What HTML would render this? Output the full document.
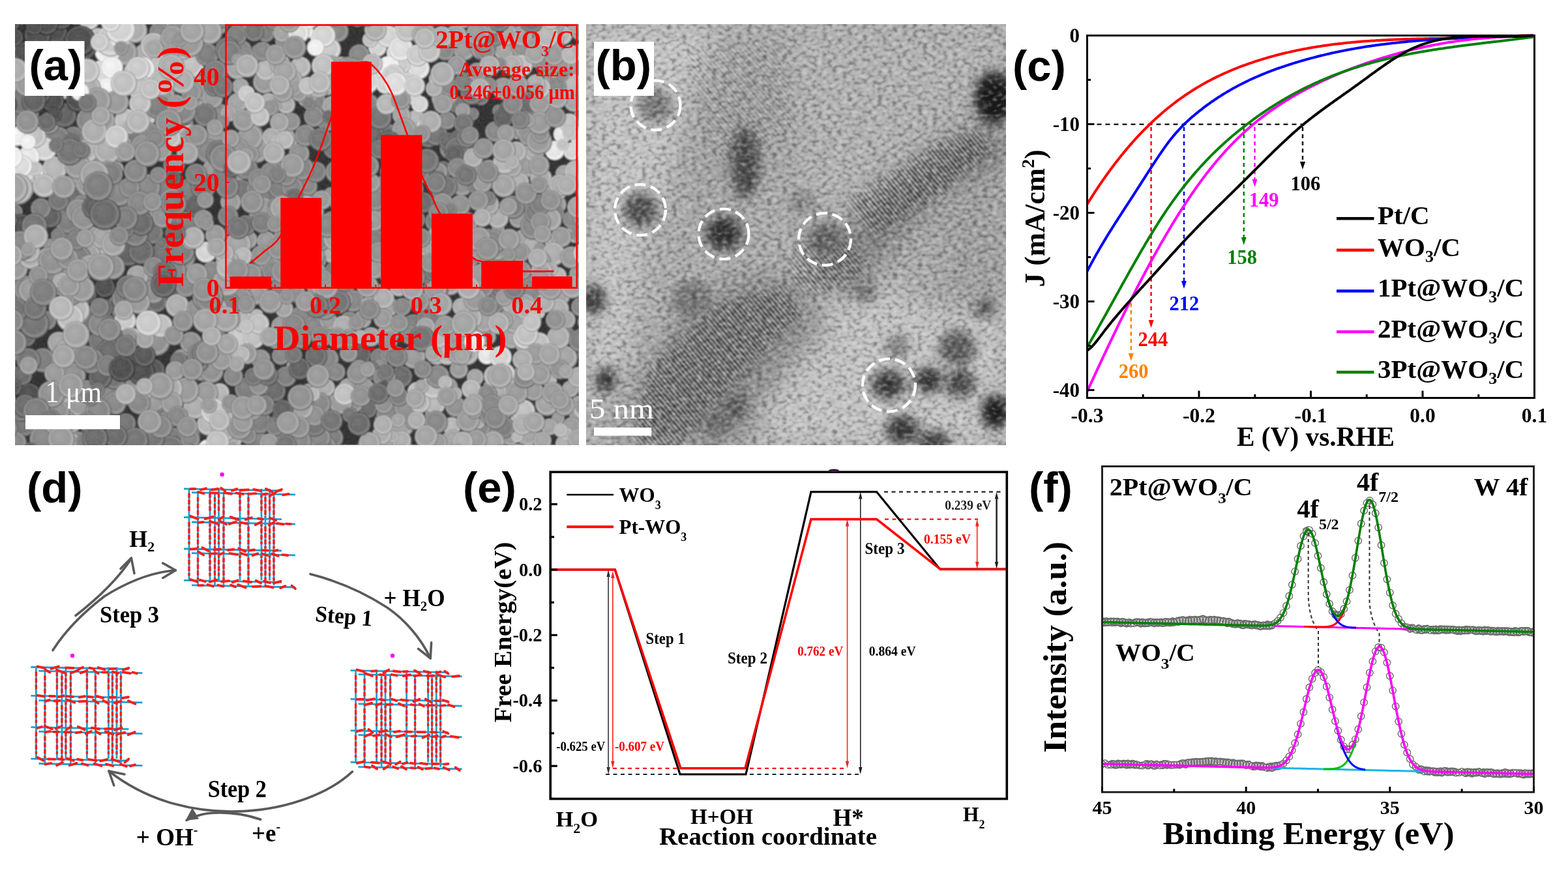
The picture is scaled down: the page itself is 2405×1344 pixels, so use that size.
<!DOCTYPE html>
<html><head><meta charset="utf-8"><style>html,body{margin:0;padding:0;background:#fff;}svg{display:block;}</style></head>
<body><svg width="2405" height="1344" viewBox="0 0 2405 1344">
<rect width="2405" height="1344" fill="#fff"/>
<defs><clipPath id="semclip"><rect x="23" y="37" width="865" height="646"/></clipPath><radialGradient id="sg0" cx="0.5" cy="0.5" r="0.5" fx="0.38" fy="0.34"><stop offset="0" stop-color="rgb(82,82,82)"/><stop offset="0.7" stop-color="rgb(70,70,70)"/><stop offset="0.88" stop-color="rgb(100,100,100)"/><stop offset="1" stop-color="rgb(10,10,10)"/></radialGradient><radialGradient id="sg1" cx="0.5" cy="0.5" r="0.5" fx="0.38" fy="0.34"><stop offset="0" stop-color="rgb(92,92,92)"/><stop offset="0.7" stop-color="rgb(80,80,80)"/><stop offset="0.88" stop-color="rgb(110,110,110)"/><stop offset="1" stop-color="rgb(20,20,20)"/></radialGradient><radialGradient id="sg2" cx="0.5" cy="0.5" r="0.5" fx="0.38" fy="0.34"><stop offset="0" stop-color="rgb(102,102,102)"/><stop offset="0.7" stop-color="rgb(90,90,90)"/><stop offset="0.88" stop-color="rgb(120,120,120)"/><stop offset="1" stop-color="rgb(30,30,30)"/></radialGradient><radialGradient id="sg3" cx="0.5" cy="0.5" r="0.5" fx="0.38" fy="0.34"><stop offset="0" stop-color="rgb(112,112,112)"/><stop offset="0.7" stop-color="rgb(100,100,100)"/><stop offset="0.88" stop-color="rgb(130,130,130)"/><stop offset="1" stop-color="rgb(40,40,40)"/></radialGradient><radialGradient id="sg4" cx="0.5" cy="0.5" r="0.5" fx="0.38" fy="0.34"><stop offset="0" stop-color="rgb(122,122,122)"/><stop offset="0.7" stop-color="rgb(110,110,110)"/><stop offset="0.88" stop-color="rgb(140,140,140)"/><stop offset="1" stop-color="rgb(50,50,50)"/></radialGradient><radialGradient id="sg5" cx="0.5" cy="0.5" r="0.5" fx="0.38" fy="0.34"><stop offset="0" stop-color="rgb(132,132,132)"/><stop offset="0.7" stop-color="rgb(120,120,120)"/><stop offset="0.88" stop-color="rgb(150,150,150)"/><stop offset="1" stop-color="rgb(60,60,60)"/></radialGradient><radialGradient id="sg6" cx="0.5" cy="0.5" r="0.5" fx="0.38" fy="0.34"><stop offset="0" stop-color="rgb(142,142,142)"/><stop offset="0.7" stop-color="rgb(130,130,130)"/><stop offset="0.88" stop-color="rgb(160,160,160)"/><stop offset="1" stop-color="rgb(70,70,70)"/></radialGradient><radialGradient id="sg7" cx="0.5" cy="0.5" r="0.5" fx="0.38" fy="0.34"><stop offset="0" stop-color="rgb(152,152,152)"/><stop offset="0.7" stop-color="rgb(140,140,140)"/><stop offset="0.88" stop-color="rgb(170,170,170)"/><stop offset="1" stop-color="rgb(80,80,80)"/></radialGradient><radialGradient id="sg8" cx="0.5" cy="0.5" r="0.5" fx="0.38" fy="0.34"><stop offset="0" stop-color="rgb(162,162,162)"/><stop offset="0.7" stop-color="rgb(150,150,150)"/><stop offset="0.88" stop-color="rgb(180,180,180)"/><stop offset="1" stop-color="rgb(90,90,90)"/></radialGradient><radialGradient id="sg9" cx="0.5" cy="0.5" r="0.5" fx="0.38" fy="0.34"><stop offset="0" stop-color="rgb(172,172,172)"/><stop offset="0.7" stop-color="rgb(160,160,160)"/><stop offset="0.88" stop-color="rgb(190,190,190)"/><stop offset="1" stop-color="rgb(100,100,100)"/></radialGradient><radialGradient id="sg10" cx="0.5" cy="0.5" r="0.5" fx="0.38" fy="0.34"><stop offset="0" stop-color="rgb(182,182,182)"/><stop offset="0.7" stop-color="rgb(170,170,170)"/><stop offset="0.88" stop-color="rgb(200,200,200)"/><stop offset="1" stop-color="rgb(110,110,110)"/></radialGradient><radialGradient id="sg11" cx="0.5" cy="0.5" r="0.5" fx="0.38" fy="0.34"><stop offset="0" stop-color="rgb(192,192,192)"/><stop offset="0.7" stop-color="rgb(180,180,180)"/><stop offset="0.88" stop-color="rgb(210,210,210)"/><stop offset="1" stop-color="rgb(120,120,120)"/></radialGradient><radialGradient id="sg12" cx="0.5" cy="0.5" r="0.5" fx="0.38" fy="0.34"><stop offset="0" stop-color="rgb(202,202,202)"/><stop offset="0.7" stop-color="rgb(190,190,190)"/><stop offset="0.88" stop-color="rgb(220,220,220)"/><stop offset="1" stop-color="rgb(130,130,130)"/></radialGradient><radialGradient id="sg13" cx="0.5" cy="0.5" r="0.5" fx="0.38" fy="0.34"><stop offset="0" stop-color="rgb(212,212,212)"/><stop offset="0.7" stop-color="rgb(200,200,200)"/><stop offset="0.88" stop-color="rgb(230,230,230)"/><stop offset="1" stop-color="rgb(140,140,140)"/></radialGradient><radialGradient id="sg14" cx="0.5" cy="0.5" r="0.5" fx="0.38" fy="0.34"><stop offset="0" stop-color="rgb(222,222,222)"/><stop offset="0.7" stop-color="rgb(210,210,210)"/><stop offset="0.88" stop-color="rgb(240,240,240)"/><stop offset="1" stop-color="rgb(150,150,150)"/></radialGradient><radialGradient id="sg15" cx="0.5" cy="0.5" r="0.5" fx="0.38" fy="0.34"><stop offset="0" stop-color="rgb(232,232,232)"/><stop offset="0.7" stop-color="rgb(220,220,220)"/><stop offset="0.88" stop-color="rgb(250,250,250)"/><stop offset="1" stop-color="rgb(160,160,160)"/></radialGradient><radialGradient id="sg16" cx="0.5" cy="0.5" r="0.5" fx="0.38" fy="0.34"><stop offset="0" stop-color="rgb(242,242,242)"/><stop offset="0.7" stop-color="rgb(230,230,230)"/><stop offset="0.88" stop-color="rgb(255,255,255)"/><stop offset="1" stop-color="rgb(170,170,170)"/></radialGradient><radialGradient id="sg17" cx="0.5" cy="0.5" r="0.5" fx="0.38" fy="0.34"><stop offset="0" stop-color="rgb(252,252,252)"/><stop offset="0.7" stop-color="rgb(240,240,240)"/><stop offset="0.88" stop-color="rgb(255,255,255)"/><stop offset="1" stop-color="rgb(180,180,180)"/></radialGradient><filter id="semblur" x="-0.2" y="-0.2" width="1.4" height="1.4"><feGaussianBlur stdDeviation="6"/></filter><filter id="semnoise" x="0" y="0" width="1" height="1"><feTurbulence type="fractalNoise" baseFrequency="0.3" numOctaves="2" seed="4"/><feColorMatrix type="matrix" values="0 0 0 0 0.5  0 0 0 0 0.5  0 0 0 0 0.5  0.33 0.33 0.33 0 -0.35"/></filter></defs>
<defs><filter id="semsoft" x="0" y="0" width="1" height="1"><feGaussianBlur stdDeviation="1.1"/></filter></defs>
<g clip-path="url(#semclip)"><g filter="url(#semsoft)">
<rect x="23" y="37" width="865" height="646" fill="#2a2a2a"/>
<circle cx="511" cy="229" r="15" fill="url(#sg4)"/>
<circle cx="524" cy="189" r="16" fill="url(#sg6)"/>
<circle cx="318" cy="82" r="13" fill="url(#sg9)"/>
<circle cx="489" cy="375" r="13" fill="url(#sg7)"/>
<circle cx="251" cy="628" r="17" fill="url(#sg12)"/>
<circle cx="135" cy="453" r="14" fill="url(#sg0)"/>
<circle cx="834" cy="162" r="14" fill="url(#sg8)"/>
<circle cx="240" cy="525" r="21" fill="url(#sg7)"/>
<circle cx="710" cy="216" r="16" fill="url(#sg6)"/>
<circle cx="539" cy="331" r="11" fill="url(#sg6)"/>
<circle cx="539" cy="367" r="18" fill="url(#sg9)"/>
<circle cx="523" cy="105" r="18" fill="url(#sg10)"/>
<circle cx="275" cy="205" r="14" fill="url(#sg11)"/>
<circle cx="205" cy="578" r="19" fill="url(#sg7)"/>
<circle cx="17" cy="540" r="15" fill="url(#sg7)"/>
<circle cx="904" cy="705" r="15" fill="url(#sg9)"/>
<circle cx="796" cy="651" r="16" fill="url(#sg12)"/>
<circle cx="103" cy="649" r="21" fill="url(#sg8)"/>
<circle cx="446" cy="319" r="18" fill="url(#sg8)"/>
<circle cx="906" cy="134" r="18" fill="url(#sg9)"/>
<circle cx="462" cy="490" r="20" fill="url(#sg6)"/>
<circle cx="751" cy="594" r="10" fill="url(#sg9)"/>
<circle cx="432" cy="96" r="12" fill="url(#sg9)"/>
<circle cx="678" cy="292" r="17" fill="url(#sg5)"/>
<circle cx="269" cy="437" r="14" fill="url(#sg2)"/>
<circle cx="655" cy="519" r="16" fill="url(#sg7)"/>
<circle cx="579" cy="73" r="14" fill="url(#sg14)"/>
<circle cx="94" cy="529" r="11" fill="url(#sg6)"/>
<circle cx="366" cy="509" r="11" fill="url(#sg13)"/>
<circle cx="750" cy="262" r="17" fill="url(#sg7)"/>
<circle cx="360" cy="360" r="17" fill="url(#sg5)"/>
<circle cx="845" cy="134" r="9" fill="url(#sg9)"/>
<circle cx="875" cy="597" r="13" fill="url(#sg9)"/>
<circle cx="470" cy="152" r="13" fill="url(#sg8)"/>
<circle cx="182" cy="477" r="12" fill="url(#sg4)"/>
<circle cx="815" cy="27" r="9" fill="url(#sg9)"/>
<circle cx="703" cy="428" r="12" fill="url(#sg11)"/>
<circle cx="754" cy="661" r="9" fill="url(#sg7)"/>
<circle cx="778" cy="379" r="17" fill="url(#sg6)"/>
<circle cx="554" cy="544" r="16" fill="url(#sg2)"/>
<circle cx="366" cy="265" r="13" fill="url(#sg7)"/>
<circle cx="452" cy="324" r="15" fill="url(#sg8)"/>
<circle cx="826" cy="35" r="12" fill="url(#sg6)"/>
<circle cx="154" cy="110" r="17" fill="url(#sg15)"/>
<circle cx="799" cy="153" r="17" fill="url(#sg5)"/>
<circle cx="587" cy="645" r="12" fill="url(#sg9)"/>
<circle cx="424" cy="404" r="16" fill="url(#sg10)"/>
<circle cx="711" cy="26" r="17" fill="url(#sg10)"/>
<circle cx="590" cy="293" r="14" fill="url(#sg7)"/>
<circle cx="849" cy="111" r="17" fill="url(#sg7)"/>
<circle cx="90" cy="526" r="17" fill="url(#sg9)"/>
<circle cx="34" cy="576" r="16" fill="url(#sg3)"/>
<circle cx="481" cy="502" r="17" fill="url(#sg6)"/>
<circle cx="530" cy="21" r="18" fill="url(#sg2)"/>
<circle cx="856" cy="105" r="18" fill="url(#sg8)"/>
<circle cx="409" cy="370" r="15" fill="url(#sg8)"/>
<circle cx="619" cy="253" r="11" fill="url(#sg5)"/>
<circle cx="709" cy="283" r="18" fill="url(#sg7)"/>
<circle cx="655" cy="57" r="12" fill="url(#sg10)"/>
<circle cx="399" cy="331" r="17" fill="url(#sg7)"/>
<circle cx="614" cy="412" r="12" fill="url(#sg8)"/>
<circle cx="275" cy="192" r="23" fill="url(#sg5)"/>
<circle cx="780" cy="397" r="15" fill="url(#sg6)"/>
<circle cx="586" cy="409" r="12" fill="url(#sg6)"/>
<circle cx="665" cy="637" r="13" fill="url(#sg8)"/>
<circle cx="701" cy="161" r="13" fill="url(#sg4)"/>
<circle cx="387" cy="311" r="16" fill="url(#sg5)"/>
<circle cx="453" cy="689" r="17" fill="url(#sg7)"/>
<circle cx="729" cy="579" r="13" fill="url(#sg9)"/>
<circle cx="863" cy="54" r="15" fill="url(#sg11)"/>
<circle cx="664" cy="26" r="14" fill="url(#sg8)"/>
<circle cx="179" cy="259" r="11" fill="url(#sg8)"/>
<circle cx="438" cy="313" r="16" fill="url(#sg8)"/>
<circle cx="803" cy="631" r="18" fill="url(#sg12)"/>
<circle cx="364" cy="158" r="15" fill="url(#sg9)"/>
<circle cx="113" cy="576" r="19" fill="url(#sg7)"/>
<circle cx="496" cy="617" r="17" fill="url(#sg7)"/>
<circle cx="278" cy="551" r="15" fill="url(#sg8)"/>
<circle cx="823" cy="444" r="16" fill="url(#sg9)"/>
<circle cx="222" cy="83" r="16" fill="url(#sg10)"/>
<circle cx="319" cy="651" r="17" fill="url(#sg11)"/>
<circle cx="508" cy="299" r="12" fill="url(#sg7)"/>
<circle cx="331" cy="211" r="16" fill="url(#sg8)"/>
<circle cx="33" cy="492" r="14" fill="url(#sg2)"/>
<circle cx="789" cy="380" r="18" fill="url(#sg8)"/>
<circle cx="268" cy="446" r="19" fill="url(#sg2)"/>
<circle cx="765" cy="170" r="10" fill="url(#sg5)"/>
<circle cx="183" cy="200" r="18" fill="url(#sg11)"/>
<circle cx="596" cy="208" r="18" fill="url(#sg5)"/>
<circle cx="173" cy="521" r="19" fill="url(#sg4)"/>
<circle cx="764" cy="352" r="10" fill="url(#sg8)"/>
<circle cx="121" cy="274" r="16" fill="url(#sg9)"/>
<circle cx="535" cy="542" r="14" fill="url(#sg7)"/>
<circle cx="475" cy="604" r="16" fill="url(#sg8)"/>
<circle cx="693" cy="654" r="14" fill="url(#sg11)"/>
<circle cx="680" cy="261" r="14" fill="url(#sg3)"/>
<circle cx="854" cy="68" r="11" fill="url(#sg8)"/>
<circle cx="502" cy="187" r="15" fill="url(#sg6)"/>
<circle cx="897" cy="181" r="18" fill="url(#sg7)"/>
<circle cx="411" cy="596" r="11" fill="url(#sg1)"/>
<circle cx="699" cy="56" r="18" fill="url(#sg9)"/>
<circle cx="510" cy="672" r="17" fill="url(#sg5)"/>
<circle cx="456" cy="301" r="17" fill="url(#sg3)"/>
<circle cx="616" cy="53" r="16" fill="url(#sg16)"/>
<circle cx="664" cy="593" r="17" fill="url(#sg10)"/>
<circle cx="330" cy="698" r="12" fill="url(#sg12)"/>
<circle cx="582" cy="33" r="14" fill="url(#sg14)"/>
<circle cx="297" cy="151" r="17" fill="url(#sg8)"/>
<circle cx="565" cy="628" r="14" fill="url(#sg3)"/>
<circle cx="541" cy="618" r="17" fill="url(#sg7)"/>
<circle cx="760" cy="691" r="18" fill="url(#sg7)"/>
<circle cx="258" cy="77" r="20" fill="url(#sg11)"/>
<circle cx="236" cy="618" r="16" fill="url(#sg8)"/>
<circle cx="736" cy="656" r="17" fill="url(#sg6)"/>
<circle cx="773" cy="272" r="16" fill="url(#sg7)"/>
<circle cx="535" cy="596" r="16" fill="url(#sg9)"/>
<circle cx="131" cy="702" r="18" fill="url(#sg5)"/>
<circle cx="279" cy="395" r="21" fill="url(#sg6)"/>
<circle cx="866" cy="681" r="14" fill="url(#sg10)"/>
<circle cx="866" cy="267" r="14" fill="url(#sg9)"/>
<circle cx="406" cy="126" r="18" fill="url(#sg8)"/>
<circle cx="891" cy="47" r="16" fill="url(#sg8)"/>
<circle cx="811" cy="309" r="17" fill="url(#sg8)"/>
<circle cx="772" cy="678" r="15" fill="url(#sg9)"/>
<circle cx="403" cy="703" r="14" fill="url(#sg6)"/>
<circle cx="520" cy="309" r="15" fill="url(#sg9)"/>
<circle cx="359" cy="637" r="15" fill="url(#sg5)"/>
<circle cx="458" cy="388" r="15" fill="url(#sg5)"/>
<circle cx="400" cy="224" r="13" fill="url(#sg9)"/>
<circle cx="704" cy="567" r="14" fill="url(#sg8)"/>
<circle cx="901" cy="648" r="17" fill="url(#sg9)"/>
<circle cx="797" cy="374" r="20" fill="url(#sg9)"/>
<circle cx="726" cy="466" r="17" fill="url(#sg12)"/>
<circle cx="811" cy="255" r="14" fill="url(#sg12)"/>
<circle cx="269" cy="352" r="13" fill="url(#sg5)"/>
<circle cx="267" cy="254" r="17" fill="url(#sg4)"/>
<circle cx="660" cy="402" r="19" fill="url(#sg7)"/>
<circle cx="398" cy="440" r="16" fill="url(#sg4)"/>
<circle cx="119" cy="109" r="21" fill="url(#sg17)"/>
<circle cx="394" cy="232" r="18" fill="url(#sg8)"/>
<circle cx="87" cy="637" r="14" fill="url(#sg4)"/>
<circle cx="219" cy="179" r="20" fill="url(#sg12)"/>
<circle cx="46" cy="605" r="17" fill="url(#sg0)"/>
<circle cx="224" cy="325" r="11" fill="url(#sg6)"/>
<circle cx="349" cy="655" r="21" fill="url(#sg10)"/>
<circle cx="817" cy="533" r="19" fill="url(#sg12)"/>
<circle cx="889" cy="621" r="14" fill="url(#sg9)"/>
<circle cx="811" cy="256" r="16" fill="url(#sg8)"/>
<circle cx="582" cy="548" r="14" fill="url(#sg5)"/>
<circle cx="795" cy="336" r="14" fill="url(#sg8)"/>
<circle cx="457" cy="358" r="14" fill="url(#sg11)"/>
<circle cx="222" cy="289" r="18" fill="url(#sg4)"/>
<circle cx="160" cy="185" r="17" fill="url(#sg8)"/>
<circle cx="551" cy="568" r="16" fill="url(#sg7)"/>
<circle cx="84" cy="48" r="20" fill="url(#sg0)"/>
<circle cx="856" cy="642" r="10" fill="url(#sg8)"/>
<circle cx="343" cy="692" r="19" fill="url(#sg12)"/>
<circle cx="190" cy="315" r="18" fill="url(#sg4)"/>
<circle cx="465" cy="310" r="13" fill="url(#sg10)"/>
<circle cx="518" cy="48" r="17" fill="url(#sg6)"/>
<circle cx="785" cy="520" r="15" fill="url(#sg9)"/>
<circle cx="531" cy="392" r="16" fill="url(#sg10)"/>
<circle cx="500" cy="595" r="14" fill="url(#sg10)"/>
<circle cx="408" cy="108" r="16" fill="url(#sg11)"/>
<circle cx="52" cy="263" r="16" fill="url(#sg15)"/>
<circle cx="234" cy="358" r="17" fill="url(#sg4)"/>
<circle cx="902" cy="238" r="18" fill="url(#sg15)"/>
<circle cx="408" cy="52" r="13" fill="url(#sg5)"/>
<circle cx="221" cy="440" r="19" fill="url(#sg6)"/>
<circle cx="326" cy="418" r="17" fill="url(#sg6)"/>
<circle cx="146" cy="363" r="15" fill="url(#sg9)"/>
<circle cx="257" cy="290" r="19" fill="url(#sg5)"/>
<circle cx="697" cy="349" r="9" fill="url(#sg5)"/>
<circle cx="379" cy="259" r="17" fill="url(#sg5)"/>
<circle cx="689" cy="337" r="18" fill="url(#sg6)"/>
<circle cx="614" cy="269" r="15" fill="url(#sg9)"/>
<circle cx="68" cy="127" r="18" fill="url(#sg10)"/>
<circle cx="672" cy="264" r="15" fill="url(#sg7)"/>
<circle cx="690" cy="611" r="17" fill="url(#sg8)"/>
<circle cx="16" cy="441" r="20" fill="url(#sg5)"/>
<circle cx="596" cy="420" r="15" fill="url(#sg7)"/>
<circle cx="591" cy="284" r="16" fill="url(#sg7)"/>
<circle cx="673" cy="692" r="12" fill="url(#sg10)"/>
<circle cx="493" cy="516" r="16" fill="url(#sg7)"/>
<circle cx="616" cy="578" r="17" fill="url(#sg3)"/>
<circle cx="240" cy="463" r="17" fill="url(#sg3)"/>
<circle cx="597" cy="210" r="12" fill="url(#sg2)"/>
<circle cx="165" cy="605" r="19" fill="url(#sg6)"/>
<circle cx="37" cy="653" r="17" fill="url(#sg4)"/>
<circle cx="635" cy="548" r="18" fill="url(#sg8)"/>
<circle cx="657" cy="211" r="16" fill="url(#sg3)"/>
<circle cx="513" cy="416" r="15" fill="url(#sg5)"/>
<circle cx="794" cy="202" r="12" fill="url(#sg8)"/>
<circle cx="357" cy="673" r="15" fill="url(#sg10)"/>
<circle cx="560" cy="132" r="16" fill="url(#sg11)"/>
<circle cx="430" cy="117" r="14" fill="url(#sg11)"/>
<circle cx="787" cy="318" r="18" fill="url(#sg5)"/>
<circle cx="502" cy="130" r="16" fill="url(#sg12)"/>
<circle cx="774" cy="481" r="12" fill="url(#sg7)"/>
<circle cx="42" cy="444" r="21" fill="url(#sg6)"/>
<circle cx="320" cy="691" r="17" fill="url(#sg17)"/>
<circle cx="485" cy="442" r="14" fill="url(#sg7)"/>
<circle cx="247" cy="148" r="22" fill="url(#sg8)"/>
<circle cx="844" cy="533" r="9" fill="url(#sg10)"/>
<circle cx="902" cy="574" r="10" fill="url(#sg9)"/>
<circle cx="689" cy="674" r="12" fill="url(#sg10)"/>
<circle cx="822" cy="365" r="11" fill="url(#sg10)"/>
<circle cx="896" cy="323" r="11" fill="url(#sg6)"/>
<circle cx="177" cy="689" r="13" fill="url(#sg5)"/>
<circle cx="392" cy="449" r="19" fill="url(#sg8)"/>
<circle cx="286" cy="669" r="21" fill="url(#sg7)"/>
<circle cx="56" cy="235" r="12" fill="url(#sg17)"/>
<circle cx="492" cy="57" r="16" fill="url(#sg17)"/>
<circle cx="292" cy="211" r="20" fill="url(#sg11)"/>
<circle cx="29" cy="28" r="13" fill="url(#sg0)"/>
<circle cx="895" cy="637" r="19" fill="url(#sg8)"/>
<circle cx="470" cy="299" r="18" fill="url(#sg6)"/>
<circle cx="432" cy="501" r="16" fill="url(#sg8)"/>
<circle cx="406" cy="411" r="14" fill="url(#sg8)"/>
<circle cx="582" cy="345" r="15" fill="url(#sg6)"/>
<circle cx="143" cy="256" r="16" fill="url(#sg7)"/>
<circle cx="226" cy="288" r="21" fill="url(#sg6)"/>
<circle cx="747" cy="545" r="14" fill="url(#sg16)"/>
<circle cx="527" cy="440" r="17" fill="url(#sg5)"/>
<circle cx="563" cy="701" r="18" fill="url(#sg4)"/>
<circle cx="545" cy="605" r="15" fill="url(#sg7)"/>
<circle cx="164" cy="525" r="13" fill="url(#sg4)"/>
<circle cx="104" cy="540" r="20" fill="url(#sg9)"/>
<circle cx="378" cy="597" r="18" fill="url(#sg5)"/>
<circle cx="461" cy="103" r="16" fill="url(#sg11)"/>
<circle cx="244" cy="49" r="15" fill="url(#sg6)"/>
<circle cx="457" cy="25" r="15" fill="url(#sg13)"/>
<circle cx="339" cy="640" r="19" fill="url(#sg10)"/>
<circle cx="510" cy="386" r="18" fill="url(#sg10)"/>
<circle cx="631" cy="385" r="14" fill="url(#sg9)"/>
<circle cx="191" cy="30" r="18" fill="url(#sg7)"/>
<circle cx="620" cy="204" r="18" fill="url(#sg5)"/>
<circle cx="183" cy="381" r="19" fill="url(#sg6)"/>
<circle cx="734" cy="648" r="10" fill="url(#sg10)"/>
<circle cx="890" cy="209" r="16" fill="url(#sg14)"/>
<circle cx="310" cy="563" r="22" fill="url(#sg7)"/>
<circle cx="413" cy="161" r="18" fill="url(#sg10)"/>
<circle cx="61" cy="688" r="16" fill="url(#sg3)"/>
<circle cx="738" cy="150" r="12" fill="url(#sg4)"/>
<circle cx="591" cy="416" r="14" fill="url(#sg8)"/>
<circle cx="398" cy="81" r="14" fill="url(#sg6)"/>
<circle cx="856" cy="423" r="13" fill="url(#sg11)"/>
<circle cx="74" cy="650" r="17" fill="url(#sg4)"/>
<circle cx="523" cy="618" r="18" fill="url(#sg8)"/>
<circle cx="186" cy="232" r="17" fill="url(#sg7)"/>
<circle cx="297" cy="432" r="11" fill="url(#sg6)"/>
<circle cx="249" cy="326" r="20" fill="url(#sg7)"/>
<circle cx="137" cy="30" r="16" fill="url(#sg13)"/>
<circle cx="604" cy="337" r="16" fill="url(#sg8)"/>
<circle cx="595" cy="56" r="17" fill="url(#sg14)"/>
<circle cx="783" cy="671" r="13" fill="url(#sg8)"/>
<circle cx="277" cy="44" r="14" fill="url(#sg6)"/>
<circle cx="631" cy="337" r="17" fill="url(#sg4)"/>
<circle cx="325" cy="570" r="18" fill="url(#sg7)"/>
<circle cx="432" cy="439" r="16" fill="url(#sg6)"/>
<circle cx="83" cy="419" r="21" fill="url(#sg6)"/>
<circle cx="113" cy="212" r="18" fill="url(#sg5)"/>
<circle cx="448" cy="125" r="17" fill="url(#sg9)"/>
<circle cx="252" cy="645" r="19" fill="url(#sg4)"/>
<circle cx="223" cy="708" r="18" fill="url(#sg7)"/>
<circle cx="380" cy="32" r="18" fill="url(#sg8)"/>
<circle cx="107" cy="69" r="15" fill="url(#sg0)"/>
<circle cx="337" cy="603" r="15" fill="url(#sg11)"/>
<circle cx="355" cy="460" r="15" fill="url(#sg9)"/>
<circle cx="89" cy="214" r="20" fill="url(#sg5)"/>
<circle cx="773" cy="656" r="17" fill="url(#sg5)"/>
<circle cx="618" cy="422" r="18" fill="url(#sg5)"/>
<circle cx="836" cy="102" r="14" fill="url(#sg7)"/>
<circle cx="320" cy="232" r="19" fill="url(#sg6)"/>
<circle cx="422" cy="600" r="17" fill="url(#sg3)"/>
<circle cx="72" cy="708" r="17" fill="url(#sg2)"/>
<circle cx="293" cy="100" r="20" fill="url(#sg12)"/>
<circle cx="814" cy="161" r="16" fill="url(#sg3)"/>
<circle cx="303" cy="554" r="18" fill="url(#sg4)"/>
<circle cx="669" cy="206" r="18" fill="url(#sg4)"/>
<circle cx="61" cy="486" r="15" fill="url(#sg3)"/>
<circle cx="809" cy="433" r="12" fill="url(#sg6)"/>
<circle cx="207" cy="47" r="19" fill="url(#sg10)"/>
<circle cx="179" cy="36" r="17" fill="url(#sg14)"/>
<circle cx="113" cy="627" r="16" fill="url(#sg7)"/>
<circle cx="499" cy="111" r="12" fill="url(#sg12)"/>
<circle cx="509" cy="342" r="18" fill="url(#sg6)"/>
<circle cx="815" cy="449" r="16" fill="url(#sg6)"/>
<circle cx="364" cy="522" r="18" fill="url(#sg13)"/>
<circle cx="399" cy="39" r="9" fill="url(#sg6)"/>
<circle cx="553" cy="239" r="16" fill="url(#sg6)"/>
<circle cx="495" cy="658" r="15" fill="url(#sg6)"/>
<circle cx="381" cy="368" r="14" fill="url(#sg8)"/>
<circle cx="269" cy="335" r="18" fill="url(#sg5)"/>
<circle cx="506" cy="76" r="17" fill="url(#sg13)"/>
<circle cx="75" cy="189" r="17" fill="url(#sg6)"/>
<circle cx="773" cy="77" r="16" fill="url(#sg9)"/>
<circle cx="675" cy="604" r="13" fill="url(#sg11)"/>
<circle cx="124" cy="618" r="23" fill="url(#sg8)"/>
<circle cx="712" cy="76" r="17" fill="url(#sg8)"/>
<circle cx="567" cy="174" r="14" fill="url(#sg6)"/>
<circle cx="397" cy="592" r="15" fill="url(#sg7)"/>
<circle cx="832" cy="50" r="16" fill="url(#sg5)"/>
<circle cx="48" cy="446" r="20" fill="url(#sg8)"/>
<circle cx="455" cy="564" r="16" fill="url(#sg8)"/>
<circle cx="503" cy="551" r="17" fill="url(#sg6)"/>
<circle cx="461" cy="410" r="14" fill="url(#sg6)"/>
<circle cx="400" cy="551" r="15" fill="url(#sg7)"/>
<circle cx="330" cy="262" r="20" fill="url(#sg8)"/>
<circle cx="790" cy="496" r="16" fill="url(#sg9)"/>
<circle cx="872" cy="21" r="15" fill="url(#sg11)"/>
<circle cx="706" cy="96" r="9" fill="url(#sg5)"/>
<circle cx="151" cy="59" r="16" fill="url(#sg12)"/>
<circle cx="23" cy="325" r="12" fill="url(#sg5)"/>
<circle cx="369" cy="133" r="13" fill="url(#sg9)"/>
<circle cx="682" cy="151" r="20" fill="url(#sg9)"/>
<circle cx="400" cy="335" r="10" fill="url(#sg8)"/>
<circle cx="182" cy="468" r="17" fill="url(#sg5)"/>
<circle cx="438" cy="163" r="9" fill="url(#sg10)"/>
<circle cx="268" cy="415" r="18" fill="url(#sg6)"/>
<circle cx="316" cy="387" r="16" fill="url(#sg14)"/>
<circle cx="378" cy="144" r="13" fill="url(#sg13)"/>
<circle cx="693" cy="22" r="14" fill="url(#sg7)"/>
<circle cx="835" cy="225" r="9" fill="url(#sg10)"/>
<circle cx="584" cy="563" r="12" fill="url(#sg7)"/>
<circle cx="88" cy="547" r="13" fill="url(#sg7)"/>
<circle cx="373" cy="493" r="17" fill="url(#sg11)"/>
<circle cx="773" cy="590" r="18" fill="url(#sg11)"/>
<circle cx="226" cy="666" r="13" fill="url(#sg7)"/>
<circle cx="858" cy="453" r="17" fill="url(#sg9)"/>
<circle cx="542" cy="462" r="17" fill="url(#sg6)"/>
<circle cx="749" cy="366" r="15" fill="url(#sg7)"/>
<circle cx="567" cy="569" r="16" fill="url(#sg3)"/>
<circle cx="534" cy="190" r="15" fill="url(#sg8)"/>
<circle cx="806" cy="181" r="11" fill="url(#sg5)"/>
<circle cx="470" cy="48" r="11" fill="url(#sg16)"/>
<circle cx="748" cy="517" r="13" fill="url(#sg8)"/>
<circle cx="839" cy="620" r="18" fill="url(#sg9)"/>
<circle cx="215" cy="559" r="15" fill="url(#sg2)"/>
<circle cx="473" cy="286" r="14" fill="url(#sg6)"/>
<circle cx="643" cy="187" r="15" fill="url(#sg15)"/>
<circle cx="551" cy="84" r="16" fill="url(#sg6)"/>
<circle cx="669" cy="417" r="15" fill="url(#sg4)"/>
<circle cx="757" cy="678" r="17" fill="url(#sg9)"/>
<circle cx="210" cy="213" r="21" fill="url(#sg4)"/>
<circle cx="339" cy="540" r="23" fill="url(#sg8)"/>
<circle cx="685" cy="287" r="17" fill="url(#sg4)"/>
<circle cx="439" cy="578" r="16" fill="url(#sg5)"/>
<circle cx="827" cy="480" r="9" fill="url(#sg12)"/>
<circle cx="388" cy="207" r="16" fill="url(#sg9)"/>
<circle cx="760" cy="202" r="16" fill="url(#sg6)"/>
<circle cx="699" cy="624" r="16" fill="url(#sg7)"/>
<circle cx="843" cy="567" r="16" fill="url(#sg6)"/>
<circle cx="631" cy="31" r="14" fill="url(#sg9)"/>
<circle cx="883" cy="263" r="17" fill="url(#sg11)"/>
<circle cx="694" cy="390" r="16" fill="url(#sg7)"/>
<circle cx="430" cy="99" r="16" fill="url(#sg9)"/>
<circle cx="317" cy="603" r="18" fill="url(#sg8)"/>
<circle cx="337" cy="177" r="18" fill="url(#sg6)"/>
<circle cx="794" cy="32" r="14" fill="url(#sg5)"/>
<circle cx="850" cy="374" r="14" fill="url(#sg10)"/>
<circle cx="895" cy="324" r="15" fill="url(#sg5)"/>
<circle cx="94" cy="363" r="16" fill="url(#sg6)"/>
<circle cx="77" cy="376" r="10" fill="url(#sg7)"/>
<circle cx="444" cy="341" r="15" fill="url(#sg5)"/>
<circle cx="534" cy="104" r="17" fill="url(#sg7)"/>
<circle cx="567" cy="470" r="15" fill="url(#sg10)"/>
<circle cx="441" cy="647" r="17" fill="url(#sg6)"/>
<circle cx="264" cy="674" r="18" fill="url(#sg5)"/>
<circle cx="723" cy="597" r="15" fill="url(#sg11)"/>
<circle cx="683" cy="79" r="14" fill="url(#sg6)"/>
<circle cx="587" cy="706" r="16" fill="url(#sg7)"/>
<circle cx="41" cy="518" r="14" fill="url(#sg3)"/>
<circle cx="391" cy="671" r="16" fill="url(#sg6)"/>
<circle cx="178" cy="23" r="24" fill="url(#sg17)"/>
<circle cx="333" cy="25" r="24" fill="url(#sg9)"/>
<circle cx="596" cy="638" r="19" fill="url(#sg6)"/>
<circle cx="883" cy="155" r="15" fill="url(#sg8)"/>
<circle cx="545" cy="570" r="11" fill="url(#sg7)"/>
<circle cx="679" cy="313" r="17" fill="url(#sg7)"/>
<circle cx="485" cy="157" r="16" fill="url(#sg6)"/>
<circle cx="589" cy="621" r="14" fill="url(#sg7)"/>
<circle cx="689" cy="134" r="14" fill="url(#sg6)"/>
<circle cx="617" cy="653" r="18" fill="url(#sg9)"/>
<circle cx="26" cy="207" r="17" fill="url(#sg17)"/>
<circle cx="232" cy="142" r="23" fill="url(#sg14)"/>
<circle cx="288" cy="343" r="19" fill="url(#sg5)"/>
<circle cx="195" cy="22" r="19" fill="url(#sg7)"/>
<circle cx="420" cy="31" r="15" fill="url(#sg5)"/>
<circle cx="763" cy="283" r="11" fill="url(#sg7)"/>
<circle cx="504" cy="493" r="14" fill="url(#sg8)"/>
<circle cx="764" cy="603" r="15" fill="url(#sg10)"/>
<circle cx="831" cy="564" r="17" fill="url(#sg9)"/>
<circle cx="751" cy="396" r="15" fill="url(#sg7)"/>
<circle cx="81" cy="328" r="15" fill="url(#sg5)"/>
<circle cx="597" cy="471" r="15" fill="url(#sg9)"/>
<circle cx="891" cy="471" r="15" fill="url(#sg6)"/>
<circle cx="655" cy="419" r="12" fill="url(#sg6)"/>
<circle cx="843" cy="584" r="11" fill="url(#sg11)"/>
<circle cx="696" cy="366" r="20" fill="url(#sg10)"/>
<circle cx="597" cy="359" r="14" fill="url(#sg6)"/>
<circle cx="218" cy="604" r="15" fill="url(#sg9)"/>
<circle cx="312" cy="135" r="20" fill="url(#sg8)"/>
<circle cx="868" cy="549" r="18" fill="url(#sg9)"/>
<circle cx="104" cy="339" r="20" fill="url(#sg5)"/>
<circle cx="133" cy="232" r="18" fill="url(#sg11)"/>
<circle cx="570" cy="600" r="13" fill="url(#sg6)"/>
<circle cx="670" cy="276" r="14" fill="url(#sg3)"/>
<circle cx="432" cy="63" r="10" fill="url(#sg7)"/>
<circle cx="372" cy="292" r="16" fill="url(#sg4)"/>
<circle cx="121" cy="370" r="20" fill="url(#sg5)"/>
<circle cx="191" cy="81" r="20" fill="url(#sg8)"/>
<circle cx="717" cy="543" r="17" fill="url(#sg10)"/>
<circle cx="377" cy="346" r="16" fill="url(#sg4)"/>
<circle cx="883" cy="358" r="15" fill="url(#sg10)"/>
<circle cx="719" cy="231" r="15" fill="url(#sg3)"/>
<circle cx="851" cy="231" r="15" fill="url(#sg16)"/>
<circle cx="327" cy="121" r="13" fill="url(#sg7)"/>
<circle cx="27" cy="371" r="17" fill="url(#sg7)"/>
<circle cx="235" cy="569" r="19" fill="url(#sg1)"/>
<circle cx="499" cy="685" r="17" fill="url(#sg6)"/>
<circle cx="177" cy="143" r="19" fill="url(#sg14)"/>
<circle cx="805" cy="528" r="15" fill="url(#sg8)"/>
<circle cx="250" cy="389" r="18" fill="url(#sg4)"/>
<circle cx="337" cy="438" r="16" fill="url(#sg7)"/>
<circle cx="119" cy="426" r="19" fill="url(#sg8)"/>
<circle cx="299" cy="625" r="18" fill="url(#sg10)"/>
<circle cx="610" cy="238" r="15" fill="url(#sg6)"/>
<circle cx="411" cy="576" r="16" fill="url(#sg3)"/>
<circle cx="621" cy="93" r="9" fill="url(#sg16)"/>
<circle cx="490" cy="620" r="18" fill="url(#sg6)"/>
<circle cx="668" cy="621" r="15" fill="url(#sg11)"/>
<circle cx="274" cy="553" r="13" fill="url(#sg4)"/>
<circle cx="499" cy="473" r="18" fill="url(#sg6)"/>
<circle cx="290" cy="292" r="18" fill="url(#sg5)"/>
<circle cx="294" cy="142" r="16" fill="url(#sg7)"/>
<circle cx="430" cy="659" r="19" fill="url(#sg6)"/>
<circle cx="278" cy="386" r="21" fill="url(#sg5)"/>
<circle cx="853" cy="314" r="16" fill="url(#sg8)"/>
<circle cx="84" cy="259" r="19" fill="url(#sg11)"/>
<circle cx="399" cy="648" r="18" fill="url(#sg5)"/>
<circle cx="819" cy="600" r="15" fill="url(#sg8)"/>
<circle cx="801" cy="73" r="17" fill="url(#sg7)"/>
<circle cx="669" cy="127" r="11" fill="url(#sg12)"/>
<circle cx="618" cy="692" r="17" fill="url(#sg10)"/>
<circle cx="444" cy="217" r="12" fill="url(#sg10)"/>
<circle cx="268" cy="33" r="15" fill="url(#sg8)"/>
<circle cx="192" cy="492" r="17" fill="url(#sg13)"/>
<circle cx="24" cy="412" r="19" fill="url(#sg8)"/>
<circle cx="848" cy="603" r="17" fill="url(#sg8)"/>
<circle cx="198" cy="389" r="20" fill="url(#sg2)"/>
<circle cx="553" cy="110" r="18" fill="url(#sg9)"/>
<circle cx="158" cy="500" r="17" fill="url(#sg3)"/>
<circle cx="293" cy="526" r="17" fill="url(#sg7)"/>
<circle cx="211" cy="424" r="17" fill="url(#sg9)"/>
<circle cx="806" cy="670" r="13" fill="url(#sg11)"/>
<circle cx="165" cy="231" r="21" fill="url(#sg10)"/>
<circle cx="650" cy="493" r="11" fill="url(#sg7)"/>
<circle cx="165" cy="78" r="20" fill="url(#sg17)"/>
<circle cx="432" cy="388" r="18" fill="url(#sg9)"/>
<circle cx="489" cy="400" r="12" fill="url(#sg6)"/>
<circle cx="439" cy="161" r="14" fill="url(#sg10)"/>
<circle cx="134" cy="601" r="18" fill="url(#sg6)"/>
<circle cx="478" cy="324" r="19" fill="url(#sg9)"/>
<circle cx="451" cy="499" r="18" fill="url(#sg6)"/>
<circle cx="335" cy="40" r="14" fill="url(#sg7)"/>
<circle cx="280" cy="74" r="18" fill="url(#sg10)"/>
<circle cx="610" cy="81" r="17" fill="url(#sg15)"/>
<circle cx="850" cy="39" r="15" fill="url(#sg8)"/>
<circle cx="764" cy="335" r="16" fill="url(#sg10)"/>
<circle cx="889" cy="640" r="9" fill="url(#sg7)"/>
<circle cx="739" cy="34" r="14" fill="url(#sg6)"/>
<circle cx="626" cy="338" r="19" fill="url(#sg8)"/>
<circle cx="438" cy="212" r="16" fill="url(#sg8)"/>
<circle cx="531" cy="459" r="11" fill="url(#sg7)"/>
<circle cx="537" cy="637" r="12" fill="url(#sg4)"/>
<circle cx="91" cy="443" r="10" fill="url(#sg8)"/>
<circle cx="338" cy="239" r="18" fill="url(#sg4)"/>
<circle cx="686" cy="185" r="14" fill="url(#sg6)"/>
<circle cx="490" cy="440" r="12" fill="url(#sg10)"/>
<circle cx="372" cy="436" r="15" fill="url(#sg7)"/>
<circle cx="622" cy="627" r="17" fill="url(#sg7)"/>
<circle cx="242" cy="164" r="19" fill="url(#sg5)"/>
<circle cx="436" cy="520" r="15" fill="url(#sg6)"/>
<circle cx="616" cy="286" r="17" fill="url(#sg7)"/>
<circle cx="363" cy="30" r="13" fill="url(#sg7)"/>
<circle cx="57" cy="188" r="11" fill="url(#sg4)"/>
<circle cx="258" cy="642" r="13" fill="url(#sg6)"/>
<circle cx="328" cy="631" r="20" fill="url(#sg13)"/>
<circle cx="58" cy="54" r="21" fill="url(#sg0)"/>
<circle cx="365" cy="464" r="14" fill="url(#sg7)"/>
<circle cx="178" cy="361" r="12" fill="url(#sg6)"/>
<circle cx="60" cy="108" r="20" fill="url(#sg11)"/>
<circle cx="797" cy="280" r="15" fill="url(#sg10)"/>
<circle cx="372" cy="76" r="14" fill="url(#sg6)"/>
<circle cx="72" cy="492" r="15" fill="url(#sg5)"/>
<circle cx="691" cy="437" r="16" fill="url(#sg9)"/>
<circle cx="135" cy="491" r="19" fill="url(#sg4)"/>
<circle cx="734" cy="265" r="18" fill="url(#sg7)"/>
<circle cx="217" cy="386" r="20" fill="url(#sg3)"/>
<circle cx="750" cy="638" r="14" fill="url(#sg6)"/>
<circle cx="558" cy="186" r="15" fill="url(#sg7)"/>
<circle cx="721" cy="396" r="14" fill="url(#sg6)"/>
<circle cx="805" cy="363" r="13" fill="url(#sg9)"/>
<circle cx="898" cy="275" r="14" fill="url(#sg12)"/>
<circle cx="623" cy="105" r="17" fill="url(#sg16)"/>
<circle cx="14" cy="33" r="18" fill="url(#sg0)"/>
<circle cx="463" cy="520" r="15" fill="url(#sg6)"/>
<circle cx="176" cy="579" r="19" fill="url(#sg4)"/>
<circle cx="127" cy="339" r="11" fill="url(#sg3)"/>
<circle cx="696" cy="675" r="16" fill="url(#sg9)"/>
<circle cx="886" cy="421" r="13" fill="url(#sg8)"/>
<circle cx="582" cy="450" r="14" fill="url(#sg7)"/>
<circle cx="432" cy="265" r="16" fill="url(#sg6)"/>
<circle cx="53" cy="497" r="23" fill="url(#sg4)"/>
<circle cx="529" cy="605" r="17" fill="url(#sg12)"/>
<circle cx="349" cy="488" r="20" fill="url(#sg10)"/>
<circle cx="250" cy="334" r="16" fill="url(#sg7)"/>
<circle cx="857" cy="474" r="16" fill="url(#sg10)"/>
<circle cx="354" cy="310" r="16" fill="url(#sg8)"/>
<circle cx="692" cy="228" r="18" fill="url(#sg5)"/>
<circle cx="154" cy="579" r="18" fill="url(#sg2)"/>
<circle cx="94" cy="26" r="20" fill="url(#sg0)"/>
<circle cx="170" cy="63" r="24" fill="url(#sg13)"/>
<circle cx="759" cy="465" r="17" fill="url(#sg5)"/>
<circle cx="599" cy="311" r="16" fill="url(#sg7)"/>
<circle cx="190" cy="222" r="13" fill="url(#sg7)"/>
<circle cx="292" cy="371" r="13" fill="url(#sg7)"/>
<circle cx="818" cy="379" r="16" fill="url(#sg10)"/>
<circle cx="242" cy="99" r="15" fill="url(#sg13)"/>
<circle cx="850" cy="61" r="15" fill="url(#sg10)"/>
<circle cx="758" cy="51" r="17" fill="url(#sg8)"/>
<circle cx="333" cy="129" r="21" fill="url(#sg6)"/>
<circle cx="159" cy="384" r="21" fill="url(#sg11)"/>
<circle cx="424" cy="705" r="18" fill="url(#sg7)"/>
<circle cx="854" cy="134" r="15" fill="url(#sg6)"/>
<circle cx="818" cy="348" r="20" fill="url(#sg6)"/>
<circle cx="372" cy="460" r="17" fill="url(#sg7)"/>
<circle cx="203" cy="518" r="15" fill="url(#sg11)"/>
<circle cx="597" cy="264" r="14" fill="url(#sg6)"/>
<circle cx="907" cy="283" r="18" fill="url(#sg9)"/>
<circle cx="886" cy="282" r="9" fill="url(#sg11)"/>
<circle cx="262" cy="212" r="16" fill="url(#sg12)"/>
<circle cx="286" cy="599" r="20" fill="url(#sg8)"/>
<circle cx="819" cy="233" r="16" fill="url(#sg10)"/>
<circle cx="598" cy="676" r="17" fill="url(#sg9)"/>
<circle cx="94" cy="137" r="16" fill="url(#sg17)"/>
<circle cx="33" cy="631" r="16" fill="url(#sg4)"/>
<circle cx="447" cy="187" r="14" fill="url(#sg7)"/>
<circle cx="471" cy="612" r="12" fill="url(#sg6)"/>
<circle cx="482" cy="179" r="16" fill="url(#sg6)"/>
<circle cx="811" cy="200" r="20" fill="url(#sg8)"/>
<circle cx="183" cy="296" r="21" fill="url(#sg6)"/>
<circle cx="616" cy="676" r="15" fill="url(#sg10)"/>
<circle cx="881" cy="105" r="17" fill="url(#sg8)"/>
<circle cx="572" cy="177" r="19" fill="url(#sg5)"/>
<circle cx="163" cy="336" r="18" fill="url(#sg4)"/>
<circle cx="670" cy="544" r="16" fill="url(#sg10)"/>
<circle cx="854" cy="293" r="16" fill="url(#sg9)"/>
<circle cx="147" cy="664" r="23" fill="url(#sg1)"/>
<circle cx="868" cy="491" r="15" fill="url(#sg9)"/>
<circle cx="42" cy="174" r="18" fill="url(#sg5)"/>
<circle cx="39" cy="623" r="18" fill="url(#sg3)"/>
<circle cx="328" cy="523" r="17" fill="url(#sg4)"/>
<circle cx="485" cy="547" r="17" fill="url(#sg3)"/>
<circle cx="672" cy="679" r="14" fill="url(#sg8)"/>
<circle cx="11" cy="288" r="19" fill="url(#sg10)"/>
<circle cx="751" cy="324" r="10" fill="url(#sg10)"/>
<circle cx="872" cy="511" r="9" fill="url(#sg5)"/>
<circle cx="560" cy="595" r="14" fill="url(#sg8)"/>
<circle cx="786" cy="257" r="15" fill="url(#sg9)"/>
<circle cx="133" cy="68" r="14" fill="url(#sg10)"/>
<circle cx="748" cy="605" r="15" fill="url(#sg6)"/>
<circle cx="785" cy="467" r="15" fill="url(#sg10)"/>
<circle cx="390" cy="519" r="16" fill="url(#sg12)"/>
<circle cx="344" cy="270" r="18" fill="url(#sg5)"/>
<circle cx="841" cy="301" r="11" fill="url(#sg9)"/>
<circle cx="810" cy="210" r="14" fill="url(#sg7)"/>
<circle cx="595" cy="544" r="12" fill="url(#sg6)"/>
<circle cx="907" cy="78" r="17" fill="url(#sg9)"/>
<circle cx="861" cy="364" r="16" fill="url(#sg8)"/>
<circle cx="687" cy="217" r="14" fill="url(#sg3)"/>
<circle cx="634" cy="499" r="17" fill="url(#sg5)"/>
<circle cx="197" cy="516" r="13" fill="url(#sg8)"/>
<circle cx="384" cy="211" r="20" fill="url(#sg8)"/>
<circle cx="741" cy="73" r="20" fill="url(#sg7)"/>
<circle cx="236" cy="448" r="18" fill="url(#sg7)"/>
<circle cx="491" cy="369" r="17" fill="url(#sg6)"/>
<circle cx="436" cy="474" r="14" fill="url(#sg9)"/>
<circle cx="58" cy="65" r="13" fill="url(#sg0)"/>
<circle cx="798" cy="388" r="15" fill="url(#sg7)"/>
<circle cx="112" cy="307" r="20" fill="url(#sg3)"/>
<circle cx="120" cy="683" r="21" fill="url(#sg6)"/>
<circle cx="857" cy="518" r="18" fill="url(#sg10)"/>
<circle cx="439" cy="212" r="12" fill="url(#sg11)"/>
<circle cx="94" cy="431" r="13" fill="url(#sg10)"/>
<circle cx="590" cy="579" r="18" fill="url(#sg6)"/>
<circle cx="12" cy="180" r="19" fill="url(#sg4)"/>
<circle cx="759" cy="577" r="17" fill="url(#sg11)"/>
<circle cx="759" cy="54" r="17" fill="url(#sg5)"/>
<circle cx="389" cy="578" r="14" fill="url(#sg4)"/>
<circle cx="667" cy="489" r="17" fill="url(#sg5)"/>
<circle cx="272" cy="469" r="18" fill="url(#sg10)"/>
<circle cx="890" cy="523" r="18" fill="url(#sg5)"/>
<circle cx="451" cy="706" r="13" fill="url(#sg6)"/>
<circle cx="781" cy="487" r="10" fill="url(#sg9)"/>
<circle cx="12" cy="260" r="23" fill="url(#sg15)"/>
<circle cx="192" cy="550" r="20" fill="url(#sg1)"/>
<circle cx="349" cy="287" r="18" fill="url(#sg5)"/>
<circle cx="681" cy="111" r="15" fill="url(#sg10)"/>
<circle cx="634" cy="647" r="13" fill="url(#sg6)"/>
<circle cx="595" cy="514" r="17" fill="url(#sg9)"/>
<circle cx="166" cy="135" r="16" fill="url(#sg17)"/>
<circle cx="828" cy="381" r="9" fill="url(#sg7)"/>
<circle cx="242" cy="221" r="15" fill="url(#sg9)"/>
<circle cx="135" cy="136" r="20" fill="url(#sg10)"/>
<circle cx="66" cy="553" r="19" fill="url(#sg5)"/>
<circle cx="527" cy="136" r="14" fill="url(#sg6)"/>
<circle cx="354" cy="265" r="9" fill="url(#sg4)"/>
<circle cx="194" cy="185" r="18" fill="url(#sg12)"/>
<circle cx="208" cy="110" r="18" fill="url(#sg12)"/>
<circle cx="792" cy="233" r="16" fill="url(#sg10)"/>
<circle cx="388" cy="630" r="15" fill="url(#sg7)"/>
<circle cx="828" cy="159" r="16" fill="url(#sg8)"/>
<circle cx="40" cy="132" r="11" fill="url(#sg11)"/>
<circle cx="793" cy="603" r="17" fill="url(#sg8)"/>
<circle cx="511" cy="27" r="14" fill="url(#sg7)"/>
<circle cx="822" cy="91" r="13" fill="url(#sg7)"/>
<circle cx="116" cy="317" r="12" fill="url(#sg7)"/>
<circle cx="811" cy="669" r="15" fill="url(#sg9)"/>
<circle cx="456" cy="44" r="10" fill="url(#sg15)"/>
<circle cx="638" cy="703" r="17" fill="url(#sg7)"/>
<circle cx="363" cy="55" r="16" fill="url(#sg5)"/>
<circle cx="326" cy="151" r="16" fill="url(#sg8)"/>
<circle cx="315" cy="177" r="18" fill="url(#sg4)"/>
<circle cx="490" cy="672" r="18" fill="url(#sg6)"/>
<circle cx="510" cy="163" r="16" fill="url(#sg9)"/>
<circle cx="528" cy="109" r="19" fill="url(#sg8)"/>
<circle cx="806" cy="467" r="16" fill="url(#sg9)"/>
<circle cx="422" cy="649" r="11" fill="url(#sg4)"/>
<circle cx="157" cy="289" r="19" fill="url(#sg8)"/>
<circle cx="208" cy="359" r="20" fill="url(#sg5)"/>
<circle cx="353" cy="467" r="17" fill="url(#sg5)"/>
<circle cx="165" cy="258" r="12" fill="url(#sg7)"/>
<circle cx="217" cy="343" r="19" fill="url(#sg3)"/>
<circle cx="228" cy="203" r="16" fill="url(#sg6)"/>
<circle cx="902" cy="544" r="16" fill="url(#sg6)"/>
<circle cx="483" cy="653" r="17" fill="url(#sg4)"/>
<circle cx="703" cy="213" r="14" fill="url(#sg3)"/>
<circle cx="109" cy="492" r="18" fill="url(#sg12)"/>
<circle cx="495" cy="517" r="15" fill="url(#sg7)"/>
<circle cx="854" cy="328" r="12" fill="url(#sg5)"/>
<circle cx="611" cy="128" r="13" fill="url(#sg13)"/>
<circle cx="150" cy="598" r="11" fill="url(#sg4)"/>
<circle cx="617" cy="160" r="12" fill="url(#sg10)"/>
<circle cx="608" cy="130" r="17" fill="url(#sg13)"/>
<circle cx="118" cy="476" r="20" fill="url(#sg11)"/>
<circle cx="671" cy="444" r="17" fill="url(#sg6)"/>
<circle cx="485" cy="264" r="16" fill="url(#sg5)"/>
<circle cx="737" cy="512" r="15" fill="url(#sg7)"/>
<circle cx="464" cy="259" r="18" fill="url(#sg6)"/>
<circle cx="589" cy="458" r="16" fill="url(#sg10)"/>
<circle cx="248" cy="98" r="16" fill="url(#sg13)"/>
<circle cx="195" cy="457" r="24" fill="url(#sg5)"/>
<circle cx="152" cy="524" r="16" fill="url(#sg4)"/>
<circle cx="422" cy="655" r="14" fill="url(#sg5)"/>
<circle cx="863" cy="206" r="14" fill="url(#sg16)"/>
<circle cx="129" cy="74" r="19" fill="url(#sg0)"/>
<circle cx="459" cy="236" r="16" fill="url(#sg7)"/>
<circle cx="576" cy="370" r="17" fill="url(#sg5)"/>
<circle cx="437" cy="264" r="13" fill="url(#sg7)"/>
<circle cx="162" cy="388" r="17" fill="url(#sg11)"/>
<circle cx="515" cy="172" r="17" fill="url(#sg9)"/>
<circle cx="321" cy="622" r="12" fill="url(#sg8)"/>
<circle cx="236" cy="71" r="21" fill="url(#sg11)"/>
<circle cx="849" cy="709" r="18" fill="url(#sg10)"/>
<circle cx="588" cy="113" r="11" fill="url(#sg17)"/>
<circle cx="64" cy="674" r="19" fill="url(#sg6)"/>
<circle cx="169" cy="541" r="21" fill="url(#sg3)"/>
<circle cx="849" cy="390" r="18" fill="url(#sg10)"/>
<circle cx="241" cy="597" r="12" fill="url(#sg12)"/>
<circle cx="99" cy="177" r="19" fill="url(#sg2)"/>
<circle cx="713" cy="186" r="14" fill="url(#sg7)"/>
<circle cx="589" cy="337" r="12" fill="url(#sg7)"/>
<circle cx="558" cy="396" r="9" fill="url(#sg8)"/>
<circle cx="312" cy="286" r="20" fill="url(#sg4)"/>
<circle cx="774" cy="412" r="14" fill="url(#sg9)"/>
<circle cx="69" cy="674" r="24" fill="url(#sg6)"/>
<circle cx="84" cy="573" r="16" fill="url(#sg8)"/>
<circle cx="827" cy="217" r="20" fill="url(#sg8)"/>
<circle cx="429" cy="188" r="15" fill="url(#sg9)"/>
<circle cx="702" cy="518" r="16" fill="url(#sg8)"/>
<circle cx="708" cy="163" r="13" fill="url(#sg4)"/>
<circle cx="290" cy="209" r="13" fill="url(#sg8)"/>
<circle cx="77" cy="333" r="17" fill="url(#sg2)"/>
<circle cx="718" cy="645" r="18" fill="url(#sg8)"/>
<circle cx="733" cy="463" r="11" fill="url(#sg6)"/>
<circle cx="837" cy="93" r="16" fill="url(#sg7)"/>
<circle cx="48" cy="703" r="16" fill="url(#sg3)"/>
<circle cx="634" cy="149" r="12" fill="url(#sg14)"/>
<circle cx="69" cy="229" r="18" fill="url(#sg14)"/>
<circle cx="394" cy="484" r="10" fill="url(#sg11)"/>
<circle cx="469" cy="208" r="17" fill="url(#sg6)"/>
<circle cx="589" cy="594" r="10" fill="url(#sg1)"/>
<circle cx="627" cy="101" r="19" fill="url(#sg13)"/>
<circle cx="109" cy="450" r="19" fill="url(#sg6)"/>
<circle cx="135" cy="392" r="20" fill="url(#sg9)"/>
<circle cx="520" cy="464" r="18" fill="url(#sg4)"/>
<circle cx="702" cy="230" r="20" fill="url(#sg4)"/>
<circle cx="450" cy="446" r="18" fill="url(#sg7)"/>
<circle cx="807" cy="475" r="16" fill="url(#sg10)"/>
<circle cx="643" cy="267" r="16" fill="url(#sg5)"/>
<circle cx="603" cy="670" r="9" fill="url(#sg10)"/>
<circle cx="379" cy="543" r="16" fill="url(#sg8)"/>
<circle cx="247" cy="102" r="18" fill="url(#sg12)"/>
<circle cx="297" cy="365" r="17" fill="url(#sg10)"/>
<circle cx="220" cy="682" r="19" fill="url(#sg6)"/>
<circle cx="576" cy="313" r="19" fill="url(#sg7)"/>
<circle cx="219" cy="106" r="19" fill="url(#sg15)"/>
<circle cx="54" cy="157" r="13" fill="url(#sg4)"/>
<circle cx="861" cy="99" r="15" fill="url(#sg8)"/>
<circle cx="516" cy="571" r="14" fill="url(#sg6)"/>
<circle cx="876" cy="139" r="18" fill="url(#sg10)"/>
<circle cx="658" cy="490" r="20" fill="url(#sg5)"/>
<circle cx="536" cy="493" r="15" fill="url(#sg6)"/>
<circle cx="39" cy="82" r="18" fill="url(#sg0)"/>
<circle cx="249" cy="20" r="16" fill="url(#sg8)"/>
<circle cx="236" cy="410" r="16" fill="url(#sg6)"/>
<circle cx="184" cy="58" r="16" fill="url(#sg17)"/>
<circle cx="210" cy="615" r="16" fill="url(#sg6)"/>
<circle cx="199" cy="288" r="16" fill="url(#sg6)"/>
<circle cx="378" cy="467" r="14" fill="url(#sg7)"/>
<circle cx="195" cy="521" r="14" fill="url(#sg7)"/>
<circle cx="686" cy="543" r="17" fill="url(#sg11)"/>
<circle cx="497" cy="55" r="18" fill="url(#sg14)"/>
<circle cx="219" cy="138" r="21" fill="url(#sg12)"/>
<circle cx="318" cy="84" r="18" fill="url(#sg5)"/>
<circle cx="668" cy="444" r="18" fill="url(#sg8)"/>
<circle cx="801" cy="55" r="16" fill="url(#sg9)"/>
<circle cx="472" cy="27" r="18" fill="url(#sg17)"/>
<circle cx="15" cy="685" r="12" fill="url(#sg3)"/>
<circle cx="266" cy="274" r="12" fill="url(#sg2)"/>
<circle cx="553" cy="689" r="9" fill="url(#sg6)"/>
<circle cx="507" cy="641" r="10" fill="url(#sg4)"/>
<circle cx="424" cy="523" r="13" fill="url(#sg7)"/>
<circle cx="412" cy="262" r="11" fill="url(#sg5)"/>
<circle cx="277" cy="180" r="15" fill="url(#sg4)"/>
<circle cx="715" cy="343" r="18" fill="url(#sg7)"/>
<circle cx="697" cy="237" r="14" fill="url(#sg2)"/>
<circle cx="178" cy="512" r="10" fill="url(#sg2)"/>
<circle cx="125" cy="312" r="13" fill="url(#sg6)"/>
<circle cx="41" cy="277" r="13" fill="url(#sg13)"/>
<circle cx="773" cy="492" r="14" fill="url(#sg8)"/>
<circle cx="883" cy="636" r="10" fill="url(#sg8)"/>
<circle cx="264" cy="308" r="19" fill="url(#sg7)"/>
<circle cx="330" cy="525" r="21" fill="url(#sg4)"/>
<circle cx="351" cy="174" r="13" fill="url(#sg9)"/>
<circle cx="300" cy="317" r="16" fill="url(#sg2)"/>
<circle cx="100" cy="646" r="17" fill="url(#sg6)"/>
<circle cx="759" cy="420" r="16" fill="url(#sg7)"/>
<circle cx="337" cy="236" r="21" fill="url(#sg4)"/>
<circle cx="650" cy="378" r="15" fill="url(#sg9)"/>
<circle cx="208" cy="263" r="18" fill="url(#sg6)"/>
<circle cx="302" cy="474" r="16" fill="url(#sg7)"/>
<circle cx="642" cy="105" r="17" fill="url(#sg15)"/>
<circle cx="556" cy="393" r="14" fill="url(#sg9)"/>
<circle cx="63" cy="320" r="16" fill="url(#sg5)"/>
<circle cx="393" cy="290" r="15" fill="url(#sg6)"/>
<circle cx="302" cy="208" r="17" fill="url(#sg7)"/>
<circle cx="159" cy="473" r="15" fill="url(#sg2)"/>
<circle cx="185" cy="45" r="23" fill="url(#sg14)"/>
<circle cx="126" cy="444" r="20" fill="url(#sg8)"/>
<circle cx="684" cy="379" r="10" fill="url(#sg8)"/>
<circle cx="253" cy="419" r="18" fill="url(#sg3)"/>
<circle cx="87" cy="605" r="22" fill="url(#sg9)"/>
<circle cx="576" cy="306" r="18" fill="url(#sg6)"/>
<circle cx="154" cy="498" r="19" fill="url(#sg6)"/>
<circle cx="105" cy="131" r="19" fill="url(#sg17)"/>
<circle cx="243" cy="229" r="15" fill="url(#sg11)"/>
<circle cx="655" cy="247" r="19" fill="url(#sg4)"/>
<circle cx="372" cy="705" r="17" fill="url(#sg8)"/>
<circle cx="32" cy="156" r="20" fill="url(#sg4)"/>
<circle cx="777" cy="165" r="11" fill="url(#sg2)"/>
<circle cx="770" cy="444" r="14" fill="url(#sg4)"/>
<circle cx="415" cy="463" r="18" fill="url(#sg8)"/>
<circle cx="666" cy="385" r="14" fill="url(#sg9)"/>
<circle cx="328" cy="134" r="14" fill="url(#sg4)"/>
<circle cx="23" cy="476" r="20" fill="url(#sg4)"/>
<circle cx="773" cy="457" r="13" fill="url(#sg8)"/>
<circle cx="422" cy="161" r="10" fill="url(#sg8)"/>
<circle cx="850" cy="85" r="16" fill="url(#sg8)"/>
<circle cx="348" cy="433" r="22" fill="url(#sg9)"/>
<circle cx="374" cy="185" r="17" fill="url(#sg8)"/>
<circle cx="619" cy="24" r="12" fill="url(#sg11)"/>
<circle cx="716" cy="682" r="19" fill="url(#sg12)"/>
<circle cx="109" cy="684" r="20" fill="url(#sg9)"/>
<circle cx="728" cy="286" r="11" fill="url(#sg5)"/>
<circle cx="669" cy="648" r="18" fill="url(#sg6)"/>
<circle cx="777" cy="623" r="18" fill="url(#sg8)"/>
<circle cx="586" cy="667" r="15" fill="url(#sg10)"/>
<circle cx="514" cy="367" r="18" fill="url(#sg9)"/>
<circle cx="172" cy="267" r="17" fill="url(#sg5)"/>
<circle cx="768" cy="548" r="17" fill="url(#sg14)"/>
<circle cx="36" cy="283" r="20" fill="url(#sg11)"/>
<circle cx="790" cy="144" r="14" fill="url(#sg10)"/>
<circle cx="805" cy="518" r="18" fill="url(#sg13)"/>
<circle cx="22" cy="539" r="11" fill="url(#sg7)"/>
<circle cx="725" cy="175" r="10" fill="url(#sg5)"/>
<circle cx="793" cy="670" r="9" fill="url(#sg11)"/>
<circle cx="517" cy="264" r="18" fill="url(#sg6)"/>
<circle cx="527" cy="501" r="17" fill="url(#sg10)"/>
<circle cx="315" cy="27" r="18" fill="url(#sg7)"/>
<circle cx="504" cy="179" r="10" fill="url(#sg3)"/>
<circle cx="280" cy="125" r="19" fill="url(#sg10)"/>
<circle cx="894" cy="628" r="15" fill="url(#sg11)"/>
<circle cx="473" cy="332" r="15" fill="url(#sg8)"/>
<circle cx="280" cy="169" r="22" fill="url(#sg6)"/>
<circle cx="566" cy="159" r="15" fill="url(#sg6)"/>
<circle cx="539" cy="267" r="18" fill="url(#sg5)"/>
<circle cx="20" cy="122" r="18" fill="url(#sg9)"/>
<circle cx="673" cy="518" r="16" fill="url(#sg11)"/>
<circle cx="543" cy="308" r="15" fill="url(#sg8)"/>
<circle cx="805" cy="34" r="11" fill="url(#sg6)"/>
<circle cx="262" cy="691" r="23" fill="url(#sg4)"/>
<circle cx="644" cy="618" r="16" fill="url(#sg11)"/>
<circle cx="344" cy="657" r="18" fill="url(#sg14)"/>
<circle cx="405" cy="301" r="16" fill="url(#sg5)"/>
<circle cx="638" cy="183" r="14" fill="url(#sg11)"/>
<circle cx="537" cy="519" r="14" fill="url(#sg7)"/>
<circle cx="877" cy="337" r="14" fill="url(#sg6)"/>
<circle cx="588" cy="489" r="15" fill="url(#sg8)"/>
<circle cx="715" cy="482" r="11" fill="url(#sg10)"/>
<circle cx="214" cy="312" r="19" fill="url(#sg6)"/>
<circle cx="212" cy="105" r="18" fill="url(#sg13)"/>
<circle cx="640" cy="601" r="15" fill="url(#sg12)"/>
<circle cx="686" cy="595" r="17" fill="url(#sg7)"/>
<circle cx="829" cy="206" r="14" fill="url(#sg7)"/>
<circle cx="119" cy="255" r="20" fill="url(#sg8)"/>
<circle cx="303" cy="544" r="16" fill="url(#sg5)"/>
<circle cx="843" cy="442" r="18" fill="url(#sg10)"/>
<circle cx="472" cy="142" r="18" fill="url(#sg9)"/>
<circle cx="340" cy="529" r="13" fill="url(#sg6)"/>
<circle cx="710" cy="170" r="12" fill="url(#sg8)"/>
<circle cx="574" cy="339" r="16" fill="url(#sg8)"/>
<circle cx="873" cy="189" r="15" fill="url(#sg12)"/>
<circle cx="663" cy="63" r="14" fill="url(#sg10)"/>
<circle cx="350" cy="332" r="16" fill="url(#sg5)"/>
<circle cx="772" cy="181" r="15" fill="url(#sg2)"/>
<circle cx="616" cy="177" r="14" fill="url(#sg9)"/>
<circle cx="776" cy="205" r="14" fill="url(#sg8)"/>
<circle cx="443" cy="330" r="11" fill="url(#sg6)"/>
<circle cx="612" cy="441" r="14" fill="url(#sg10)"/>
<circle cx="390" cy="49" r="15" fill="url(#sg4)"/>
<circle cx="141" cy="554" r="20" fill="url(#sg5)"/>
<circle cx="445" cy="639" r="12" fill="url(#sg7)"/>
<circle cx="652" cy="694" r="16" fill="url(#sg7)"/>
<circle cx="745" cy="79" r="15" fill="url(#sg6)"/>
<circle cx="103" cy="83" r="12" fill="url(#sg0)"/>
<circle cx="528" cy="339" r="14" fill="url(#sg7)"/>
<circle cx="340" cy="553" r="16" fill="url(#sg8)"/>
<circle cx="527" cy="235" r="18" fill="url(#sg9)"/>
<circle cx="47" cy="395" r="18" fill="url(#sg10)"/>
<circle cx="483" cy="638" r="16" fill="url(#sg7)"/>
<circle cx="434" cy="635" r="16" fill="url(#sg4)"/>
<circle cx="75" cy="397" r="18" fill="url(#sg11)"/>
<circle cx="81" cy="155" r="18" fill="url(#sg0)"/>
<circle cx="329" cy="474" r="20" fill="url(#sg9)"/>
<circle cx="617" cy="101" r="12" fill="url(#sg13)"/>
<circle cx="286" cy="439" r="17" fill="url(#sg6)"/>
<circle cx="91" cy="631" r="16" fill="url(#sg7)"/>
<circle cx="743" cy="495" r="15" fill="url(#sg9)"/>
<circle cx="33" cy="270" r="21" fill="url(#sg13)"/>
<circle cx="217" cy="571" r="21" fill="url(#sg0)"/>
<circle cx="724" cy="143" r="18" fill="url(#sg4)"/>
<circle cx="843" cy="655" r="13" fill="url(#sg9)"/>
<circle cx="829" cy="401" r="16" fill="url(#sg7)"/>
<circle cx="292" cy="674" r="15" fill="url(#sg6)"/>
<circle cx="712" cy="126" r="15" fill="url(#sg5)"/>
<circle cx="367" cy="228" r="15" fill="url(#sg7)"/>
<circle cx="405" cy="320" r="17" fill="url(#sg8)"/>
<circle cx="259" cy="597" r="22" fill="url(#sg10)"/>
<circle cx="702" cy="258" r="16" fill="url(#sg6)"/>
<circle cx="110" cy="216" r="12" fill="url(#sg3)"/>
<circle cx="395" cy="499" r="13" fill="url(#sg14)"/>
<circle cx="556" cy="490" r="14" fill="url(#sg8)"/>
<circle cx="190" cy="706" r="17" fill="url(#sg3)"/>
<circle cx="282" cy="32" r="18" fill="url(#sg7)"/>
<circle cx="596" cy="104" r="18" fill="url(#sg17)"/>
<circle cx="397" cy="23" r="17" fill="url(#sg4)"/>
<circle cx="90" cy="660" r="13" fill="url(#sg5)"/>
<circle cx="197" cy="441" r="19" fill="url(#sg4)"/>
<circle cx="385" cy="421" r="17" fill="url(#sg7)"/>
<circle cx="845" cy="52" r="13" fill="url(#sg11)"/>
<circle cx="666" cy="136" r="13" fill="url(#sg10)"/>
<circle cx="403" cy="79" r="15" fill="url(#sg6)"/>
<circle cx="173" cy="410" r="19" fill="url(#sg7)"/>
<circle cx="397" cy="275" r="17" fill="url(#sg6)"/>
<circle cx="354" cy="213" r="14" fill="url(#sg8)"/>
<circle cx="179" cy="157" r="19" fill="url(#sg8)"/>
<circle cx="494" cy="307" r="15" fill="url(#sg8)"/>
<circle cx="647" cy="421" r="16" fill="url(#sg4)"/>
<circle cx="605" cy="317" r="13" fill="url(#sg8)"/>
<circle cx="620" cy="200" r="19" fill="url(#sg8)"/>
<circle cx="481" cy="393" r="17" fill="url(#sg7)"/>
<circle cx="878" cy="232" r="14" fill="url(#sg14)"/>
<circle cx="267" cy="313" r="20" fill="url(#sg5)"/>
<circle cx="459" cy="143" r="13" fill="url(#sg8)"/>
<circle cx="863" cy="222" r="9" fill="url(#sg12)"/>
<circle cx="573" cy="208" r="17" fill="url(#sg3)"/>
<circle cx="248" cy="232" r="16" fill="url(#sg8)"/>
<circle cx="772" cy="136" r="17" fill="url(#sg8)"/>
<circle cx="205" cy="466" r="14" fill="url(#sg7)"/>
<circle cx="539" cy="105" r="16" fill="url(#sg7)"/>
<circle cx="774" cy="249" r="18" fill="url(#sg11)"/>
<circle cx="120" cy="396" r="20" fill="url(#sg5)"/>
<circle cx="705" cy="541" r="19" fill="url(#sg8)"/>
<circle cx="726" cy="242" r="15" fill="url(#sg10)"/>
<circle cx="756" cy="279" r="9" fill="url(#sg7)"/>
<circle cx="749" cy="314" r="17" fill="url(#sg9)"/>
<circle cx="665" cy="593" r="19" fill="url(#sg12)"/>
<circle cx="555" cy="272" r="9" fill="url(#sg9)"/>
<circle cx="90" cy="308" r="16" fill="url(#sg4)"/>
<circle cx="679" cy="404" r="12" fill="url(#sg7)"/>
<circle cx="767" cy="394" r="17" fill="url(#sg7)"/>
<circle cx="604" cy="117" r="18" fill="url(#sg13)"/>
<circle cx="766" cy="429" r="11" fill="url(#sg8)"/>
<circle cx="219" cy="224" r="18" fill="url(#sg7)"/>
<circle cx="461" cy="651" r="10" fill="url(#sg5)"/>
<circle cx="108" cy="488" r="21" fill="url(#sg12)"/>
<circle cx="827" cy="527" r="17" fill="url(#sg12)"/>
<circle cx="364" cy="105" r="17" fill="url(#sg9)"/>
<circle cx="463" cy="626" r="18" fill="url(#sg9)"/>
<circle cx="199" cy="195" r="11" fill="url(#sg10)"/>
<circle cx="844" cy="337" r="18" fill="url(#sg9)"/>
<circle cx="24" cy="679" r="17" fill="url(#sg6)"/>
<circle cx="802" cy="652" r="16" fill="url(#sg10)"/>
<circle cx="588" cy="652" r="15" fill="url(#sg10)"/>
<circle cx="606" cy="391" r="15" fill="url(#sg4)"/>
<circle cx="265" cy="58" r="19" fill="url(#sg8)"/>
<circle cx="350" cy="413" r="19" fill="url(#sg8)"/>
<circle cx="878" cy="697" r="15" fill="url(#sg7)"/>
<circle cx="431" cy="316" r="20" fill="url(#sg5)"/>
<circle cx="474" cy="159" r="10" fill="url(#sg5)"/>
<circle cx="908" cy="441" r="17" fill="url(#sg8)"/>
<circle cx="452" cy="137" r="11" fill="url(#sg8)"/>
<circle cx="496" cy="695" r="16" fill="url(#sg5)"/>
<circle cx="121" cy="325" r="20" fill="url(#sg7)"/>
<circle cx="214" cy="619" r="17" fill="url(#sg6)"/>
<circle cx="406" cy="622" r="16" fill="url(#sg5)"/>
<circle cx="176" cy="619" r="18" fill="url(#sg6)"/>
<circle cx="429" cy="288" r="18" fill="url(#sg5)"/>
<circle cx="794" cy="698" r="17" fill="url(#sg10)"/>
<circle cx="387" cy="310" r="18" fill="url(#sg7)"/>
<circle cx="107" cy="233" r="21" fill="url(#sg4)"/>
<circle cx="548" cy="32" r="10" fill="url(#sg3)"/>
<circle cx="449" cy="288" r="17" fill="url(#sg6)"/>
<circle cx="615" cy="75" r="19" fill="url(#sg15)"/>
<circle cx="393" cy="697" r="17" fill="url(#sg5)"/>
<circle cx="808" cy="513" r="18" fill="url(#sg12)"/>
<circle cx="731" cy="675" r="16" fill="url(#sg8)"/>
<circle cx="417" cy="211" r="15" fill="url(#sg10)"/>
<circle cx="64" cy="103" r="10" fill="url(#sg8)"/>
<circle cx="762" cy="381" r="19" fill="url(#sg8)"/>
<circle cx="366" cy="375" r="20" fill="url(#sg9)"/>
<circle cx="34" cy="265" r="19" fill="url(#sg14)"/>
<circle cx="343" cy="660" r="19" fill="url(#sg10)"/>
<circle cx="641" cy="85" r="17" fill="url(#sg13)"/>
<circle cx="547" cy="495" r="12" fill="url(#sg7)"/>
<circle cx="729" cy="618" r="14" fill="url(#sg9)"/>
<circle cx="852" cy="491" r="15" fill="url(#sg7)"/>
<circle cx="659" cy="79" r="17" fill="url(#sg12)"/>
<circle cx="639" cy="645" r="14" fill="url(#sg10)"/>
<circle cx="123" cy="63" r="24" fill="url(#sg0)"/>
<circle cx="340" cy="245" r="11" fill="url(#sg4)"/>
<circle cx="165" cy="650" r="18" fill="url(#sg1)"/>
<circle cx="509" cy="646" r="17" fill="url(#sg4)"/>
<circle cx="526" cy="188" r="12" fill="url(#sg7)"/>
<circle cx="405" cy="567" r="17" fill="url(#sg7)"/>
<circle cx="138" cy="407" r="16" fill="url(#sg9)"/>
<circle cx="820" cy="648" r="16" fill="url(#sg9)"/>
<circle cx="555" cy="394" r="15" fill="url(#sg7)"/>
<circle cx="830" cy="274" r="17" fill="url(#sg10)"/>
<circle cx="680" cy="160" r="15" fill="url(#sg8)"/>
<circle cx="623" cy="127" r="16" fill="url(#sg13)"/>
<circle cx="275" cy="107" r="10" fill="url(#sg12)"/>
<circle cx="653" cy="502" r="15" fill="url(#sg9)"/>
<circle cx="84" cy="652" r="15" fill="url(#sg8)"/>
<circle cx="172" cy="685" r="13" fill="url(#sg2)"/>
<circle cx="717" cy="703" r="15" fill="url(#sg8)"/>
<circle cx="742" cy="228" r="16" fill="url(#sg7)"/>
<circle cx="262" cy="80" r="13" fill="url(#sg8)"/>
<circle cx="480" cy="605" r="11" fill="url(#sg11)"/>
<circle cx="120" cy="153" r="19" fill="url(#sg0)"/>
<circle cx="757" cy="371" r="19" fill="url(#sg6)"/>
<circle cx="48" cy="24" r="13" fill="url(#sg0)"/>
<circle cx="460" cy="566" r="17" fill="url(#sg2)"/>
<circle cx="223" cy="21" r="15" fill="url(#sg10)"/>
<circle cx="288" cy="235" r="17" fill="url(#sg9)"/>
<circle cx="609" cy="548" r="16" fill="url(#sg5)"/>
<circle cx="215" cy="159" r="17" fill="url(#sg12)"/>
<circle cx="426" cy="217" r="11" fill="url(#sg11)"/>
<circle cx="480" cy="699" r="15" fill="url(#sg4)"/>
<circle cx="129" cy="334" r="20" fill="url(#sg7)"/>
<circle cx="433" cy="51" r="14" fill="url(#sg9)"/>
<circle cx="755" cy="623" r="18" fill="url(#sg6)"/>
<circle cx="270" cy="160" r="15" fill="url(#sg8)"/>
<circle cx="45" cy="386" r="17" fill="url(#sg10)"/>
<circle cx="213" cy="464" r="18" fill="url(#sg8)"/>
<circle cx="234" cy="310" r="15" fill="url(#sg7)"/>
<circle cx="701" cy="100" r="15" fill="url(#sg8)"/>
<circle cx="644" cy="160" r="13" fill="url(#sg14)"/>
<circle cx="34" cy="347" r="19" fill="url(#sg0)"/>
<circle cx="592" cy="571" r="13" fill="url(#sg4)"/>
<circle cx="269" cy="358" r="16" fill="url(#sg3)"/>
<circle cx="629" cy="47" r="15" fill="url(#sg12)"/>
<circle cx="800" cy="101" r="17" fill="url(#sg12)"/>
<circle cx="81" cy="400" r="22" fill="url(#sg7)"/>
<circle cx="741" cy="441" r="17" fill="url(#sg6)"/>
<circle cx="583" cy="181" r="18" fill="url(#sg4)"/>
<circle cx="836" cy="465" r="15" fill="url(#sg10)"/>
<circle cx="331" cy="361" r="16" fill="url(#sg8)"/>
<circle cx="373" cy="393" r="14" fill="url(#sg11)"/>
<circle cx="569" cy="517" r="15" fill="url(#sg9)"/>
<circle cx="381" cy="669" r="13" fill="url(#sg6)"/>
<circle cx="89" cy="361" r="11" fill="url(#sg5)"/>
<circle cx="749" cy="279" r="10" fill="url(#sg4)"/>
<circle cx="358" cy="578" r="15" fill="url(#sg6)"/>
<circle cx="44" cy="241" r="17" fill="url(#sg16)"/>
<circle cx="349" cy="402" r="18" fill="url(#sg9)"/>
<circle cx="132" cy="549" r="19" fill="url(#sg6)"/>
<circle cx="660" cy="24" r="9" fill="url(#sg12)"/>
<circle cx="501" cy="441" r="18" fill="url(#sg8)"/>
<circle cx="312" cy="337" r="15" fill="url(#sg7)"/>
<circle cx="247" cy="500" r="18" fill="url(#sg12)"/>
<circle cx="683" cy="500" r="16" fill="url(#sg8)"/>
<circle cx="740" cy="281" r="15" fill="url(#sg8)"/>
<circle cx="349" cy="76" r="19" fill="url(#sg4)"/>
<circle cx="53" cy="347" r="20" fill="url(#sg4)"/>
<circle cx="344" cy="389" r="15" fill="url(#sg10)"/>
<circle cx="437" cy="215" r="14" fill="url(#sg11)"/>
<circle cx="669" cy="340" r="17" fill="url(#sg5)"/>
<circle cx="553" cy="517" r="11" fill="url(#sg10)"/>
<circle cx="366" cy="85" r="13" fill="url(#sg6)"/>
<circle cx="617" cy="471" r="14" fill="url(#sg6)"/>
<circle cx="438" cy="110" r="17" fill="url(#sg9)"/>
<circle cx="628" cy="259" r="15" fill="url(#sg2)"/>
<circle cx="98" cy="547" r="18" fill="url(#sg9)"/>
<circle cx="629" cy="514" r="15" fill="url(#sg6)"/>
<circle cx="317" cy="343" r="11" fill="url(#sg7)"/>
<circle cx="417" cy="697" r="11" fill="url(#sg4)"/>
<circle cx="732" cy="111" r="15" fill="url(#sg7)"/>
<circle cx="334" cy="123" r="13" fill="url(#sg8)"/>
<circle cx="157" cy="336" r="17" fill="url(#sg5)"/>
<circle cx="413" cy="680" r="15" fill="url(#sg8)"/>
<circle cx="821" cy="703" r="16" fill="url(#sg12)"/>
<circle cx="576" cy="405" r="12" fill="url(#sg5)"/>
<circle cx="821" cy="327" r="17" fill="url(#sg5)"/>
<circle cx="895" cy="623" r="12" fill="url(#sg7)"/>
<circle cx="44" cy="553" r="19" fill="url(#sg4)"/>
<circle cx="760" cy="642" r="17" fill="url(#sg6)"/>
<circle cx="397" cy="497" r="16" fill="url(#sg12)"/>
<circle cx="647" cy="520" r="20" fill="url(#sg4)"/>
<circle cx="264" cy="619" r="17" fill="url(#sg8)"/>
<circle cx="331" cy="110" r="18" fill="url(#sg5)"/>
<circle cx="880" cy="43" r="9" fill="url(#sg9)"/>
<circle cx="431" cy="546" r="14" fill="url(#sg6)"/>
<circle cx="397" cy="180" r="9" fill="url(#sg12)"/>
<circle cx="172" cy="104" r="17" fill="url(#sg17)"/>
<circle cx="385" cy="237" r="13" fill="url(#sg7)"/>
<circle cx="54" cy="473" r="18" fill="url(#sg4)"/>
<circle cx="822" cy="543" r="16" fill="url(#sg8)"/>
<circle cx="654" cy="670" r="18" fill="url(#sg9)"/>
<circle cx="306" cy="696" r="12" fill="url(#sg14)"/>
<circle cx="319" cy="456" r="24" fill="url(#sg6)"/>
<circle cx="273" cy="639" r="16" fill="url(#sg6)"/>
<circle cx="333" cy="379" r="15" fill="url(#sg9)"/>
<circle cx="781" cy="368" r="17" fill="url(#sg8)"/>
<circle cx="699" cy="604" r="10" fill="url(#sg10)"/>
<circle cx="259" cy="188" r="21" fill="url(#sg7)"/>
<circle cx="165" cy="561" r="17" fill="url(#sg5)"/>
<circle cx="316" cy="700" r="19" fill="url(#sg13)"/>
<circle cx="829" cy="135" r="16" fill="url(#sg11)"/>
<circle cx="32" cy="377" r="23" fill="url(#sg6)"/>
<circle cx="567" cy="475" r="16" fill="url(#sg6)"/>
<circle cx="902" cy="23" r="14" fill="url(#sg10)"/>
<circle cx="470" cy="318" r="18" fill="url(#sg10)"/>
<circle cx="106" cy="439" r="17" fill="url(#sg8)"/>
<circle cx="352" cy="81" r="19" fill="url(#sg5)"/>
<circle cx="377" cy="240" r="13" fill="url(#sg8)"/>
<circle cx="733" cy="424" r="18" fill="url(#sg9)"/>
<circle cx="319" cy="460" r="18" fill="url(#sg6)"/>
<circle cx="68" cy="285" r="18" fill="url(#sg11)"/>
<circle cx="342" cy="134" r="16" fill="url(#sg4)"/>
<circle cx="664" cy="418" r="13" fill="url(#sg4)"/>
<circle cx="485" cy="418" r="16" fill="url(#sg7)"/>
<circle cx="543" cy="158" r="15" fill="url(#sg9)"/>
<circle cx="547" cy="300" r="15" fill="url(#sg7)"/>
<circle cx="564" cy="125" r="18" fill="url(#sg14)"/>
<circle cx="460" cy="677" r="18" fill="url(#sg6)"/>
<circle cx="665" cy="543" r="13" fill="url(#sg9)"/>
<circle cx="521" cy="214" r="17" fill="url(#sg8)"/>
<circle cx="625" cy="46" r="18" fill="url(#sg12)"/>
<circle cx="354" cy="619" r="14" fill="url(#sg7)"/>
<circle cx="527" cy="381" r="18" fill="url(#sg6)"/>
<circle cx="492" cy="214" r="18" fill="url(#sg4)"/>
<circle cx="829" cy="314" r="16" fill="url(#sg5)"/>
<circle cx="334" cy="678" r="18" fill="url(#sg12)"/>
<circle cx="9" cy="131" r="17" fill="url(#sg11)"/>
<circle cx="53" cy="259" r="11" fill="url(#sg12)"/>
<circle cx="158" cy="365" r="18" fill="url(#sg9)"/>
<circle cx="302" cy="421" r="17" fill="url(#sg8)"/>
<circle cx="150" cy="155" r="21" fill="url(#sg8)"/>
<circle cx="564" cy="440" r="17" fill="url(#sg8)"/>
<circle cx="567" cy="680" r="17" fill="url(#sg9)"/>
<circle cx="137" cy="185" r="20" fill="url(#sg6)"/>
<circle cx="789" cy="444" r="16" fill="url(#sg5)"/>
<circle cx="145" cy="202" r="20" fill="url(#sg10)"/>
<circle cx="104" cy="463" r="11" fill="url(#sg7)"/>
<circle cx="117" cy="514" r="21" fill="url(#sg9)"/>
<circle cx="222" cy="546" r="17" fill="url(#sg1)"/>
<circle cx="342" cy="24" r="19" fill="url(#sg5)"/>
<circle cx="651" cy="54" r="19" fill="url(#sg9)"/>
<circle cx="193" cy="605" r="16" fill="url(#sg10)"/>
<circle cx="575" cy="414" r="14" fill="url(#sg8)"/>
<circle cx="55" cy="363" r="19" fill="url(#sg10)"/>
<circle cx="595" cy="524" r="15" fill="url(#sg7)"/>
<circle cx="486" cy="470" r="18" fill="url(#sg4)"/>
<circle cx="672" cy="578" r="18" fill="url(#sg6)"/>
<circle cx="368" cy="656" r="19" fill="url(#sg7)"/>
<circle cx="33" cy="255" r="17" fill="url(#sg15)"/>
<circle cx="63" cy="145" r="15" fill="url(#sg1)"/>
<circle cx="223" cy="521" r="14" fill="url(#sg9)"/>
<circle cx="495" cy="514" r="13" fill="url(#sg6)"/>
<circle cx="649" cy="567" r="14" fill="url(#sg6)"/>
<circle cx="822" cy="128" r="14" fill="url(#sg10)"/>
<circle cx="891" cy="358" r="15" fill="url(#sg6)"/>
<circle cx="667" cy="120" r="9" fill="url(#sg12)"/>
<circle cx="823" cy="139" r="11" fill="url(#sg8)"/>
<circle cx="458" cy="51" r="16" fill="url(#sg15)"/>
<circle cx="440" cy="270" r="16" fill="url(#sg6)"/>
<circle cx="887" cy="579" r="16" fill="url(#sg10)"/>
<circle cx="749" cy="131" r="13" fill="url(#sg6)"/>
<circle cx="780" cy="317" r="14" fill="url(#sg8)"/>
<circle cx="825" cy="74" r="18" fill="url(#sg8)"/>
<circle cx="508" cy="100" r="15" fill="url(#sg8)"/>
<circle cx="738" cy="704" r="16" fill="url(#sg6)"/>
<circle cx="622" cy="308" r="18" fill="url(#sg3)"/>
<circle cx="212" cy="187" r="18" fill="url(#sg11)"/>
<circle cx="522" cy="107" r="12" fill="url(#sg8)"/>
<circle cx="153" cy="65" r="14" fill="url(#sg13)"/>
<circle cx="268" cy="251" r="11" fill="url(#sg8)"/>
<circle cx="570" cy="281" r="14" fill="url(#sg8)"/>
<circle cx="415" cy="265" r="16" fill="url(#sg6)"/>
<circle cx="46" cy="688" r="10" fill="url(#sg2)"/>
<circle cx="322" cy="49" r="19" fill="url(#sg9)"/>
<circle cx="291" cy="66" r="22" fill="url(#sg8)"/>
<circle cx="517" cy="519" r="16" fill="url(#sg7)"/>
<circle cx="498" cy="425" r="11" fill="url(#sg7)"/>
<circle cx="434" cy="629" r="16" fill="url(#sg2)"/>
<circle cx="52" cy="155" r="19" fill="url(#sg2)"/>
<circle cx="41" cy="130" r="18" fill="url(#sg8)"/>
<circle cx="59" cy="423" r="15" fill="url(#sg7)"/>
<circle cx="314" cy="541" r="19" fill="url(#sg4)"/>
<circle cx="27" cy="290" r="24" fill="url(#sg10)"/>
<circle cx="207" cy="444" r="20" fill="url(#sg6)"/>
<circle cx="234" cy="672" r="19" fill="url(#sg4)"/>
<circle cx="84" cy="176" r="11" fill="url(#sg0)"/>
<circle cx="248" cy="374" r="10" fill="url(#sg4)"/>
<circle cx="612" cy="609" r="15" fill="url(#sg5)"/>
<circle cx="780" cy="157" r="9" fill="url(#sg4)"/>
<circle cx="565" cy="255" r="17" fill="url(#sg6)"/>
<circle cx="373" cy="648" r="16" fill="url(#sg8)"/>
<circle cx="877" cy="654" r="14" fill="url(#sg8)"/>
<circle cx="807" cy="297" r="17" fill="url(#sg7)"/>
<circle cx="805" cy="577" r="19" fill="url(#sg6)"/>
<circle cx="145" cy="318" r="19" fill="url(#sg2)"/>
<circle cx="829" cy="575" r="16" fill="url(#sg8)"/>
<circle cx="171" cy="216" r="11" fill="url(#sg11)"/>
<circle cx="8" cy="657" r="19" fill="url(#sg6)"/>
<circle cx="879" cy="130" r="17" fill="url(#sg11)"/>
<circle cx="763" cy="34" r="19" fill="url(#sg6)"/>
<circle cx="347" cy="490" r="20" fill="url(#sg9)"/>
<circle cx="288" cy="655" r="16" fill="url(#sg7)"/>
<circle cx="54" cy="210" r="17" fill="url(#sg12)"/>
<circle cx="733" cy="52" r="18" fill="url(#sg8)"/>
<circle cx="79" cy="605" r="21" fill="url(#sg7)"/>
<circle cx="828" cy="189" r="18" fill="url(#sg8)"/>
<circle cx="758" cy="42" r="10" fill="url(#sg8)"/>
<circle cx="12" cy="338" r="15" fill="url(#sg2)"/>
<circle cx="612" cy="699" r="17" fill="url(#sg10)"/>
<circle cx="750" cy="304" r="11" fill="url(#sg5)"/>
<circle cx="810" cy="185" r="11" fill="url(#sg8)"/>
<circle cx="488" cy="132" r="19" fill="url(#sg9)"/>
<circle cx="907" cy="594" r="14" fill="url(#sg9)"/>
<circle cx="127" cy="232" r="12" fill="url(#sg6)"/>
<circle cx="269" cy="569" r="15" fill="url(#sg8)"/>
<circle cx="193" cy="650" r="16" fill="url(#sg4)"/>
<circle cx="473" cy="375" r="11" fill="url(#sg7)"/>
<circle cx="247" cy="655" r="18" fill="url(#sg6)"/>
<circle cx="347" cy="411" r="15" fill="url(#sg11)"/>
<circle cx="275" cy="61" r="11" fill="url(#sg7)"/>
<circle cx="295" cy="567" r="17" fill="url(#sg7)"/>
<circle cx="869" cy="666" r="10" fill="url(#sg11)"/>
<circle cx="650" cy="311" r="16" fill="url(#sg3)"/>
<circle cx="605" cy="23" r="17" fill="url(#sg13)"/>
<circle cx="821" cy="83" r="16" fill="url(#sg9)"/>
<circle cx="399" cy="342" r="14" fill="url(#sg5)"/>
<circle cx="773" cy="231" r="18" fill="url(#sg9)"/>
<circle cx="857" cy="133" r="12" fill="url(#sg6)"/>
<circle cx="444" cy="34" r="16" fill="url(#sg8)"/>
<circle cx="852" cy="180" r="16" fill="url(#sg7)"/>
<circle cx="638" cy="337" r="15" fill="url(#sg4)"/>
<circle cx="876" cy="84" r="15" fill="url(#sg11)"/>
<circle cx="166" cy="493" r="10" fill="url(#sg4)"/>
<circle cx="780" cy="622" r="16" fill="url(#sg9)"/>
<circle cx="378" cy="501" r="11" fill="url(#sg12)"/>
<circle cx="683" cy="587" r="11" fill="url(#sg11)"/>
<circle cx="449" cy="254" r="19" fill="url(#sg8)"/>
<circle cx="21" cy="594" r="13" fill="url(#sg1)"/>
<circle cx="168" cy="506" r="18" fill="url(#sg6)"/>
<circle cx="596" cy="221" r="20" fill="url(#sg2)"/>
<circle cx="402" cy="342" r="16" fill="url(#sg5)"/>
<circle cx="337" cy="646" r="16" fill="url(#sg11)"/>
<circle cx="104" cy="397" r="17" fill="url(#sg7)"/>
<circle cx="224" cy="235" r="15" fill="url(#sg3)"/>
<circle cx="897" cy="140" r="12" fill="url(#sg10)"/>
<circle cx="593" cy="160" r="16" fill="url(#sg11)"/>
<circle cx="693" cy="709" r="15" fill="url(#sg11)"/>
<circle cx="506" cy="126" r="16" fill="url(#sg10)"/>
<circle cx="845" cy="413" r="11" fill="url(#sg10)"/>
<circle cx="839" cy="56" r="18" fill="url(#sg11)"/>
<circle cx="44" cy="561" r="14" fill="url(#sg8)"/>
<circle cx="420" cy="235" r="17" fill="url(#sg10)"/>
<circle cx="426" cy="269" r="13" fill="url(#sg5)"/>
<circle cx="503" cy="346" r="19" fill="url(#sg6)"/>
<circle cx="568" cy="61" r="12" fill="url(#sg12)"/>
<circle cx="186" cy="74" r="11" fill="url(#sg7)"/>
<circle cx="483" cy="20" r="18" fill="url(#sg15)"/>
<circle cx="706" cy="315" r="16" fill="url(#sg7)"/>
<circle cx="691" cy="322" r="10" fill="url(#sg5)"/>
<circle cx="624" cy="265" r="20" fill="url(#sg3)"/>
<circle cx="459" cy="656" r="17" fill="url(#sg7)"/>
<circle cx="179" cy="210" r="18" fill="url(#sg13)"/>
<circle cx="440" cy="455" r="12" fill="url(#sg7)"/>
<circle cx="401" cy="392" r="16" fill="url(#sg7)"/>
<circle cx="451" cy="304" r="14" fill="url(#sg3)"/>
<circle cx="894" cy="334" r="15" fill="url(#sg7)"/>
<circle cx="881" cy="156" r="16" fill="url(#sg9)"/>
<circle cx="801" cy="415" r="14" fill="url(#sg7)"/>
<circle cx="421" cy="324" r="11" fill="url(#sg7)"/>
<circle cx="469" cy="463" r="16" fill="url(#sg8)"/>
<circle cx="451" cy="545" r="13" fill="url(#sg4)"/>
<circle cx="898" cy="295" r="14" fill="url(#sg11)"/>
<circle cx="72" cy="188" r="14" fill="url(#sg3)"/>
<circle cx="194" cy="353" r="12" fill="url(#sg4)"/>
<circle cx="742" cy="421" r="18" fill="url(#sg8)"/>
<circle cx="94" cy="112" r="16" fill="url(#sg17)"/>
<circle cx="96" cy="388" r="15" fill="url(#sg7)"/>
<circle cx="874" cy="204" r="11" fill="url(#sg12)"/>
<circle cx="591" cy="130" r="14" fill="url(#sg14)"/>
<circle cx="615" cy="153" r="15" fill="url(#sg7)"/>
<circle cx="461" cy="610" r="20" fill="url(#sg7)"/>
<circle cx="318" cy="541" r="18" fill="url(#sg7)"/>
<circle cx="118" cy="369" r="15" fill="url(#sg5)"/>
<circle cx="107" cy="705" r="17" fill="url(#sg6)"/>
<circle cx="863" cy="115" r="10" fill="url(#sg6)"/>
<circle cx="414" cy="166" r="12" fill="url(#sg7)"/>
<circle cx="98" cy="287" r="18" fill="url(#sg8)"/>
<circle cx="554" cy="608" r="16" fill="url(#sg7)"/>
<circle cx="433" cy="319" r="19" fill="url(#sg9)"/>
<circle cx="845" cy="443" r="17" fill="url(#sg8)"/>
<circle cx="134" cy="109" r="19" fill="url(#sg12)"/>
<circle cx="845" cy="31" r="14" fill="url(#sg11)"/>
<circle cx="251" cy="708" r="18" fill="url(#sg5)"/>
<circle cx="832" cy="676" r="14" fill="url(#sg9)"/>
<circle cx="267" cy="515" r="15" fill="url(#sg7)"/>
<circle cx="357" cy="687" r="9" fill="url(#sg8)"/>
<circle cx="343" cy="243" r="22" fill="url(#sg6)"/>
<circle cx="402" cy="283" r="15" fill="url(#sg7)"/>
<circle cx="174" cy="375" r="19" fill="url(#sg9)"/>
<circle cx="18" cy="392" r="17" fill="url(#sg9)"/>
<circle cx="686" cy="609" r="15" fill="url(#sg8)"/>
<circle cx="651" cy="192" r="11" fill="url(#sg14)"/>
<circle cx="434" cy="141" r="16" fill="url(#sg8)"/>
<circle cx="734" cy="308" r="16" fill="url(#sg7)"/>
<circle cx="771" cy="700" r="18" fill="url(#sg6)"/>
<circle cx="120" cy="415" r="18" fill="url(#sg8)"/>
<circle cx="887" cy="674" r="16" fill="url(#sg9)"/>
<circle cx="774" cy="573" r="16" fill="url(#sg13)"/>
<circle cx="429" cy="131" r="16" fill="url(#sg10)"/>
<circle cx="8" cy="700" r="21" fill="url(#sg3)"/>
<circle cx="151" cy="631" r="20" fill="url(#sg6)"/>
<circle cx="129" cy="677" r="12" fill="url(#sg5)"/>
<circle cx="8" cy="160" r="18" fill="url(#sg1)"/>
<circle cx="607" cy="129" r="18" fill="url(#sg15)"/>
<circle cx="859" cy="567" r="15" fill="url(#sg7)"/>
<circle cx="827" cy="284" r="13" fill="url(#sg7)"/>
<circle cx="633" cy="290" r="17" fill="url(#sg6)"/>
<circle cx="787" cy="160" r="16" fill="url(#sg6)"/>
<circle cx="555" cy="367" r="12" fill="url(#sg7)"/>
<circle cx="134" cy="284" r="17" fill="url(#sg8)"/>
<circle cx="557" cy="345" r="14" fill="url(#sg6)"/>
<circle cx="24" cy="108" r="19" fill="url(#sg10)"/>
<circle cx="678" cy="57" r="17" fill="url(#sg10)"/>
<circle cx="20" cy="289" r="23" fill="url(#sg9)"/>
<circle cx="827" cy="254" r="16" fill="url(#sg8)"/>
<circle cx="248" cy="127" r="20" fill="url(#sg11)"/>
<circle cx="246" cy="592" r="21" fill="url(#sg8)"/>
<circle cx="418" cy="416" r="16" fill="url(#sg6)"/>
<circle cx="133" cy="647" r="15" fill="url(#sg5)"/>
<circle cx="109" cy="592" r="20" fill="url(#sg8)"/>
<circle cx="720" cy="446" r="17" fill="url(#sg10)"/>
<circle cx="722" cy="488" r="18" fill="url(#sg10)"/>
<circle cx="710" cy="678" r="16" fill="url(#sg10)"/>
<circle cx="72" cy="36" r="18" fill="url(#sg0)"/>
<circle cx="723" cy="381" r="17" fill="url(#sg8)"/>
<circle cx="342" cy="187" r="10" fill="url(#sg6)"/>
<circle cx="523" cy="414" r="11" fill="url(#sg8)"/>
<circle cx="377" cy="85" r="13" fill="url(#sg6)"/>
<circle cx="661" cy="187" r="17" fill="url(#sg10)"/>
<circle cx="676" cy="467" r="18" fill="url(#sg9)"/>
<circle cx="414" cy="517" r="15" fill="url(#sg9)"/>
<circle cx="56" cy="631" r="21" fill="url(#sg5)"/>
<circle cx="859" cy="284" r="17" fill="url(#sg10)"/>
<circle cx="123" cy="141" r="14" fill="url(#sg17)"/>
<circle cx="740" cy="334" r="14" fill="url(#sg10)"/>
<circle cx="722" cy="363" r="14" fill="url(#sg9)"/>
<circle cx="576" cy="46" r="17" fill="url(#sg10)"/>
<circle cx="295" cy="48" r="19" fill="url(#sg9)"/>
<circle cx="67" cy="449" r="21" fill="url(#sg5)"/>
<circle cx="728" cy="631" r="12" fill="url(#sg7)"/>
<circle cx="708" cy="471" r="14" fill="url(#sg10)"/>
<circle cx="94" cy="674" r="21" fill="url(#sg8)"/>
<circle cx="434" cy="363" r="14" fill="url(#sg7)"/>
<circle cx="545" cy="209" r="18" fill="url(#sg5)"/>
<circle cx="22" cy="58" r="14" fill="url(#sg0)"/>
<circle cx="729" cy="460" r="18" fill="url(#sg8)"/>
<circle cx="75" cy="85" r="18" fill="url(#sg1)"/>
<circle cx="739" cy="391" r="13" fill="url(#sg8)"/>
<circle cx="243" cy="269" r="13" fill="url(#sg6)"/>
<circle cx="582" cy="229" r="15" fill="url(#sg4)"/>
<circle cx="765" cy="496" r="17" fill="url(#sg10)"/>
<circle cx="237" cy="75" r="14" fill="url(#sg9)"/>
<circle cx="53" cy="41" r="13" fill="url(#sg0)"/>
<circle cx="786" cy="249" r="11" fill="url(#sg10)"/>
<circle cx="287" cy="701" r="21" fill="url(#sg6)"/>
<circle cx="222" cy="593" r="13" fill="url(#sg10)"/>
<circle cx="767" cy="577" r="19" fill="url(#sg9)"/>
<circle cx="860" cy="660" r="11" fill="url(#sg11)"/>
<circle cx="423" cy="84" r="16" fill="url(#sg8)"/>
<circle cx="571" cy="98" r="16" fill="url(#sg11)"/>
<circle cx="452" cy="73" r="18" fill="url(#sg7)"/>
<circle cx="735" cy="367" r="19" fill="url(#sg8)"/>
<circle cx="890" cy="77" r="10" fill="url(#sg10)"/>
<circle cx="736" cy="136" r="16" fill="url(#sg10)"/>
<circle cx="711" cy="190" r="15" fill="url(#sg4)"/>
<circle cx="422" cy="344" r="13" fill="url(#sg7)"/>
<circle cx="829" cy="341" r="16" fill="url(#sg7)"/>
<circle cx="679" cy="114" r="19" fill="url(#sg10)"/>
<circle cx="94" cy="473" r="19" fill="url(#sg11)"/>
<circle cx="660" cy="404" r="15" fill="url(#sg7)"/>
<circle cx="366" cy="350" r="17" fill="url(#sg4)"/>
<circle cx="868" cy="570" r="11" fill="url(#sg9)"/>
<circle cx="160" cy="704" r="18" fill="url(#sg3)"/>
<circle cx="371" cy="544" r="13" fill="url(#sg11)"/>
<circle cx="193" cy="531" r="17" fill="url(#sg4)"/>
<circle cx="251" cy="437" r="20" fill="url(#sg2)"/>
<circle cx="124" cy="230" r="13" fill="url(#sg4)"/>
<circle cx="725" cy="623" r="16" fill="url(#sg9)"/>
<circle cx="611" cy="645" r="11" fill="url(#sg9)"/>
<circle cx="19" cy="493" r="18" fill="url(#sg6)"/>
<circle cx="42" cy="187" r="18" fill="url(#sg7)"/>
<circle cx="562" cy="24" r="17" fill="url(#sg4)"/>
<circle cx="779" cy="54" r="16" fill="url(#sg9)"/>
<circle cx="231" cy="137" r="16" fill="url(#sg12)"/>
<circle cx="832" cy="359" r="14" fill="url(#sg8)"/>
<circle cx="556" cy="283" r="15" fill="url(#sg8)"/>
<circle cx="356" cy="259" r="13" fill="url(#sg2)"/>
<circle cx="315" cy="492" r="19" fill="url(#sg9)"/>
<circle cx="349" cy="528" r="16" fill="url(#sg9)"/>
<circle cx="155" cy="178" r="15" fill="url(#sg9)"/>
<circle cx="749" cy="470" r="15" fill="url(#sg6)"/>
<circle cx="187" cy="566" r="20" fill="url(#sg0)"/>
<circle cx="472" cy="132" r="14" fill="url(#sg12)"/>
<circle cx="786" cy="100" r="16" fill="url(#sg10)"/>
<circle cx="878" cy="440" r="18" fill="url(#sg9)"/>
<circle cx="190" cy="128" r="20" fill="url(#sg12)"/>
<circle cx="613" cy="496" r="14" fill="url(#sg7)"/>
<circle cx="709" cy="547" r="12" fill="url(#sg9)"/>
<circle cx="193" cy="335" r="19" fill="url(#sg5)"/>
<circle cx="670" cy="363" r="15" fill="url(#sg10)"/>
<circle cx="365" cy="415" r="17" fill="url(#sg7)"/>
<circle cx="549" cy="573" r="17" fill="url(#sg7)"/>
<circle cx="845" cy="308" r="16" fill="url(#sg7)"/>
<circle cx="531" cy="297" r="11" fill="url(#sg9)"/>
<circle cx="831" cy="417" r="17" fill="url(#sg10)"/>
<circle cx="364" cy="91" r="9" fill="url(#sg8)"/>
<circle cx="800" cy="23" r="15" fill="url(#sg7)"/>
<circle cx="646" cy="365" r="15" fill="url(#sg6)"/>
<circle cx="766" cy="32" r="17" fill="url(#sg4)"/>
<circle cx="715" cy="269" r="16" fill="url(#sg4)"/>
<circle cx="399" cy="179" r="15" fill="url(#sg12)"/>
<circle cx="697" cy="367" r="16" fill="url(#sg10)"/>
<circle cx="228" cy="496" r="20" fill="url(#sg13)"/>
<circle cx="442" cy="649" r="18" fill="url(#sg8)"/>
<circle cx="636" cy="132" r="16" fill="url(#sg13)"/>
<circle cx="153" cy="472" r="15" fill="url(#sg5)"/>
<circle cx="95" cy="382" r="18" fill="url(#sg8)"/>
<circle cx="740" cy="24" r="16" fill="url(#sg9)"/>
<circle cx="230" cy="647" r="19" fill="url(#sg8)"/>
<circle cx="825" cy="396" r="15" fill="url(#sg10)"/>
<circle cx="767" cy="98" r="10" fill="url(#sg6)"/>
<circle cx="292" cy="158" r="12" fill="url(#sg8)"/>
<circle cx="79" cy="641" r="13" fill="url(#sg4)"/>
<circle cx="451" cy="336" r="14" fill="url(#sg9)"/>
<circle cx="484" cy="73" r="13" fill="url(#sg17)"/>
<circle cx="652" cy="59" r="16" fill="url(#sg11)"/>
<circle cx="488" cy="577" r="18" fill="url(#sg8)"/>
<circle cx="887" cy="318" r="17" fill="url(#sg9)"/>
<circle cx="818" cy="490" r="12" fill="url(#sg12)"/>
<circle cx="647" cy="206" r="14" fill="url(#sg7)"/>
<circle cx="701" cy="693" r="12" fill="url(#sg8)"/>
<circle cx="643" cy="463" r="16" fill="url(#sg7)"/>
<circle cx="314" cy="445" r="19" fill="url(#sg7)"/>
<circle cx="190" cy="476" r="15" fill="url(#sg9)"/>
<circle cx="434" cy="417" r="18" fill="url(#sg7)"/>
<circle cx="748" cy="382" r="18" fill="url(#sg7)"/>
<circle cx="607" cy="403" r="10" fill="url(#sg7)"/>
<circle cx="373" cy="626" r="19" fill="url(#sg8)"/>
<circle cx="315" cy="307" r="13" fill="url(#sg7)"/>
<circle cx="161" cy="441" r="16" fill="url(#sg0)"/>
<circle cx="325" cy="516" r="15" fill="url(#sg10)"/>
<circle cx="151" cy="415" r="17" fill="url(#sg0)"/>
<circle cx="773" cy="285" r="18" fill="url(#sg9)"/>
<circle cx="263" cy="103" r="20" fill="url(#sg10)"/>
<circle cx="728" cy="524" r="16" fill="url(#sg16)"/>
<circle cx="843" cy="544" r="17" fill="url(#sg9)"/>
<circle cx="669" cy="281" r="16" fill="url(#sg5)"/>
<circle cx="183" cy="362" r="15" fill="url(#sg6)"/>
<circle cx="43" cy="383" r="11" fill="url(#sg8)"/>
<circle cx="140" cy="612" r="11" fill="url(#sg4)"/>
<circle cx="716" cy="211" r="16" fill="url(#sg4)"/>
<circle cx="876" cy="395" r="17" fill="url(#sg8)"/>
<circle cx="496" cy="101" r="18" fill="url(#sg12)"/>
<circle cx="448" cy="431" r="12" fill="url(#sg4)"/>
<circle cx="394" cy="622" r="16" fill="url(#sg8)"/>
<circle cx="749" cy="265" r="16" fill="url(#sg6)"/>
<circle cx="161" cy="329" r="24" fill="url(#sg3)"/>
<circle cx="379" cy="101" r="18" fill="url(#sg10)"/>
<circle cx="134" cy="158" r="14" fill="url(#sg4)"/>
<circle cx="86" cy="223" r="11" fill="url(#sg4)"/>
<circle cx="131" cy="366" r="14" fill="url(#sg8)"/>
<circle cx="712" cy="497" r="20" fill="url(#sg9)"/>
<circle cx="193" cy="233" r="15" fill="url(#sg8)"/>
<circle cx="781" cy="391" r="11" fill="url(#sg7)"/>
<circle cx="145" cy="269" r="23" fill="url(#sg9)"/>
<circle cx="798" cy="184" r="14" fill="url(#sg5)"/>
<circle cx="870" cy="284" r="16" fill="url(#sg10)"/>
<circle cx="727" cy="23" r="11" fill="url(#sg7)"/>
<circle cx="802" cy="552" r="16" fill="url(#sg10)"/>
<circle cx="330" cy="196" r="13" fill="url(#sg8)"/>
<circle cx="208" cy="676" r="20" fill="url(#sg4)"/>
<circle cx="391" cy="158" r="16" fill="url(#sg12)"/>
<circle cx="807" cy="571" r="14" fill="url(#sg10)"/>
<circle cx="178" cy="670" r="18" fill="url(#sg3)"/>
<circle cx="367" cy="249" r="19" fill="url(#sg10)"/>
<circle cx="902" cy="494" r="16" fill="url(#sg8)"/>
<circle cx="866" cy="622" r="16" fill="url(#sg8)"/>
<circle cx="751" cy="101" r="16" fill="url(#sg10)"/>
<circle cx="581" cy="387" r="16" fill="url(#sg7)"/>
<circle cx="439" cy="683" r="16" fill="url(#sg4)"/>
<circle cx="673" cy="327" r="16" fill="url(#sg6)"/>
<circle cx="855" cy="151" r="16" fill="url(#sg9)"/>
<circle cx="170" cy="34" r="15" fill="url(#sg14)"/>
<circle cx="532" cy="283" r="17" fill="url(#sg7)"/>
<circle cx="363" cy="559" r="12" fill="url(#sg9)"/>
<circle cx="539" cy="410" r="15" fill="url(#sg7)"/>
<circle cx="581" cy="604" r="16" fill="url(#sg3)"/>
<circle cx="151" cy="286" r="23" fill="url(#sg5)"/>
<circle cx="146" cy="673" r="20" fill="url(#sg3)"/>
<circle cx="816" cy="34" r="17" fill="url(#sg4)"/>
<circle cx="491" cy="127" r="17" fill="url(#sg11)"/>
<circle cx="859" cy="614" r="15" fill="url(#sg8)"/>
<circle cx="155" cy="410" r="21" fill="url(#sg8)"/>
<circle cx="703" cy="414" r="17" fill="url(#sg11)"/>
<circle cx="620" cy="359" r="15" fill="url(#sg8)"/>
<circle cx="816" cy="495" r="14" fill="url(#sg12)"/>
<circle cx="239" cy="213" r="15" fill="url(#sg6)"/>
<circle cx="427" cy="382" r="17" fill="url(#sg7)"/>
<circle cx="281" cy="493" r="16" fill="url(#sg7)"/>
<circle cx="22" cy="526" r="20" fill="url(#sg6)"/>
<circle cx="301" cy="268" r="17" fill="url(#sg5)"/>
<circle cx="721" cy="208" r="14" fill="url(#sg6)"/>
<circle cx="564" cy="567" r="12" fill="url(#sg8)"/>
<circle cx="647" cy="593" r="11" fill="url(#sg9)"/>
<circle cx="899" cy="186" r="13" fill="url(#sg8)"/>
<circle cx="226" cy="236" r="20" fill="url(#sg7)"/>
<circle cx="349" cy="705" r="19" fill="url(#sg7)"/>
<circle cx="633" cy="444" r="17" fill="url(#sg9)"/>
<circle cx="831" cy="428" r="17" fill="url(#sg8)"/>
<circle cx="637" cy="612" r="15" fill="url(#sg9)"/>
<circle cx="607" cy="596" r="14" fill="url(#sg7)"/>
<circle cx="551" cy="651" r="18" fill="url(#sg3)"/>
<circle cx="18" cy="241" r="17" fill="url(#sg17)"/>
<circle cx="43" cy="218" r="12" fill="url(#sg17)"/>
<circle cx="896" cy="389" r="17" fill="url(#sg12)"/>
<circle cx="658" cy="706" r="18" fill="url(#sg7)"/>
<circle cx="637" cy="426" r="16" fill="url(#sg5)"/>
<circle cx="794" cy="132" r="17" fill="url(#sg8)"/>
<circle cx="719" cy="442" r="18" fill="url(#sg10)"/>
<rect x="23" y="37" width="865" height="646" filter="url(#semnoise)" opacity="0.5"/>
</g></g>
<rect x="38" y="63" width="91.5" height="84" fill="#fff"/>
<text x="44.5" y="123.3" font-family="'Liberation Sans',Arial,sans-serif" font-size="67.0" font-weight="bold" fill="#000" text-anchor="start" >(a)</text>
<rect x="39" y="637" width="145" height="21.5" fill="#fff"/>
<text x="69.6" y="617.0" font-family="'Liberation Serif','Times New Roman',serif" font-size="46.0" font-weight="normal" fill="#fff" text-anchor="start" textLength="86.4" lengthAdjust="spacingAndGlyphs">1 μm</text>
<rect x="352.6" y="424.3" width="63.4" height="17.3" fill="#ff0000"/>
<rect x="430.3" y="303.6" width="62.9" height="138.0" fill="#ff0000"/>
<rect x="507.9" y="94.7" width="61.9" height="346.9" fill="#ff0000"/>
<rect x="584.2" y="207.2" width="63.2" height="234.4" fill="#ff0000"/>
<rect x="661.9" y="327.7" width="62.9" height="113.9" fill="#ff0000"/>
<rect x="738.2" y="400.2" width="63.8" height="41.4" fill="#ff0000"/>
<rect x="815.9" y="424.1" width="61.7" height="17.5" fill="#ff0000"/>
<path d="M383.4,404.0 C387.0,401.0 397.4,392.7 405.0,386.0 C412.6,379.3 420.0,377.8 428.9,363.9 C437.8,349.9 449.5,321.1 458.4,302.3 C467.3,283.6 474.5,271.1 482.5,251.4 C490.5,231.8 499.5,204.6 506.6,184.4 C513.7,164.2 518.6,144.1 525.0,130.0 C531.4,115.9 539.2,105.8 545.0,100.0 C550.8,94.2 555.9,95.2 560.0,95.0 C564.1,94.8 565.5,95.4 569.5,98.7 C573.5,102.0 579.1,107.7 584.2,114.8 C589.3,121.9 593.6,126.4 600.3,141.6 C607.0,156.8 616.4,184.0 624.4,205.9 C632.4,227.8 642.2,257.2 648.5,272.8 C654.8,288.4 657.9,291.1 661.9,299.6 C665.9,308.1 666.2,312.3 672.6,323.7 C679.0,335.1 691.1,355.9 700.0,368.0 C708.9,380.1 719.6,390.4 726.2,396.0 C732.8,401.6 732.3,398.7 739.6,401.4 C746.9,404.1 759.3,409.6 770.0,412.0 C780.7,414.4 790.6,415.4 803.8,416.1 C817.0,416.8 841.8,416.1 849.4,416.1" fill="none" stroke="#ff0000" stroke-width="2.6"/>
<rect x="346.5" y="38.4" width="538.3" height="403.2" fill="none" stroke="#ff0000" stroke-width="2.6"/>
<line x1="346.5" y1="441.6" x2="351.5" y2="441.6" stroke="#ff0000" stroke-width="2"/>
<line x1="346.5" y1="360.7" x2="351.5" y2="360.7" stroke="#ff0000" stroke-width="2"/>
<line x1="346.5" y1="279.8" x2="351.5" y2="279.8" stroke="#ff0000" stroke-width="2"/>
<line x1="346.5" y1="198.9" x2="351.5" y2="198.9" stroke="#ff0000" stroke-width="2"/>
<line x1="346.5" y1="118.0" x2="351.5" y2="118.0" stroke="#ff0000" stroke-width="2"/>
<line x1="421.8" y1="441.6" x2="421.8" y2="436.6" stroke="#ff0000" stroke-width="2"/>
<line x1="499.1" y1="441.6" x2="499.1" y2="436.6" stroke="#ff0000" stroke-width="2"/>
<line x1="576.4" y1="441.6" x2="576.4" y2="436.6" stroke="#ff0000" stroke-width="2"/>
<line x1="653.7" y1="441.6" x2="653.7" y2="436.6" stroke="#ff0000" stroke-width="2"/>
<line x1="731.0" y1="441.6" x2="731.0" y2="436.6" stroke="#ff0000" stroke-width="2"/>
<line x1="808.3" y1="441.6" x2="808.3" y2="436.6" stroke="#ff0000" stroke-width="2"/>
<text x="336.5" y="454.8" font-family="'Liberation Serif','Times New Roman',serif" font-size="39.5" font-weight="bold" fill="#ff0000" text-anchor="end" >0</text>
<text x="336.5" y="293.0" font-family="'Liberation Serif','Times New Roman',serif" font-size="39.5" font-weight="bold" fill="#ff0000" text-anchor="end" >20</text>
<text x="336.5" y="131.2" font-family="'Liberation Serif','Times New Roman',serif" font-size="39.5" font-weight="bold" fill="#ff0000" text-anchor="end" >40</text>
<text x="344.5" y="481.0" font-family="'Liberation Serif','Times New Roman',serif" font-size="38.5" font-weight="bold" fill="#ff0000" text-anchor="middle" >0.1</text>
<text x="499.1" y="481.0" font-family="'Liberation Serif','Times New Roman',serif" font-size="38.5" font-weight="bold" fill="#ff0000" text-anchor="middle" >0.2</text>
<text x="653.7" y="481.0" font-family="'Liberation Serif','Times New Roman',serif" font-size="38.5" font-weight="bold" fill="#ff0000" text-anchor="middle" >0.3</text>
<text x="808.3" y="481.0" font-family="'Liberation Serif','Times New Roman',serif" font-size="38.5" font-weight="bold" fill="#ff0000" text-anchor="middle" >0.4</text>
<text x="598.4" y="537.0" font-family="'Liberation Serif','Times New Roman',serif" font-size="54.0" font-weight="bold" fill="#ff0000" text-anchor="middle" textLength="358" lengthAdjust="spacingAndGlyphs">Diameter (μm)</text>
<text transform="translate(281.3,255.6) rotate(-90)" font-family="'Liberation Serif','Times New Roman',serif" font-size="58" font-weight="bold" fill="#ff0000" text-anchor="middle" textLength="369" lengthAdjust="spacingAndGlyphs">Frequency (%)</text>
<text x="881.0" y="73.8" font-family="'Liberation Serif','Times New Roman',serif" font-size="39.0" font-weight="bold" fill="#ff0000" text-anchor="end" >2Pt@WO<tspan dy="12" font-size="24">3</tspan><tspan dy="-12">/C</tspan></text>
<text x="881.6" y="117.0" font-family="'Liberation Serif','Times New Roman',serif" font-size="31.3" font-weight="bold" fill="#ff0000" text-anchor="end" textLength="178" lengthAdjust="spacingAndGlyphs">Average size:</text>
<text x="881.6" y="152.2" font-family="'Liberation Serif','Times New Roman',serif" font-size="31.3" font-weight="bold" fill="#ff0000" text-anchor="end" textLength="192" lengthAdjust="spacingAndGlyphs">0.246±0.056 μm</text>
<defs><clipPath id="temclip"><rect x="899" y="37" width="644" height="646"/></clipPath><filter id="tb20" x="-0.5" y="-0.5" width="2" height="2"><feGaussianBlur stdDeviation="20"/></filter><filter id="tb8" x="-0.5" y="-0.5" width="2" height="2"><feGaussianBlur stdDeviation="8"/></filter><filter id="tb4" x="-0.5" y="-0.5" width="2" height="2"><feGaussianBlur stdDeviation="4"/></filter><filter id="temnoise" x="0" y="0" width="1" height="1"><feTurbulence type="fractalNoise" baseFrequency="0.13 0.2" numOctaves="2" seed="9"/><feGaussianBlur stdDeviation="0.9"/><feColorMatrix type="matrix" values="0 0 0 0 0  0 0 0 0 0  0 0 0 0 0  4 0 0 0 -2"/></filter><filter id="temnoise2" x="0" y="0" width="1" height="1"><feTurbulence type="fractalNoise" baseFrequency="0.13 0.2" numOctaves="2" seed="9"/><feGaussianBlur stdDeviation="0.9"/><feColorMatrix type="matrix" values="0 0 0 0 1  0 0 0 0 1  0 0 0 0 1  -4 0 0 0 2"/></filter><pattern id="fringe" width="5.5" height="5.5" patternUnits="userSpaceOnUse" patternTransform="rotate(-40)"><rect width="2.4" height="5.5" fill="#000"/></pattern></defs>
<g clip-path="url(#temclip)">
<rect x="899" y="37" width="644" height="646" fill="#aaaaaa"/>
<path d="M899,37 L1100,37 L1060,200 L990,360 L960,560 L899,620 Z" fill="#c4c4c4" opacity="0.90" filter="url(#tb20)"/>
<path d="M1200,470 L1330,430 L1450,480 L1543,470 L1543,683 L1180,683 L1160,620 Z" fill="#c6c6c6" opacity="0.85" filter="url(#tb20)"/>
<path d="M1215,37 L1543,37 L1543,110 L1420,200 L1300,300 L1215,330 Z" fill="#b4b4b4" opacity="0.70" filter="url(#tb20)"/>
<path d="M960,683 L985,580 L1060,470 L1150,420 L1240,440 L1270,500 L1180,600 L1120,683 Z" fill="#7e7e7e" opacity="0.75" filter="url(#tb20)"/>
<path d="M1250,420 L1320,330 L1440,230 L1543,170 L1543,260 L1450,300 L1350,400 L1290,460 Z" fill="#767676" opacity="0.75" filter="url(#tb20)"/>
<path d="M1050,140 L1200,90 L1230,250 L1120,330 L1040,300 Z" fill="#a0a0a0" opacity="0.60" filter="url(#tb20)"/>
<path d="M1440,300 L1543,270 L1543,470 L1450,470 Z" fill="#9a9a9a" opacity="0.60" filter="url(#tb20)"/>
<mask id="fmask"><rect x="899" y="37" width="644" height="646" fill="#000"/><g filter="url(#tb8)"><path d="M975,650 L1000,560 L1100,470 L1200,440 L1230,480 L1150,560 L1080,640 L1040,683 L975,683 Z" fill="#fff"/><path d="M1300,310 L1440,220 L1500,200 L1520,230 L1450,290 L1340,360 Z" fill="#fff"/><path d="M1215,380 L1300,360 L1330,420 L1260,450 L1215,440 Z" fill="#ccc"/><path d="M1050,80 L1200,60 L1220,200 L1100,260 Z" fill="#3a3a3a"/></g></mask>
<rect x="899" y="37" width="644" height="646" fill="url(#fringe)" opacity="0.33" mask="url(#fmask)"/>
<ellipse cx="1525" cy="150" rx="30" ry="40" fill="#1a1a1a" filter="url(#tb8)"/>
<ellipse cx="1143" cy="250" rx="22" ry="55" fill="#505050" filter="url(#tb8)"/>
<ellipse cx="1005" cy="162" rx="26" ry="26" fill="#7a7a7a" filter="url(#tb8)"/>
<ellipse cx="982" cy="322" rx="26" ry="26" fill="#555555" filter="url(#tb8)"/>
<ellipse cx="1110" cy="358" rx="28" ry="26" fill="#383838" filter="url(#tb8)"/>
<ellipse cx="1265" cy="368" rx="26" ry="26" fill="#666666" filter="url(#tb8)"/>
<ellipse cx="1363" cy="590" rx="26" ry="22" fill="#3c3c3c" filter="url(#tb8)"/>
<ellipse cx="1424" cy="583" rx="22" ry="20" fill="#3a3a3a" filter="url(#tb8)"/>
<ellipse cx="1468" cy="534" rx="28" ry="28" fill="#606060" filter="url(#tb8)"/>
<ellipse cx="1473" cy="588" rx="24" ry="22" fill="#505050" filter="url(#tb8)"/>
<ellipse cx="1527" cy="632" rx="22" ry="26" fill="#202020" filter="url(#tb8)"/>
<ellipse cx="1384" cy="659" rx="26" ry="22" fill="#404040" filter="url(#tb8)"/>
<ellipse cx="1432" cy="676" rx="26" ry="14" fill="#404040" filter="url(#tb8)"/>
<ellipse cx="1510" cy="473" rx="14" ry="14" fill="#505050" filter="url(#tb8)"/>
<ellipse cx="910" cy="460" rx="18" ry="22" fill="#404040" filter="url(#tb8)"/>
<ellipse cx="929" cy="583" rx="16" ry="18" fill="#3a3a3a" filter="url(#tb8)"/>
<ellipse cx="1128" cy="625" rx="18" ry="20" fill="#606060" filter="url(#tb8)"/>
<ellipse cx="1099" cy="650" rx="20" ry="18" fill="#6a6a6a" filter="url(#tb8)"/>
<ellipse cx="1377" cy="532" rx="18" ry="18" fill="#808080" filter="url(#tb8)"/>
<ellipse cx="1325" cy="446" rx="22" ry="18" fill="#7a7a7a" filter="url(#tb8)"/>
<ellipse cx="1060" cy="460" rx="30" ry="30" fill="#787878" filter="url(#tb8)"/>
<ellipse cx="1230" cy="310" rx="20" ry="20" fill="#8a8a8a" filter="url(#tb8)"/>
<rect x="899" y="37" width="644" height="646" filter="url(#temnoise)" opacity="0.3"/>
<rect x="899" y="37" width="644" height="646" filter="url(#temnoise2)" opacity="0.3"/>
</g>
<circle cx="1005.5" cy="161.5" r="38.0" fill="none" stroke="#fff" stroke-width="4.2" stroke-dasharray="17,8"/>
<circle cx="982.0" cy="322.0" r="39.0" fill="none" stroke="#fff" stroke-width="4.2" stroke-dasharray="17,8"/>
<circle cx="1110.0" cy="359.0" r="38.5" fill="none" stroke="#fff" stroke-width="4.2" stroke-dasharray="17,8"/>
<circle cx="1265.0" cy="367.0" r="40.0" fill="none" stroke="#fff" stroke-width="4.2" stroke-dasharray="17,8"/>
<circle cx="1363.5" cy="591.0" r="40.5" fill="none" stroke="#fff" stroke-width="4.2" stroke-dasharray="17,8"/>
<rect x="911" y="64" width="92" height="83" fill="#fff"/>
<text x="913.5" y="123.3" font-family="'Liberation Sans',Arial,sans-serif" font-size="67.0" font-weight="bold" fill="#000" text-anchor="start" >(b)</text>
<rect x="911" y="656" width="88.3" height="12.5" fill="#fff"/>
<text x="904.0" y="642.3" font-family="'Liberation Serif','Times New Roman',serif" font-size="45.0" font-weight="normal" fill="#fff" text-anchor="start" textLength="99" lengthAdjust="spacingAndGlyphs">5 nm</text>
<line x1="1669.5" y1="190.7" x2="1998" y2="190.7" stroke="#222" stroke-width="2.6" stroke-dasharray="7,6"/>
<line x1="1734.8" y1="465.0" x2="1734.8" y2="545.0" stroke="#ff8000" stroke-width="2.4" stroke-dasharray="6,5"/>
<path d="M1730.8,542.0 L1738.8,542.0 L1734.8,554.0 Z" fill="#ff8000"/>
<line x1="1765.6" y1="195.0" x2="1765.6" y2="494.0" stroke="#ff0000" stroke-width="2.4" stroke-dasharray="6,5"/>
<path d="M1761.6,491.0 L1769.6,491.0 L1765.6,503.0 Z" fill="#ff0000"/>
<line x1="1816.0" y1="195.0" x2="1816.0" y2="434.0" stroke="#0000ff" stroke-width="2.4" stroke-dasharray="6,5"/>
<path d="M1812.0,431.0 L1820.0,431.0 L1816.0,443.0 Z" fill="#0000ff"/>
<line x1="1907.8" y1="195.0" x2="1907.8" y2="367.0" stroke="#008000" stroke-width="2.4" stroke-dasharray="6,5"/>
<path d="M1903.8,364.0 L1911.8,364.0 L1907.8,376.0 Z" fill="#008000"/>
<line x1="1924.5" y1="195.0" x2="1924.5" y2="278.0" stroke="#ff00ff" stroke-width="2.4" stroke-dasharray="6,5"/>
<path d="M1920.5,275.0 L1928.5,275.0 L1924.5,287.0 Z" fill="#ff00ff"/>
<line x1="1998.0" y1="195.0" x2="1998.0" y2="251.0" stroke="#000000" stroke-width="2.4" stroke-dasharray="6,5"/>
<path d="M1994.0,248.0 L2002.0,248.0 L1998.0,260.0 Z" fill="#000000"/>
<path d="M1667.5,313.3 L1669.5,310.1 L1671.5,306.9 L1673.5,303.7 L1675.5,300.6 L1677.5,297.5 L1679.5,294.4 L1681.5,291.4 L1683.5,288.4 L1685.5,285.4 L1687.5,282.5 L1689.5,279.5 L1691.5,276.6 L1693.5,273.8 L1695.5,270.9 L1697.5,268.1 L1699.5,265.4 L1701.5,262.6 L1703.5,259.9 L1705.5,257.2 L1707.5,254.5 L1709.5,251.9 L1711.5,249.3 L1713.5,246.7 L1715.5,244.2 L1717.5,241.6 L1719.5,239.1 L1721.5,236.7 L1723.5,234.2 L1725.5,231.8 L1727.5,229.4 L1729.5,227.0 L1731.5,224.7 L1733.5,222.4 L1735.5,220.1 L1737.5,217.8 L1739.5,215.6 L1741.5,213.4 L1743.5,211.2 L1745.5,209.0 L1747.5,206.9 L1749.5,204.8 L1751.5,202.7 L1753.5,200.6 L1755.5,198.6 L1757.5,196.6 L1759.5,194.6 L1761.5,192.6 L1763.5,190.7 L1765.5,188.7 L1767.5,186.8 L1769.5,185.0 L1771.5,183.1 L1773.5,181.3 L1775.5,179.5 L1777.5,177.7 L1779.5,175.9 L1781.5,174.2 L1783.5,172.5 L1785.5,170.8 L1787.5,169.1 L1789.5,167.4 L1791.5,165.8 L1793.5,164.2 L1795.5,162.6 L1797.5,161.0 L1799.5,159.5 L1801.5,158.0 L1803.5,156.4 L1805.5,154.9 L1807.5,153.5 L1809.5,152.0 L1811.5,150.6 L1813.5,149.2 L1815.5,147.8 L1817.5,146.4 L1819.5,145.0 L1821.5,143.7 L1823.5,142.4 L1825.5,141.1 L1827.5,139.8 L1829.5,138.5 L1831.5,137.3 L1833.5,136.0 L1835.5,134.8 L1837.5,133.6 L1839.5,132.4 L1841.5,131.2 L1843.5,130.1 L1845.5,128.9 L1847.5,127.8 L1849.5,126.7 L1851.5,125.6 L1853.5,124.5 L1855.5,123.5 L1857.5,122.4 L1859.5,121.4 L1861.5,120.4 L1863.5,119.4 L1865.5,118.4 L1867.5,117.4 L1869.5,116.5 L1871.5,115.5 L1873.5,114.6 L1875.5,113.6 L1877.5,112.7 L1879.5,111.8 L1881.5,111.0 L1883.5,110.1 L1885.5,109.2 L1887.5,108.4 L1889.5,107.5 L1891.5,106.7 L1893.5,105.9 L1895.5,105.1 L1897.5,104.3 L1899.5,103.5 L1901.5,102.7 L1903.5,102.0 L1905.5,101.2 L1907.5,100.5 L1909.5,99.8 L1911.5,99.0 L1913.5,98.3 L1915.5,97.6 L1917.5,96.9 L1919.5,96.3 L1921.5,95.6 L1923.5,94.9 L1925.5,94.2 L1927.5,93.6 L1929.5,93.0 L1931.5,92.3 L1933.5,91.7 L1935.5,91.1 L1937.5,90.5 L1939.5,89.9 L1941.5,89.3 L1943.5,88.7 L1945.5,88.1 L1947.5,87.5 L1949.5,87.0 L1951.5,86.4 L1953.5,85.9 L1955.5,85.3 L1957.5,84.8 L1959.5,84.3 L1961.5,83.8 L1963.5,83.3 L1965.5,82.8 L1967.5,82.3 L1969.5,81.8 L1971.5,81.3 L1973.5,80.8 L1975.5,80.4 L1977.5,79.9 L1979.5,79.5 L1981.5,79.0 L1983.5,78.6 L1985.5,78.2 L1987.5,77.7 L1989.5,77.3 L1991.5,76.9 L1993.5,76.5 L1995.5,76.1 L1997.5,75.7 L1999.5,75.3 L2001.5,74.9 L2003.5,74.6 L2005.5,74.2 L2007.5,73.8 L2009.5,73.5 L2011.5,73.1 L2013.5,72.8 L2015.5,72.5 L2017.5,72.1 L2019.5,71.8 L2021.5,71.5 L2023.5,71.2 L2025.5,70.9 L2027.5,70.6 L2029.5,70.3 L2031.5,70.0 L2033.5,69.7 L2035.5,69.4 L2037.5,69.1 L2039.5,68.9 L2041.5,68.6 L2043.5,68.3 L2045.5,68.1 L2047.5,67.8 L2049.5,67.6 L2051.5,67.4 L2053.5,67.1 L2055.5,66.9 L2057.5,66.7 L2059.5,66.4 L2061.5,66.2 L2063.5,66.0 L2065.5,65.8 L2067.5,65.6 L2069.5,65.4 L2071.5,65.2 L2073.5,65.0 L2075.5,64.8 L2077.5,64.7 L2079.5,64.5 L2081.5,64.3 L2083.5,64.1 L2085.5,64.0 L2087.5,63.8 L2089.5,63.6 L2091.5,63.5 L2093.5,63.3 L2095.5,63.2 L2097.5,63.0 L2099.5,62.9 L2101.5,62.8 L2103.5,62.6 L2105.5,62.5 L2107.5,62.4 L2109.5,62.3 L2111.5,62.1 L2113.5,62.0 L2115.5,61.9 L2117.5,61.8 L2119.5,61.7 L2121.5,61.6 L2123.5,61.5 L2125.5,61.4 L2127.5,61.3 L2129.5,61.2 L2131.5,61.1 L2133.5,61.0 L2135.5,60.9 L2137.5,60.8 L2139.5,60.7 L2141.5,60.6 L2143.5,60.6 L2145.5,60.5 L2147.5,60.4 L2149.5,60.3 L2151.5,60.3 L2153.5,60.2 L2155.5,60.1 L2157.5,60.1 L2159.5,60.0 L2161.5,59.9 L2163.5,59.9 L2165.5,59.8 L2167.5,59.8 L2169.5,59.7 L2171.5,59.7 L2173.5,59.6 L2175.5,59.6 L2177.5,59.5 L2179.5,59.5 L2181.5,59.4 L2183.5,59.4 L2185.5,59.3 L2187.5,59.3 L2189.5,59.2 L2191.5,59.2 L2193.5,59.1 L2195.5,59.1 L2197.5,59.1 L2199.5,59.0 L2201.5,59.0 L2203.5,58.9 L2205.5,58.9 L2207.5,58.9 L2209.5,58.8 L2211.5,58.8 L2213.5,58.7 L2215.5,58.7 L2217.5,58.7 L2219.5,58.6 L2221.5,58.6 L2223.5,58.6 L2225.5,58.5 L2227.5,58.5 L2229.5,58.4 L2231.5,58.4 L2233.5,58.4 L2235.5,58.3 L2237.5,58.3 L2239.5,58.2 L2241.5,58.2 L2243.5,58.2 L2245.5,58.1 L2247.5,58.1 L2249.5,58.0 L2251.5,58.0 L2253.5,57.9 L2255.5,57.9 L2257.5,57.8 L2259.5,57.8 L2261.5,57.7 L2263.5,57.7 L2265.5,57.6 L2267.5,57.6 L2269.5,57.5 L2271.5,57.4 L2273.5,57.4 L2275.5,57.3 L2277.5,57.3 L2279.5,57.2 L2281.5,57.1 L2283.5,57.1 L2285.5,57.0 L2287.5,56.9 L2289.5,56.8 L2291.5,56.8 L2293.5,56.7 L2295.5,56.6 L2297.5,56.5 L2299.5,56.4 L2301.5,56.4 L2303.5,56.3 L2305.5,56.2 L2307.5,56.1 L2309.5,56.0 L2311.5,55.9 L2313.5,55.8 L2315.5,55.7 L2317.5,55.6 L2319.5,55.4 L2321.5,55.3 L2323.5,55.2 L2325.5,55.1 L2327.5,55.0 L2329.5,54.8 L2331.5,54.7 L2333.5,54.6 L2335.5,54.5 L2337.5,54.5 L2339.5,54.5 L2341.5,54.5 L2343.5,54.5 L2345.5,54.5 L2347.5,54.5 L2349.5,54.5 L2351.5,54.5" fill="none" stroke="#ff0000" stroke-width="4" stroke-linejoin="round"/>
<path d="M1667.5,416.2 L1669.5,412.4 L1671.5,408.6 L1673.5,404.9 L1675.5,401.2 L1677.5,397.6 L1679.5,394.0 L1681.5,390.4 L1683.5,386.9 L1685.5,383.4 L1687.5,380.0 L1689.5,376.6 L1691.5,373.2 L1693.5,369.9 L1695.5,366.6 L1697.5,363.3 L1699.5,360.0 L1701.5,356.8 L1703.5,353.6 L1705.5,350.4 L1707.5,347.2 L1709.5,344.0 L1711.5,340.9 L1713.5,337.8 L1715.5,334.7 L1717.5,331.6 L1719.5,328.5 L1721.5,325.4 L1723.5,322.3 L1725.5,319.2 L1727.5,316.2 L1729.5,313.1 L1731.5,310.0 L1733.5,307.0 L1735.5,303.9 L1737.5,300.8 L1739.5,297.7 L1741.5,294.6 L1743.5,291.5 L1745.5,288.4 L1747.5,285.3 L1749.5,282.1 L1751.5,279.0 L1753.5,275.9 L1755.5,272.8 L1757.5,269.6 L1759.5,266.5 L1761.5,263.4 L1763.5,260.3 L1765.5,257.2 L1767.5,254.2 L1769.5,251.1 L1771.5,248.1 L1773.5,245.0 L1775.5,242.0 L1777.5,239.0 L1779.5,236.1 L1781.5,233.2 L1783.5,230.3 L1785.5,227.4 L1787.5,224.6 L1789.5,221.8 L1791.5,219.1 L1793.5,216.5 L1795.5,213.9 L1797.5,211.4 L1799.5,209.0 L1801.5,206.6 L1803.5,204.3 L1805.5,202.0 L1807.5,199.8 L1809.5,197.7 L1811.5,195.6 L1813.5,193.5 L1815.5,191.5 L1817.5,189.5 L1819.5,187.6 L1821.5,185.7 L1823.5,183.9 L1825.5,182.1 L1827.5,180.3 L1829.5,178.6 L1831.5,176.9 L1833.5,175.2 L1835.5,173.6 L1837.5,172.0 L1839.5,170.4 L1841.5,168.8 L1843.5,167.3 L1845.5,165.7 L1847.5,164.2 L1849.5,162.7 L1851.5,161.2 L1853.5,159.8 L1855.5,158.4 L1857.5,156.9 L1859.5,155.5 L1861.5,154.2 L1863.5,152.8 L1865.5,151.5 L1867.5,150.1 L1869.5,148.8 L1871.5,147.6 L1873.5,146.3 L1875.5,145.0 L1877.5,143.8 L1879.5,142.6 L1881.5,141.4 L1883.5,140.2 L1885.5,139.0 L1887.5,137.9 L1889.5,136.7 L1891.5,135.6 L1893.5,134.5 L1895.5,133.4 L1897.5,132.3 L1899.5,131.3 L1901.5,130.2 L1903.5,129.2 L1905.5,128.2 L1907.5,127.2 L1909.5,126.2 L1911.5,125.2 L1913.5,124.2 L1915.5,123.3 L1917.5,122.3 L1919.5,121.4 L1921.5,120.5 L1923.5,119.6 L1925.5,118.7 L1927.5,117.8 L1929.5,117.0 L1931.5,116.1 L1933.5,115.3 L1935.5,114.4 L1937.5,113.6 L1939.5,112.8 L1941.5,112.0 L1943.5,111.2 L1945.5,110.4 L1947.5,109.7 L1949.5,108.9 L1951.5,108.1 L1953.5,107.4 L1955.5,106.7 L1957.5,105.9 L1959.5,105.2 L1961.5,104.5 L1963.5,103.8 L1965.5,103.1 L1967.5,102.4 L1969.5,101.8 L1971.5,101.1 L1973.5,100.4 L1975.5,99.8 L1977.5,99.1 L1979.5,98.5 L1981.5,97.9 L1983.5,97.2 L1985.5,96.6 L1987.5,96.0 L1989.5,95.4 L1991.5,94.8 L1993.5,94.2 L1995.5,93.6 L1997.5,93.0 L1999.5,92.5 L2001.5,91.9 L2003.5,91.3 L2005.5,90.8 L2007.5,90.2 L2009.5,89.7 L2011.5,89.1 L2013.5,88.6 L2015.5,88.1 L2017.5,87.6 L2019.5,87.0 L2021.5,86.5 L2023.5,86.0 L2025.5,85.5 L2027.5,85.0 L2029.5,84.6 L2031.5,84.1 L2033.5,83.6 L2035.5,83.1 L2037.5,82.7 L2039.5,82.2 L2041.5,81.8 L2043.5,81.3 L2045.5,80.9 L2047.5,80.5 L2049.5,80.0 L2051.5,79.6 L2053.5,79.2 L2055.5,78.8 L2057.5,78.4 L2059.5,78.0 L2061.5,77.6 L2063.5,77.2 L2065.5,76.8 L2067.5,76.4 L2069.5,76.1 L2071.5,75.7 L2073.5,75.3 L2075.5,75.0 L2077.5,74.6 L2079.5,74.3 L2081.5,73.9 L2083.5,73.6 L2085.5,73.2 L2087.5,72.9 L2089.5,72.6 L2091.5,72.3 L2093.5,71.9 L2095.5,71.6 L2097.5,71.3 L2099.5,71.0 L2101.5,70.7 L2103.5,70.4 L2105.5,70.1 L2107.5,69.9 L2109.5,69.6 L2111.5,69.3 L2113.5,69.0 L2115.5,68.8 L2117.5,68.5 L2119.5,68.2 L2121.5,68.0 L2123.5,67.7 L2125.5,67.5 L2127.5,67.2 L2129.5,67.0 L2131.5,66.8 L2133.5,66.5 L2135.5,66.3 L2137.5,66.1 L2139.5,65.9 L2141.5,65.6 L2143.5,65.4 L2145.5,65.2 L2147.5,65.0 L2149.5,64.8 L2151.5,64.6 L2153.5,64.4 L2155.5,64.2 L2157.5,64.0 L2159.5,63.8 L2161.5,63.6 L2163.5,63.5 L2165.5,63.3 L2167.5,63.1 L2169.5,62.9 L2171.5,62.8 L2173.5,62.6 L2175.5,62.5 L2177.5,62.3 L2179.5,62.1 L2181.5,62.0 L2183.5,61.8 L2185.5,61.7 L2187.5,61.5 L2189.5,61.4 L2191.5,61.3 L2193.5,61.1 L2195.5,61.0 L2197.5,60.8 L2199.5,60.7 L2201.5,60.6 L2203.5,60.5 L2205.5,60.3 L2207.5,60.2 L2209.5,60.1 L2211.5,60.0 L2213.5,59.9 L2215.5,59.8 L2217.5,59.6 L2219.5,59.5 L2221.5,59.4 L2223.5,59.3 L2225.5,59.2 L2227.5,59.1 L2229.5,59.0 L2231.5,58.9 L2233.5,58.8 L2235.5,58.7 L2237.5,58.6 L2239.5,58.5 L2241.5,58.5 L2243.5,58.4 L2245.5,58.3 L2247.5,58.2 L2249.5,58.1 L2251.5,58.0 L2253.5,57.9 L2255.5,57.9 L2257.5,57.8 L2259.5,57.7 L2261.5,57.6 L2263.5,57.5 L2265.5,57.5 L2267.5,57.4 L2269.5,57.3 L2271.5,57.2 L2273.5,57.2 L2275.5,57.1 L2277.5,57.0 L2279.5,57.0 L2281.5,56.9 L2283.5,56.8 L2285.5,56.8 L2287.5,56.7 L2289.5,56.6 L2291.5,56.6 L2293.5,56.5 L2295.5,56.4 L2297.5,56.4 L2299.5,56.3 L2301.5,56.2 L2303.5,56.2 L2305.5,56.1 L2307.5,56.0 L2309.5,56.0 L2311.5,55.9 L2313.5,55.8 L2315.5,55.8 L2317.5,55.7 L2319.5,55.6 L2321.5,55.6 L2323.5,55.5 L2325.5,55.4 L2327.5,55.4 L2329.5,55.3 L2331.5,55.2 L2333.5,55.2 L2335.5,55.1 L2337.5,55.0 L2339.5,55.0 L2341.5,54.9 L2343.5,54.8 L2345.5,54.8 L2347.5,54.7 L2349.5,54.6 L2351.5,54.5" fill="none" stroke="#0000ff" stroke-width="4" stroke-linejoin="round"/>
<path d="M1667.5,600.7 L1669.5,596.3 L1671.5,592.0 L1673.5,587.6 L1675.5,583.3 L1677.5,578.9 L1679.5,574.6 L1681.5,570.3 L1683.5,565.9 L1685.5,561.6 L1687.5,557.4 L1689.5,553.1 L1691.5,548.8 L1693.5,544.5 L1695.5,540.3 L1697.5,536.1 L1699.5,531.8 L1701.5,527.6 L1703.5,523.4 L1705.5,519.3 L1707.5,515.1 L1709.5,510.9 L1711.5,506.8 L1713.5,502.7 L1715.5,498.5 L1717.5,494.4 L1719.5,490.3 L1721.5,486.3 L1723.5,482.2 L1725.5,478.2 L1727.5,474.2 L1729.5,470.1 L1731.5,466.1 L1733.5,462.2 L1735.5,458.2 L1737.5,454.3 L1739.5,450.3 L1741.5,446.4 L1743.5,442.5 L1745.5,438.7 L1747.5,434.8 L1749.5,431.0 L1751.5,427.2 L1753.5,423.4 L1755.5,419.6 L1757.5,415.8 L1759.5,412.1 L1761.5,408.4 L1763.5,404.7 L1765.5,401.0 L1767.5,397.3 L1769.5,393.7 L1771.5,390.1 L1773.5,386.5 L1775.5,382.9 L1777.5,379.4 L1779.5,375.8 L1781.5,372.3 L1783.5,368.9 L1785.5,365.4 L1787.5,362.0 L1789.5,358.5 L1791.5,355.2 L1793.5,351.8 L1795.5,348.5 L1797.5,345.1 L1799.5,341.8 L1801.5,338.6 L1803.5,335.3 L1805.5,332.1 L1807.5,328.9 L1809.5,325.7 L1811.5,322.6 L1813.5,319.5 L1815.5,316.4 L1817.5,313.3 L1819.5,310.3 L1821.5,307.3 L1823.5,304.3 L1825.5,301.3 L1827.5,298.4 L1829.5,295.5 L1831.5,292.6 L1833.5,289.7 L1835.5,286.9 L1837.5,284.1 L1839.5,281.4 L1841.5,278.6 L1843.5,275.9 L1845.5,273.2 L1847.5,270.6 L1849.5,267.9 L1851.5,265.3 L1853.5,262.8 L1855.5,260.2 L1857.5,257.7 L1859.5,255.2 L1861.5,252.8 L1863.5,250.4 L1865.5,247.9 L1867.5,245.6 L1869.5,243.2 L1871.5,240.9 L1873.5,238.6 L1875.5,236.4 L1877.5,234.1 L1879.5,231.9 L1881.5,229.7 L1883.5,227.6 L1885.5,225.4 L1887.5,223.3 L1889.5,221.3 L1891.5,219.2 L1893.5,217.2 L1895.5,215.2 L1897.5,213.2 L1899.5,211.3 L1901.5,209.4 L1903.5,207.5 L1905.5,205.6 L1907.5,203.7 L1909.5,201.9 L1911.5,200.1 L1913.5,198.3 L1915.5,196.6 L1917.5,194.8 L1919.5,193.1 L1921.5,191.4 L1923.5,189.7 L1925.5,188.1 L1927.5,186.4 L1929.5,184.8 L1931.5,183.2 L1933.5,181.7 L1935.5,180.1 L1937.5,178.6 L1939.5,177.1 L1941.5,175.6 L1943.5,174.1 L1945.5,172.6 L1947.5,171.2 L1949.5,169.8 L1951.5,168.4 L1953.5,167.0 L1955.5,165.6 L1957.5,164.3 L1959.5,162.9 L1961.5,161.6 L1963.5,160.3 L1965.5,159.0 L1967.5,157.7 L1969.5,156.4 L1971.5,155.2 L1973.5,153.9 L1975.5,152.7 L1977.5,151.5 L1979.5,150.3 L1981.5,149.1 L1983.5,148.0 L1985.5,146.8 L1987.5,145.6 L1989.5,144.5 L1991.5,143.4 L1993.5,142.3 L1995.5,141.2 L1997.5,140.1 L1999.5,139.0 L2001.5,137.9 L2003.5,136.8 L2005.5,135.8 L2007.5,134.7 L2009.5,133.7 L2011.5,132.7 L2013.5,131.7 L2015.5,130.7 L2017.5,129.7 L2019.5,128.7 L2021.5,127.7 L2023.5,126.7 L2025.5,125.7 L2027.5,124.8 L2029.5,123.8 L2031.5,122.9 L2033.5,122.0 L2035.5,121.1 L2037.5,120.1 L2039.5,119.2 L2041.5,118.3 L2043.5,117.5 L2045.5,116.6 L2047.5,115.7 L2049.5,114.8 L2051.5,114.0 L2053.5,113.1 L2055.5,112.3 L2057.5,111.5 L2059.5,110.6 L2061.5,109.8 L2063.5,109.0 L2065.5,108.2 L2067.5,107.4 L2069.5,106.6 L2071.5,105.8 L2073.5,105.1 L2075.5,104.3 L2077.5,103.5 L2079.5,102.8 L2081.5,102.0 L2083.5,101.3 L2085.5,100.6 L2087.5,99.8 L2089.5,99.1 L2091.5,98.4 L2093.5,97.7 L2095.5,97.0 L2097.5,96.3 L2099.5,95.6 L2101.5,95.0 L2103.5,94.3 L2105.5,93.6 L2107.5,92.9 L2109.5,92.3 L2111.5,91.6 L2113.5,91.0 L2115.5,90.4 L2117.5,89.7 L2119.5,89.1 L2121.5,88.5 L2123.5,87.9 L2125.5,87.3 L2127.5,86.7 L2129.5,86.1 L2131.5,85.5 L2133.5,84.9 L2135.5,84.3 L2137.5,83.7 L2139.5,83.2 L2141.5,82.6 L2143.5,82.1 L2145.5,81.5 L2147.5,81.0 L2149.5,80.4 L2151.5,79.9 L2153.5,79.4 L2155.5,78.9 L2157.5,78.4 L2159.5,77.9 L2161.5,77.4 L2163.5,76.9 L2165.5,76.4 L2167.5,75.9 L2169.5,75.4 L2171.5,75.0 L2173.5,74.5 L2175.5,74.0 L2177.5,73.6 L2179.5,73.1 L2181.5,72.7 L2183.5,72.3 L2185.5,71.8 L2187.5,71.4 L2189.5,71.0 L2191.5,70.6 L2193.5,70.2 L2195.5,69.8 L2197.5,69.4 L2199.5,69.0 L2201.5,68.6 L2203.5,68.2 L2205.5,67.9 L2207.5,67.5 L2209.5,67.1 L2211.5,66.8 L2213.5,66.4 L2215.5,66.1 L2217.5,65.8 L2219.5,65.4 L2221.5,65.1 L2223.5,64.8 L2225.5,64.5 L2227.5,64.2 L2229.5,63.9 L2231.5,63.6 L2233.5,63.3 L2235.5,63.0 L2237.5,62.7 L2239.5,62.5 L2241.5,62.2 L2243.5,61.9 L2245.5,61.7 L2247.5,61.4 L2249.5,61.2 L2251.5,60.9 L2253.5,60.7 L2255.5,60.5 L2257.5,60.3 L2259.5,60.0 L2261.5,59.8 L2263.5,59.6 L2265.5,59.4 L2267.5,59.2 L2269.5,59.0 L2271.5,58.9 L2273.5,58.7 L2275.5,58.5 L2277.5,58.3 L2279.5,58.2 L2281.5,58.0 L2283.5,57.9 L2285.5,57.7 L2287.5,57.6 L2289.5,57.4 L2291.5,57.3 L2293.5,57.2 L2295.5,57.1 L2297.5,57.0 L2299.5,56.9 L2301.5,56.8 L2303.5,56.7 L2305.5,56.6 L2307.5,56.5 L2309.5,56.4 L2311.5,56.3 L2313.5,56.3 L2315.5,56.2 L2317.5,56.1 L2319.5,56.1 L2321.5,56.0 L2323.5,56.0 L2325.5,56.0 L2327.5,55.9 L2329.5,55.9 L2331.5,55.9 L2333.5,55.9 L2335.5,55.9 L2337.5,55.9 L2339.5,55.9 L2341.5,55.9 L2343.5,55.9 L2345.5,55.9 L2347.5,55.9 L2349.5,55.9 L2351.5,56.0" fill="none" stroke="#ff00ff" stroke-width="4" stroke-linejoin="round"/>
<path d="M1667.5,532.6 L1669.5,529.1 L1671.5,525.7 L1673.5,522.2 L1675.5,518.7 L1677.5,515.2 L1679.5,511.7 L1681.5,508.2 L1683.5,504.7 L1685.5,501.1 L1687.5,497.6 L1689.5,494.0 L1691.5,490.5 L1693.5,486.9 L1695.5,483.3 L1697.5,479.7 L1699.5,476.1 L1701.5,472.5 L1703.5,468.9 L1705.5,465.3 L1707.5,461.6 L1709.5,458.0 L1711.5,454.4 L1713.5,450.8 L1715.5,447.2 L1717.5,443.6 L1719.5,440.0 L1721.5,436.3 L1723.5,432.7 L1725.5,429.2 L1727.5,425.6 L1729.5,422.0 L1731.5,418.4 L1733.5,414.8 L1735.5,411.3 L1737.5,407.7 L1739.5,404.2 L1741.5,400.7 L1743.5,397.2 L1745.5,393.7 L1747.5,390.2 L1749.5,386.8 L1751.5,383.3 L1753.5,379.9 L1755.5,376.5 L1757.5,373.1 L1759.5,369.7 L1761.5,366.4 L1763.5,363.0 L1765.5,359.7 L1767.5,356.5 L1769.5,353.2 L1771.5,350.0 L1773.5,346.8 L1775.5,343.6 L1777.5,340.4 L1779.5,337.3 L1781.5,334.2 L1783.5,331.2 L1785.5,328.1 L1787.5,325.1 L1789.5,322.2 L1791.5,319.2 L1793.5,316.3 L1795.5,313.5 L1797.5,310.6 L1799.5,307.8 L1801.5,305.1 L1803.5,302.3 L1805.5,299.6 L1807.5,296.9 L1809.5,294.3 L1811.5,291.7 L1813.5,289.1 L1815.5,286.5 L1817.5,284.0 L1819.5,281.5 L1821.5,279.0 L1823.5,276.6 L1825.5,274.2 L1827.5,271.8 L1829.5,269.4 L1831.5,267.1 L1833.5,264.7 L1835.5,262.5 L1837.5,260.2 L1839.5,258.0 L1841.5,255.7 L1843.5,253.6 L1845.5,251.4 L1847.5,249.3 L1849.5,247.1 L1851.5,245.1 L1853.5,243.0 L1855.5,240.9 L1857.5,238.9 L1859.5,236.9 L1861.5,234.9 L1863.5,233.0 L1865.5,231.0 L1867.5,229.1 L1869.5,227.2 L1871.5,225.3 L1873.5,223.5 L1875.5,221.7 L1877.5,219.8 L1879.5,218.0 L1881.5,216.3 L1883.5,214.5 L1885.5,212.7 L1887.5,211.0 L1889.5,209.3 L1891.5,207.6 L1893.5,205.9 L1895.5,204.3 L1897.5,202.6 L1899.5,201.0 L1901.5,199.4 L1903.5,197.8 L1905.5,196.2 L1907.5,194.6 L1909.5,193.1 L1911.5,191.5 L1913.5,190.0 L1915.5,188.5 L1917.5,187.0 L1919.5,185.5 L1921.5,184.0 L1923.5,182.5 L1925.5,181.1 L1927.5,179.6 L1929.5,178.2 L1931.5,176.8 L1933.5,175.4 L1935.5,174.0 L1937.5,172.6 L1939.5,171.3 L1941.5,169.9 L1943.5,168.6 L1945.5,167.3 L1947.5,166.0 L1949.5,164.7 L1951.5,163.4 L1953.5,162.1 L1955.5,160.9 L1957.5,159.6 L1959.5,158.4 L1961.5,157.2 L1963.5,155.9 L1965.5,154.7 L1967.5,153.6 L1969.5,152.4 L1971.5,151.2 L1973.5,150.1 L1975.5,148.9 L1977.5,147.8 L1979.5,146.7 L1981.5,145.6 L1983.5,144.5 L1985.5,143.4 L1987.5,142.3 L1989.5,141.3 L1991.5,140.2 L1993.5,139.2 L1995.5,138.1 L1997.5,137.1 L1999.5,136.1 L2001.5,135.1 L2003.5,134.1 L2005.5,133.1 L2007.5,132.2 L2009.5,131.2 L2011.5,130.3 L2013.5,129.3 L2015.5,128.4 L2017.5,127.5 L2019.5,126.6 L2021.5,125.7 L2023.5,124.8 L2025.5,123.9 L2027.5,123.0 L2029.5,122.2 L2031.5,121.3 L2033.5,120.5 L2035.5,119.7 L2037.5,118.8 L2039.5,118.0 L2041.5,117.2 L2043.5,116.4 L2045.5,115.6 L2047.5,114.9 L2049.5,114.1 L2051.5,113.3 L2053.5,112.6 L2055.5,111.8 L2057.5,111.1 L2059.5,110.4 L2061.5,109.7 L2063.5,109.0 L2065.5,108.3 L2067.5,107.6 L2069.5,106.9 L2071.5,106.2 L2073.5,105.5 L2075.5,104.9 L2077.5,104.2 L2079.5,103.6 L2081.5,103.0 L2083.5,102.3 L2085.5,101.7 L2087.5,101.1 L2089.5,100.5 L2091.5,99.9 L2093.5,99.3 L2095.5,98.7 L2097.5,98.1 L2099.5,97.6 L2101.5,97.0 L2103.5,96.4 L2105.5,95.9 L2107.5,95.3 L2109.5,94.8 L2111.5,94.3 L2113.5,93.7 L2115.5,93.2 L2117.5,92.7 L2119.5,92.2 L2121.5,91.7 L2123.5,91.2 L2125.5,90.7 L2127.5,90.2 L2129.5,89.8 L2131.5,89.3 L2133.5,88.8 L2135.5,88.4 L2137.5,87.9 L2139.5,87.5 L2141.5,87.0 L2143.5,86.6 L2145.5,86.2 L2147.5,85.7 L2149.5,85.3 L2151.5,84.9 L2153.5,84.5 L2155.5,84.1 L2157.5,83.7 L2159.5,83.3 L2161.5,82.9 L2163.5,82.5 L2165.5,82.1 L2167.5,81.8 L2169.5,81.4 L2171.5,81.0 L2173.5,80.7 L2175.5,80.3 L2177.5,79.9 L2179.5,79.6 L2181.5,79.2 L2183.5,78.9 L2185.5,78.6 L2187.5,78.2 L2189.5,77.9 L2191.5,77.6 L2193.5,77.2 L2195.5,76.9 L2197.5,76.6 L2199.5,76.3 L2201.5,76.0 L2203.5,75.7 L2205.5,75.3 L2207.5,75.0 L2209.5,74.7 L2211.5,74.4 L2213.5,74.2 L2215.5,73.9 L2217.5,73.6 L2219.5,73.3 L2221.5,73.0 L2223.5,72.7 L2225.5,72.4 L2227.5,72.2 L2229.5,71.9 L2231.5,71.6 L2233.5,71.4 L2235.5,71.1 L2237.5,70.8 L2239.5,70.6 L2241.5,70.3 L2243.5,70.0 L2245.5,69.8 L2247.5,69.5 L2249.5,69.3 L2251.5,69.0 L2253.5,68.8 L2255.5,68.5 L2257.5,68.3 L2259.5,68.0 L2261.5,67.8 L2263.5,67.5 L2265.5,67.3 L2267.5,67.0 L2269.5,66.8 L2271.5,66.6 L2273.5,66.3 L2275.5,66.1 L2277.5,65.8 L2279.5,65.6 L2281.5,65.3 L2283.5,65.1 L2285.5,64.9 L2287.5,64.6 L2289.5,64.4 L2291.5,64.1 L2293.5,63.9 L2295.5,63.7 L2297.5,63.4 L2299.5,63.2 L2301.5,62.9 L2303.5,62.7 L2305.5,62.5 L2307.5,62.2 L2309.5,62.0 L2311.5,61.7 L2313.5,61.5 L2315.5,61.3 L2317.5,61.0 L2319.5,60.8 L2321.5,60.5 L2323.5,60.3 L2325.5,60.0 L2327.5,59.8 L2329.5,59.5 L2331.5,59.3 L2333.5,59.0 L2335.5,58.7 L2337.5,58.5 L2339.5,58.2 L2341.5,58.0 L2343.5,57.7 L2345.5,57.4 L2347.5,57.2 L2349.5,56.9 L2351.5,56.6" fill="none" stroke="#008000" stroke-width="4" stroke-linejoin="round"/>
<path d="M1667.5,537.8 L1669.5,536.4 L1671.5,534.8 L1673.5,533.0 L1675.5,531.0 L1677.5,528.8 L1679.5,526.5 L1681.5,524.1 L1683.5,521.6 L1685.5,519.0 L1687.5,516.4 L1689.5,513.7 L1691.5,511.1 L1693.5,508.4 L1695.5,505.8 L1697.5,503.3 L1699.5,500.7 L1701.5,498.2 L1703.5,495.7 L1705.5,493.3 L1707.5,490.9 L1709.5,488.5 L1711.5,486.1 L1713.5,483.7 L1715.5,481.4 L1717.5,479.0 L1719.5,476.7 L1721.5,474.4 L1723.5,472.1 L1725.5,469.8 L1727.5,467.6 L1729.5,465.3 L1731.5,463.1 L1733.5,460.9 L1735.5,458.6 L1737.5,456.4 L1739.5,454.2 L1741.5,452.0 L1743.5,449.8 L1745.5,447.6 L1747.5,445.4 L1749.5,443.2 L1751.5,441.0 L1753.5,438.9 L1755.5,436.7 L1757.5,434.5 L1759.5,432.3 L1761.5,430.1 L1763.5,427.9 L1765.5,425.7 L1767.5,423.5 L1769.5,421.3 L1771.5,419.1 L1773.5,416.9 L1775.5,414.6 L1777.5,412.4 L1779.5,410.2 L1781.5,408.0 L1783.5,405.8 L1785.5,403.5 L1787.5,401.3 L1789.5,399.1 L1791.5,396.9 L1793.5,394.7 L1795.5,392.4 L1797.5,390.2 L1799.5,388.0 L1801.5,385.8 L1803.5,383.6 L1805.5,381.4 L1807.5,379.2 L1809.5,377.1 L1811.5,374.9 L1813.5,372.7 L1815.5,370.6 L1817.5,368.4 L1819.5,366.3 L1821.5,364.2 L1823.5,362.1 L1825.5,360.0 L1827.5,357.9 L1829.5,355.8 L1831.5,353.7 L1833.5,351.6 L1835.5,349.6 L1837.5,347.5 L1839.5,345.5 L1841.5,343.4 L1843.5,341.4 L1845.5,339.4 L1847.5,337.4 L1849.5,335.3 L1851.5,333.3 L1853.5,331.3 L1855.5,329.3 L1857.5,327.3 L1859.5,325.4 L1861.5,323.4 L1863.5,321.4 L1865.5,319.4 L1867.5,317.4 L1869.5,315.5 L1871.5,313.5 L1873.5,311.5 L1875.5,309.6 L1877.5,307.6 L1879.5,305.6 L1881.5,303.7 L1883.5,301.7 L1885.5,299.7 L1887.5,297.8 L1889.5,295.8 L1891.5,293.9 L1893.5,291.9 L1895.5,289.9 L1897.5,288.0 L1899.5,286.0 L1901.5,284.0 L1903.5,282.0 L1905.5,280.1 L1907.5,278.1 L1909.5,276.1 L1911.5,274.1 L1913.5,272.1 L1915.5,270.1 L1917.5,268.1 L1919.5,266.1 L1921.5,264.1 L1923.5,262.1 L1925.5,260.1 L1927.5,258.1 L1929.5,256.1 L1931.5,254.1 L1933.5,252.1 L1935.5,250.1 L1937.5,248.1 L1939.5,246.2 L1941.5,244.2 L1943.5,242.2 L1945.5,240.2 L1947.5,238.3 L1949.5,236.3 L1951.5,234.3 L1953.5,232.4 L1955.5,230.4 L1957.5,228.5 L1959.5,226.6 L1961.5,224.7 L1963.5,222.8 L1965.5,220.9 L1967.5,219.0 L1969.5,217.1 L1971.5,215.2 L1973.5,213.4 L1975.5,211.5 L1977.5,209.7 L1979.5,207.9 L1981.5,206.1 L1983.5,204.3 L1985.5,202.5 L1987.5,200.8 L1989.5,199.0 L1991.5,197.3 L1993.5,195.6 L1995.5,193.9 L1997.5,192.2 L1999.5,190.6 L2001.5,188.9 L2003.5,187.3 L2005.5,185.7 L2007.5,184.1 L2009.5,182.5 L2011.5,181.0 L2013.5,179.4 L2015.5,177.9 L2017.5,176.3 L2019.5,174.8 L2021.5,173.3 L2023.5,171.8 L2025.5,170.3 L2027.5,168.8 L2029.5,167.4 L2031.5,165.9 L2033.5,164.4 L2035.5,163.0 L2037.5,161.6 L2039.5,160.1 L2041.5,158.7 L2043.5,157.3 L2045.5,155.8 L2047.5,154.4 L2049.5,153.0 L2051.5,151.6 L2053.5,150.2 L2055.5,148.8 L2057.5,147.4 L2059.5,145.9 L2061.5,144.5 L2063.5,143.1 L2065.5,141.7 L2067.5,140.3 L2069.5,138.9 L2071.5,137.5 L2073.5,136.0 L2075.5,134.6 L2077.5,133.2 L2079.5,131.7 L2081.5,130.3 L2083.5,128.8 L2085.5,127.4 L2087.5,125.9 L2089.5,124.5 L2091.5,123.0 L2093.5,121.5 L2095.5,120.1 L2097.5,118.6 L2099.5,117.1 L2101.5,115.7 L2103.5,114.2 L2105.5,112.7 L2107.5,111.3 L2109.5,109.8 L2111.5,108.4 L2113.5,106.9 L2115.5,105.5 L2117.5,104.1 L2119.5,102.7 L2121.5,101.3 L2123.5,99.9 L2125.5,98.5 L2127.5,97.1 L2129.5,95.8 L2131.5,94.5 L2133.5,93.1 L2135.5,91.8 L2137.5,90.5 L2139.5,89.3 L2141.5,88.0 L2143.5,86.8 L2145.5,85.6 L2147.5,84.4 L2149.5,83.2 L2151.5,82.1 L2153.5,81.0 L2155.5,79.9 L2157.5,78.8 L2159.5,77.8 L2161.5,76.8 L2163.5,75.8 L2165.5,74.8 L2167.5,73.9 L2169.5,73.0 L2171.5,72.2 L2173.5,71.3 L2175.5,70.5 L2177.5,69.7 L2179.5,69.0 L2181.5,68.3 L2183.5,67.6 L2185.5,66.9 L2187.5,66.3 L2189.5,65.6 L2191.5,65.0 L2193.5,64.5 L2195.5,63.9 L2197.5,63.4 L2199.5,62.9 L2201.5,62.4 L2203.5,61.9 L2205.5,61.5 L2207.5,61.1 L2209.5,60.7 L2211.5,60.3 L2213.5,59.9 L2215.5,59.6 L2217.5,59.3 L2219.5,59.0 L2221.5,58.7 L2223.5,58.4 L2225.5,58.2 L2227.5,57.9 L2229.5,57.7 L2231.5,57.5 L2233.5,57.3 L2235.5,57.1 L2237.5,57.0 L2239.5,56.8 L2241.5,56.7 L2243.5,56.5 L2245.5,56.4 L2247.5,56.3 L2249.5,56.2 L2251.5,56.1 L2253.5,56.1 L2255.5,56.0 L2257.5,55.9 L2259.5,55.9 L2261.5,55.9 L2263.5,55.8 L2265.5,55.8 L2267.5,55.8 L2269.5,55.8 L2271.5,55.8 L2273.5,55.7 L2275.5,55.8 L2277.5,55.8 L2279.5,55.8 L2281.5,55.8 L2283.5,55.8 L2285.5,55.8 L2287.5,55.8 L2289.5,55.9 L2291.5,55.9 L2293.5,55.9 L2295.5,55.9 L2297.5,55.9 L2299.5,56.0 L2301.5,56.0 L2303.5,56.0 L2305.5,56.0 L2307.5,56.0 L2309.5,56.0 L2311.5,56.0 L2313.5,56.0 L2315.5,56.0 L2317.5,56.0 L2319.5,56.0 L2321.5,56.0 L2323.5,55.9 L2325.5,55.9 L2327.5,55.8 L2329.5,55.8 L2331.5,55.7 L2333.5,55.7 L2335.5,55.6 L2337.5,55.5 L2339.5,55.4 L2341.5,55.3 L2343.5,55.1 L2345.5,55.0 L2347.5,54.8 L2349.5,54.7 L2351.5,54.5" fill="none" stroke="#000000" stroke-width="4" stroke-linejoin="round"/>
<rect x="1667.5" y="54.5" width="686.0" height="556.0" fill="none" stroke="#000" stroke-width="3"/>
<line x1="1667.5" y1="54.5" x2="1678.5" y2="54.5" stroke="#000" stroke-width="3"/>
<line x1="1667.5" y1="122.5" x2="1673.0" y2="122.5" stroke="#000" stroke-width="3"/>
<line x1="1667.5" y1="190.5" x2="1678.5" y2="190.5" stroke="#000" stroke-width="3"/>
<line x1="1667.5" y1="258.5" x2="1673.0" y2="258.5" stroke="#000" stroke-width="3"/>
<line x1="1667.5" y1="326.5" x2="1678.5" y2="326.5" stroke="#000" stroke-width="3"/>
<line x1="1667.5" y1="394.5" x2="1673.0" y2="394.5" stroke="#000" stroke-width="3"/>
<line x1="1667.5" y1="462.5" x2="1678.5" y2="462.5" stroke="#000" stroke-width="3"/>
<line x1="1667.5" y1="530.5" x2="1673.0" y2="530.5" stroke="#000" stroke-width="3"/>
<line x1="1667.5" y1="598.5" x2="1678.5" y2="598.5" stroke="#000" stroke-width="3"/>
<line x1="1667.5" y1="610.5" x2="1667.5" y2="599.5" stroke="#000" stroke-width="3"/>
<line x1="1753.2" y1="610.5" x2="1753.2" y2="605.0" stroke="#000" stroke-width="3"/>
<line x1="1839.0" y1="610.5" x2="1839.0" y2="599.5" stroke="#000" stroke-width="3"/>
<line x1="1924.8" y1="610.5" x2="1924.8" y2="605.0" stroke="#000" stroke-width="3"/>
<line x1="2010.5" y1="610.5" x2="2010.5" y2="599.5" stroke="#000" stroke-width="3"/>
<line x1="2096.2" y1="610.5" x2="2096.2" y2="605.0" stroke="#000" stroke-width="3"/>
<line x1="2182.0" y1="610.5" x2="2182.0" y2="599.5" stroke="#000" stroke-width="3"/>
<line x1="2267.8" y1="610.5" x2="2267.8" y2="605.0" stroke="#000" stroke-width="3"/>
<line x1="2353.5" y1="610.5" x2="2353.5" y2="599.5" stroke="#000" stroke-width="3"/>
<text x="1656.0" y="65.0" font-family="'Liberation Serif','Times New Roman',serif" font-size="31.0" font-weight="bold" fill="#000" text-anchor="end" >0</text>
<text x="1656.0" y="201.0" font-family="'Liberation Serif','Times New Roman',serif" font-size="31.0" font-weight="bold" fill="#000" text-anchor="end" >-10</text>
<text x="1656.0" y="337.0" font-family="'Liberation Serif','Times New Roman',serif" font-size="31.0" font-weight="bold" fill="#000" text-anchor="end" >-20</text>
<text x="1656.0" y="473.0" font-family="'Liberation Serif','Times New Roman',serif" font-size="31.0" font-weight="bold" fill="#000" text-anchor="end" >-30</text>
<text x="1656.0" y="609.0" font-family="'Liberation Serif','Times New Roman',serif" font-size="31.0" font-weight="bold" fill="#000" text-anchor="end" >-40</text>
<text x="1667.5" y="647.5" font-family="'Liberation Serif','Times New Roman',serif" font-size="31.5" font-weight="bold" fill="#000" text-anchor="middle" >-0.3</text>
<text x="1839.0" y="647.5" font-family="'Liberation Serif','Times New Roman',serif" font-size="31.5" font-weight="bold" fill="#000" text-anchor="middle" >-0.2</text>
<text x="2010.5" y="647.5" font-family="'Liberation Serif','Times New Roman',serif" font-size="31.5" font-weight="bold" fill="#000" text-anchor="middle" >-0.1</text>
<text x="2182.0" y="647.5" font-family="'Liberation Serif','Times New Roman',serif" font-size="31.5" font-weight="bold" fill="#000" text-anchor="middle" >0.0</text>
<text x="2353.5" y="647.5" font-family="'Liberation Serif','Times New Roman',serif" font-size="31.5" font-weight="bold" fill="#000" text-anchor="middle" >0.1</text>
<text x="2018.0" y="684.0" font-family="'Liberation Serif','Times New Roman',serif" font-size="41.5" font-weight="bold" fill="#000" text-anchor="middle" textLength="242" lengthAdjust="spacingAndGlyphs">E (V) vs.RHE</text>
<text transform="translate(1602,335) rotate(-90)" font-family="'Liberation Serif','Times New Roman',serif" font-size="43.5" font-weight="bold" text-anchor="middle">J (mA/cm<tspan dy="-16" font-size="28">2</tspan><tspan dy="16">)</tspan></text>
<text x="1738.7" y="580.0" font-family="'Liberation Serif','Times New Roman',serif" font-size="30.5" font-weight="bold" fill="#ff8000" text-anchor="middle" >260</text>
<text x="1768.3" y="531.0" font-family="'Liberation Serif','Times New Roman',serif" font-size="30.5" font-weight="bold" fill="#ff0000" text-anchor="middle" >244</text>
<text x="1816.3" y="476.0" font-family="'Liberation Serif','Times New Roman',serif" font-size="30.5" font-weight="bold" fill="#0000ff" text-anchor="middle" >212</text>
<text x="1905.0" y="404.8" font-family="'Liberation Serif','Times New Roman',serif" font-size="30.5" font-weight="bold" fill="#008000" text-anchor="middle" >158</text>
<text x="1938.5" y="316.8" font-family="'Liberation Serif','Times New Roman',serif" font-size="30.5" font-weight="bold" fill="#ff00ff" text-anchor="middle" >149</text>
<text x="2002.3" y="291.7" font-family="'Liberation Serif','Times New Roman',serif" font-size="30.5" font-weight="bold" fill="#000000" text-anchor="middle" >106</text>
<line x1="2050" y1="335.2" x2="2107.5" y2="335.2" stroke="#000000" stroke-width="4.5"/>
<text x="2113.0" y="344.2" font-family="'Liberation Serif','Times New Roman',serif" font-size="41.0" font-weight="bold" fill="#000" text-anchor="start" >Pt/C</text>
<line x1="2050" y1="383.8" x2="2107.5" y2="383.8" stroke="#ff0000" stroke-width="4.5"/>
<text x="2113.0" y="392.8" font-family="'Liberation Serif','Times New Roman',serif" font-size="41.0" font-weight="bold" fill="#000" text-anchor="start" >WO<tspan dy="9" font-size="26">3</tspan><tspan dy="-9">/C</tspan></text>
<line x1="2050" y1="446.4" x2="2107.5" y2="446.4" stroke="#0000ff" stroke-width="4.5"/>
<text x="2113.0" y="455.4" font-family="'Liberation Serif','Times New Roman',serif" font-size="41.0" font-weight="bold" fill="#000" text-anchor="start" >1Pt@WO<tspan dy="9" font-size="26">3</tspan><tspan dy="-9">/C</tspan></text>
<line x1="2050" y1="509.0" x2="2107.5" y2="509.0" stroke="#ff00ff" stroke-width="4.5"/>
<text x="2113.0" y="518.0" font-family="'Liberation Serif','Times New Roman',serif" font-size="41.0" font-weight="bold" fill="#000" text-anchor="start" >2Pt@WO<tspan dy="9" font-size="26">3</tspan><tspan dy="-9">/C</tspan></text>
<line x1="2050" y1="571.0" x2="2107.5" y2="571.0" stroke="#008000" stroke-width="4.5"/>
<text x="2113.0" y="580.0" font-family="'Liberation Serif','Times New Roman',serif" font-size="41.0" font-weight="bold" fill="#000" text-anchor="start" >3Pt@WO<tspan dy="9" font-size="26">3</tspan><tspan dy="-9">/C</tspan></text>
<text x="1553.0" y="123.5" font-family="'Liberation Sans',Arial,sans-serif" font-size="67.0" font-weight="bold" fill="#000" text-anchor="start" >(c)</text>
<line x1="1356" y1="754.6" x2="1536" y2="754.6" stroke="#222" stroke-width="2.2" stroke-dasharray="6,5.5"/>
<line x1="1357" y1="796.6" x2="1500" y2="796.6" stroke="#ff1010" stroke-width="2.2" stroke-dasharray="6,5.5"/>
<line x1="929" y1="1188" x2="1043" y2="1188" stroke="#222" stroke-width="2.2" stroke-dasharray="6,5.5"/>
<line x1="1150" y1="1188" x2="1321" y2="1188" stroke="#222" stroke-width="2.2" stroke-dasharray="6,5.5"/>
<line x1="940" y1="1178.8" x2="1043" y2="1178.8" stroke="#ff1010" stroke-width="2.2" stroke-dasharray="6,5.5"/>
<line x1="1150" y1="1178.8" x2="1299" y2="1178.8" stroke="#ff1010" stroke-width="2.2" stroke-dasharray="6,5.5"/>
<line x1="933.1" y1="880.0" x2="933.1" y2="1182.0" stroke="#333" stroke-width="1.6"/><path d="M933.1,874.0 L930.4,885.0 L935.9,885.0 Z" fill="#333"/><path d="M933.1,1188.0 L930.4,1177.0 L935.9,1177.0 Z" fill="#333"/>
<line x1="939.9" y1="882.0" x2="939.9" y2="1172.8" stroke="#ff2020" stroke-width="1.6"/><path d="M939.9,876.0 L937.1,887.0 L942.6,887.0 Z" fill="#ff2020"/><path d="M939.9,1178.8 L937.1,1167.8 L942.6,1167.8 Z" fill="#ff2020"/>
<line x1="1299.6" y1="802.6" x2="1299.6" y2="1172.8" stroke="#ff2020" stroke-width="1.6"/><path d="M1299.6,796.6 L1296.8,807.6 L1302.3,807.6 Z" fill="#ff2020"/><path d="M1299.6,1178.8 L1296.8,1167.8 L1302.3,1167.8 Z" fill="#ff2020"/>
<line x1="1319.8" y1="760.6" x2="1319.8" y2="1182.0" stroke="#222" stroke-width="1.6"/><path d="M1319.8,754.6 L1317.0,765.6 L1322.5,765.6 Z" fill="#222"/><path d="M1319.8,1188.0 L1317.0,1177.0 L1322.5,1177.0 Z" fill="#222"/>
<line x1="1498.7" y1="802.6" x2="1498.7" y2="867.0" stroke="#ff2020" stroke-width="1.6"/><path d="M1498.7,796.6 L1496.0,807.6 L1501.5,807.6 Z" fill="#ff2020"/><path d="M1498.7,873.0 L1496.0,862.0 L1501.5,862.0 Z" fill="#ff2020"/>
<line x1="1528.6" y1="760.6" x2="1528.6" y2="867.0" stroke="#222" stroke-width="2.5"/><path d="M1528.6,754.6 L1525.8,765.6 L1531.3,765.6 Z" fill="#222"/><path d="M1528.6,873.0 L1525.8,862.0 L1531.3,862.0 Z" fill="#222"/>
<path d="M844,874 L943.3,874 L1043,1188 L1144,1188 L1244,754.6 L1344.5,754.6 L1441.5,873 L1544,873" fill="none" stroke="#000" stroke-width="3.2" stroke-linejoin="miter"/>
<path d="M844,874 L943.3,874 L1044,1178.8 L1143,1178.8 L1244,796.6 L1344.5,796.6 L1442.5,873.5 L1544,873.5" fill="none" stroke="#ff0000" stroke-width="3.6" stroke-linejoin="miter"/>
<rect x="844.2" y="724.2" width="700.1" height="501.4" fill="none" stroke="#000" stroke-width="3.6"/>
<line x1="844.2" y1="1225.4" x2="850.0" y2="1225.4" stroke="#000" stroke-width="3.2"/>
<line x1="844.2" y1="1175.2" x2="854.8" y2="1175.2" stroke="#000" stroke-width="3.2"/>
<line x1="844.2" y1="1125.0" x2="850.0" y2="1125.0" stroke="#000" stroke-width="3.2"/>
<line x1="844.2" y1="1074.8" x2="854.8" y2="1074.8" stroke="#000" stroke-width="3.2"/>
<line x1="844.2" y1="1024.6" x2="850.0" y2="1024.6" stroke="#000" stroke-width="3.2"/>
<line x1="844.2" y1="974.4" x2="854.8" y2="974.4" stroke="#000" stroke-width="3.2"/>
<line x1="844.2" y1="924.2" x2="850.0" y2="924.2" stroke="#000" stroke-width="3.2"/>
<line x1="844.2" y1="874.0" x2="854.8" y2="874.0" stroke="#000" stroke-width="3.2"/>
<line x1="844.2" y1="823.8" x2="850.0" y2="823.8" stroke="#000" stroke-width="3.2"/>
<line x1="844.2" y1="773.6" x2="854.8" y2="773.6" stroke="#000" stroke-width="3.2"/>
<text x="831.5" y="783.2" font-family="'Liberation Serif','Times New Roman',serif" font-size="28.5" font-weight="bold" fill="#000" text-anchor="end" >0.2</text>
<text x="831.5" y="883.6" font-family="'Liberation Serif','Times New Roman',serif" font-size="28.5" font-weight="bold" fill="#000" text-anchor="end" >0.0</text>
<text x="831.5" y="984.0" font-family="'Liberation Serif','Times New Roman',serif" font-size="28.5" font-weight="bold" fill="#000" text-anchor="end" >-0.2</text>
<text x="831.5" y="1084.4" font-family="'Liberation Serif','Times New Roman',serif" font-size="28.5" font-weight="bold" fill="#000" text-anchor="end" >-0.4</text>
<text x="831.5" y="1184.8" font-family="'Liberation Serif','Times New Roman',serif" font-size="28.5" font-weight="bold" fill="#000" text-anchor="end" >-0.6</text>
<text x="853.3" y="1151.5" font-family="'Liberation Serif','Times New Roman',serif" font-size="21.0" font-weight="bold" fill="#000" text-anchor="start" textLength="75" lengthAdjust="spacingAndGlyphs">-0.625 eV</text>
<text x="943.0" y="1151.5" font-family="'Liberation Serif','Times New Roman',serif" font-size="21.0" font-weight="bold" fill="#ff0000" text-anchor="start" textLength="76" lengthAdjust="spacingAndGlyphs">-0.607 eV</text>
<text x="1223.2" y="1006.0" font-family="'Liberation Serif','Times New Roman',serif" font-size="21.0" font-weight="bold" fill="#ff0000" text-anchor="start" textLength="70" lengthAdjust="spacingAndGlyphs">0.762 eV</text>
<text x="1332.7" y="1006.0" font-family="'Liberation Serif','Times New Roman',serif" font-size="21.0" font-weight="bold" fill="#000" text-anchor="start" textLength="72" lengthAdjust="spacingAndGlyphs">0.864 eV</text>
<text x="1417.0" y="834.0" font-family="'Liberation Serif','Times New Roman',serif" font-size="21.0" font-weight="bold" fill="#ff0000" text-anchor="start" textLength="72" lengthAdjust="spacingAndGlyphs">0.155 eV</text>
<text x="1449.3" y="781.6" font-family="'Liberation Serif','Times New Roman',serif" font-size="20.0" font-weight="bold" fill="#222" text-anchor="start" textLength="71" lengthAdjust="spacingAndGlyphs">0.239 eV</text>
<text x="990.6" y="988.0" font-family="'Liberation Serif','Times New Roman',serif" font-size="25.0" font-weight="bold" fill="#000" text-anchor="start" textLength="60" lengthAdjust="spacingAndGlyphs">Step 1</text>
<text x="1116.0" y="1018.0" font-family="'Liberation Serif','Times New Roman',serif" font-size="25.0" font-weight="bold" fill="#000" text-anchor="start" textLength="61" lengthAdjust="spacingAndGlyphs">Step 2</text>
<text x="1326.5" y="849.7" font-family="'Liberation Serif','Times New Roman',serif" font-size="25.0" font-weight="bold" fill="#000" text-anchor="start" textLength="61" lengthAdjust="spacingAndGlyphs">Step 3</text>
<line x1="869.3" y1="759" x2="941" y2="759" stroke="#000" stroke-width="2.6"/>
<line x1="869.3" y1="808.3" x2="941" y2="808.3" stroke="#ff0000" stroke-width="4"/>
<text x="949.6" y="769.6" font-family="'Liberation Serif','Times New Roman',serif" font-size="31.0" font-weight="bold" fill="#000" text-anchor="start" >WO<tspan dy="11" font-size="18">3</tspan></text>
<text x="949.6" y="819.0" font-family="'Liberation Serif','Times New Roman',serif" font-size="31.0" font-weight="bold" fill="#000" text-anchor="start" >Pt-WO<tspan dy="11" font-size="18">3</tspan></text>
<text x="852.4" y="1267.5" font-family="'Liberation Serif','Times New Roman',serif" font-size="34.5" font-weight="bold" fill="#000" text-anchor="start" >H<tspan dy="10" font-size="22">2</tspan><tspan dy="-10">O</tspan></text>
<text x="1059.0" y="1264.0" font-family="'Liberation Serif','Times New Roman',serif" font-size="34.5" font-weight="bold" fill="#000" text-anchor="start" textLength="96" lengthAdjust="spacingAndGlyphs">H+OH</text>
<text x="1277.5" y="1267.2" font-family="'Liberation Serif','Times New Roman',serif" font-size="37.0" font-weight="bold" fill="#000" text-anchor="start" >H*</text>
<text x="1477.0" y="1259.7" font-family="'Liberation Serif','Times New Roman',serif" font-size="31.5" font-weight="bold" fill="#000" text-anchor="start" >H<tspan dy="11" font-size="18">2</tspan></text>
<text x="1178.0" y="1296.3" font-family="'Liberation Serif','Times New Roman',serif" font-size="38.5" font-weight="bold" fill="#000" text-anchor="middle" textLength="334" lengthAdjust="spacingAndGlyphs">Reaction coordinate</text>
<text transform="translate(783.5,970) rotate(-90)" font-family="'Liberation Serif','Times New Roman',serif" font-size="38.8" font-weight="bold" text-anchor="middle" textLength="277" lengthAdjust="spacingAndGlyphs">Free Energy(eV)</text>
<ellipse cx="1279" cy="722" rx="8" ry="2.6" fill="#4a1040"/>
<text x="710.0" y="771.0" font-family="'Liberation Sans',Arial,sans-serif" font-size="67.0" font-weight="bold" fill="#000" text-anchor="start" >(e)</text>
<g clip-path="url(#fclip)">
<path d="M1690.5,954.1 L1692.7,953.7 L1694.9,955.0 L1697.1,953.6 L1699.3,954.8 L1701.5,954.4 L1703.7,953.7 L1705.9,954.9 L1708.2,953.8 L1710.4,954.8 L1712.6,954.0 L1714.8,954.1 L1717.0,954.9 L1719.2,955.9 L1721.4,954.3 L1723.6,954.6 L1725.8,955.6 L1728.0,956.4 L1730.2,955.6 L1732.4,955.2 L1734.6,956.6" fill="none" stroke="#707070" stroke-width="12.5" stroke-linejoin="round"/>
<path d="M1690.5,954.1 L1692.7,953.7 L1694.9,955.0 L1697.1,953.6 L1699.3,954.8 L1701.5,954.4 L1703.7,953.7 L1705.9,954.9 L1708.2,953.8 L1710.4,954.8 L1712.6,954.0 L1714.8,954.1 L1717.0,954.9 L1719.2,955.9 L1721.4,954.3 L1723.6,954.6 L1725.8,955.6 L1728.0,956.4 L1730.2,955.6 L1732.4,955.2 L1734.6,956.6" fill="none" stroke="#c4c4c4" stroke-width="8.5" stroke-linejoin="round"/>
<path d="M1739.0,956.4 L1741.3,955.1 L1743.5,954.7 L1745.7,954.7 L1747.9,955.2 L1750.1,956.4 L1752.3,954.9 L1754.5,955.9 L1756.7,956.0 L1758.9,955.4 L1761.1,955.8 L1763.3,954.6 L1765.5,954.6 L1767.7,954.9 L1769.9,956.0 L1772.1,955.4 L1774.4,955.0 L1776.6,955.6 L1778.8,955.2 L1781.0,954.8 L1783.2,955.8 L1785.4,955.5 L1787.6,954.3 L1789.8,954.9 L1792.0,954.6 L1794.2,955.3 L1796.4,954.8 L1798.6,953.5 L1800.8,955.0" fill="none" stroke="#707070" stroke-width="12.5" stroke-linejoin="round"/>
<path d="M1739.0,956.4 L1741.3,955.1 L1743.5,954.7 L1745.7,954.7 L1747.9,955.2 L1750.1,956.4 L1752.3,954.9 L1754.5,955.9 L1756.7,956.0 L1758.9,955.4 L1761.1,955.8 L1763.3,954.6 L1765.5,954.6 L1767.7,954.9 L1769.9,956.0 L1772.1,955.4 L1774.4,955.0 L1776.6,955.6 L1778.8,955.2 L1781.0,954.8 L1783.2,955.8 L1785.4,955.5 L1787.6,954.3 L1789.8,954.9 L1792.0,954.6 L1794.2,955.3 L1796.4,954.8 L1798.6,953.5 L1800.8,955.0" fill="none" stroke="#c4c4c4" stroke-width="8.5" stroke-linejoin="round"/>
<path d="M1803.0,952.7 L1805.2,953.2 L1807.5,953.8 L1809.7,952.2 L1811.9,952.8 L1814.1,951.5 L1816.3,952.8 L1818.5,952.8 L1820.7,952.1 L1822.9,952.7 L1825.1,951.1 L1827.3,951.9 L1829.5,951.5 L1831.7,951.4 L1833.9,951.0 L1836.1,951.8 L1838.3,952.0 L1840.6,950.9 L1842.8,951.4 L1845.0,949.9 L1847.2,951.5 L1849.4,951.5 L1851.6,952.5 L1853.8,952.2 L1856.0,951.1 L1858.2,951.5 L1860.4,952.4 L1862.6,951.1 L1864.8,952.4 L1867.0,952.0 L1869.2,952.1 L1871.4,952.3" fill="none" stroke="#707070" stroke-width="12.5" stroke-linejoin="round"/>
<path d="M1803.0,952.7 L1805.2,953.2 L1807.5,953.8 L1809.7,952.2 L1811.9,952.8 L1814.1,951.5 L1816.3,952.8 L1818.5,952.8 L1820.7,952.1 L1822.9,952.7 L1825.1,951.1 L1827.3,951.9 L1829.5,951.5 L1831.7,951.4 L1833.9,951.0 L1836.1,951.8 L1838.3,952.0 L1840.6,950.9 L1842.8,951.4 L1845.0,949.9 L1847.2,951.5 L1849.4,951.5 L1851.6,952.5 L1853.8,952.2 L1856.0,951.1 L1858.2,951.5 L1860.4,952.4 L1862.6,951.1 L1864.8,952.4 L1867.0,952.0 L1869.2,952.1 L1871.4,952.3" fill="none" stroke="#c4c4c4" stroke-width="8.5" stroke-linejoin="round"/>
<path d="M1873.7,954.3 L1875.9,953.1 L1878.1,953.7 L1880.3,954.3 L1882.5,955.8 L1884.7,954.2 L1886.9,955.4 L1889.1,956.0 L1891.3,957.1 L1893.5,957.2 L1895.7,957.6 L1897.9,956.4 L1900.1,957.0 L1902.3,957.1 L1904.5,958.6 L1906.8,959.0 L1909.0,957.3 L1911.2,957.6 L1913.4,957.9 L1915.6,958.0 L1917.8,958.8 L1920.0,959.2 L1922.2,958.6 L1924.4,958.1 L1926.6,959.2 L1928.8,959.2 L1931.0,959.7 L1933.2,960.7 L1935.4,960.1 L1937.6,959.7 L1939.9,959.9 L1942.1,960.0 L1944.3,958.4 L1946.5,960.2 L1948.7,959.5 L1950.9,959.2 L1953.1,958.3" fill="none" stroke="#707070" stroke-width="12.5" stroke-linejoin="round"/>
<path d="M1873.7,954.3 L1875.9,953.1 L1878.1,953.7 L1880.3,954.3 L1882.5,955.8 L1884.7,954.2 L1886.9,955.4 L1889.1,956.0 L1891.3,957.1 L1893.5,957.2 L1895.7,957.6 L1897.9,956.4 L1900.1,957.0 L1902.3,957.1 L1904.5,958.6 L1906.8,959.0 L1909.0,957.3 L1911.2,957.6 L1913.4,957.9 L1915.6,958.0 L1917.8,958.8 L1920.0,959.2 L1922.2,958.6 L1924.4,958.1 L1926.6,959.2 L1928.8,959.2 L1931.0,959.7 L1933.2,960.7 L1935.4,960.1 L1937.6,959.7 L1939.9,959.9 L1942.1,960.0 L1944.3,958.4 L1946.5,960.2 L1948.7,959.5 L1950.9,959.2 L1953.1,958.3" fill="none" stroke="#c4c4c4" stroke-width="8.5" stroke-linejoin="round"/>
<path d="M2001.6,816.8 L2003.8,815.1 L2006.1,813.9 L2008.3,813.1" fill="none" stroke="#707070" stroke-width="12.5" stroke-linejoin="round"/>
<path d="M2001.6,816.8 L2003.8,815.1 L2006.1,813.9 L2008.3,813.1" fill="none" stroke="#c4c4c4" stroke-width="8.5" stroke-linejoin="round"/>
<path d="M2045.8,941.2 L2048.0,942.7 L2050.2,944.4 L2052.4,944.2 L2054.6,944.9" fill="none" stroke="#707070" stroke-width="12.5" stroke-linejoin="round"/>
<path d="M2045.8,941.2 L2048.0,942.7 L2050.2,944.4 L2052.4,944.2 L2054.6,944.9" fill="none" stroke="#c4c4c4" stroke-width="8.5" stroke-linejoin="round"/>
<path d="M2160.5,964.5 L2162.7,964.5 L2164.9,963.6 L2167.1,963.8 L2169.3,964.1" fill="none" stroke="#707070" stroke-width="12.5" stroke-linejoin="round"/>
<path d="M2160.5,964.5 L2162.7,964.5 L2164.9,963.6 L2167.1,963.8 L2169.3,964.1" fill="none" stroke="#c4c4c4" stroke-width="8.5" stroke-linejoin="round"/>
<path d="M2171.6,966.1 L2173.8,966.0 L2176.0,964.5 L2178.2,966.3 L2180.4,966.7 L2182.6,966.0 L2184.8,965.3 L2187.0,965.9 L2189.2,964.9 L2191.4,964.7" fill="none" stroke="#707070" stroke-width="12.5" stroke-linejoin="round"/>
<path d="M2171.6,966.1 L2173.8,966.0 L2176.0,964.5 L2178.2,966.3 L2180.4,966.7 L2182.6,966.0 L2184.8,965.3 L2187.0,965.9 L2189.2,964.9 L2191.4,964.7" fill="none" stroke="#c4c4c4" stroke-width="8.5" stroke-linejoin="round"/>
<path d="M2193.6,967.0 L2195.8,966.3 L2198.0,966.1 L2200.2,967.1 L2202.4,965.9 L2204.7,967.0 L2206.9,967.0 L2209.1,965.6 L2211.3,965.7 L2213.5,965.9 L2215.7,965.8 L2217.9,966.7 L2220.1,965.9 L2222.3,966.4 L2224.5,965.7" fill="none" stroke="#707070" stroke-width="12.5" stroke-linejoin="round"/>
<path d="M2193.6,967.0 L2195.8,966.3 L2198.0,966.1 L2200.2,967.1 L2202.4,965.9 L2204.7,967.0 L2206.9,967.0 L2209.1,965.6 L2211.3,965.7 L2213.5,965.9 L2215.7,965.8 L2217.9,966.7 L2220.1,965.9 L2222.3,966.4 L2224.5,965.7" fill="none" stroke="#c4c4c4" stroke-width="8.5" stroke-linejoin="round"/>
<path d="M2226.7,967.6 L2228.9,966.3 L2231.1,966.6 L2233.3,967.0 L2235.5,967.8 L2237.8,966.7 L2240.0,968.0 L2242.2,967.0 L2244.4,967.1 L2246.6,967.2 L2248.8,966.0 L2251.0,967.1 L2253.2,966.5 L2255.4,966.1" fill="none" stroke="#707070" stroke-width="12.5" stroke-linejoin="round"/>
<path d="M2226.7,967.6 L2228.9,966.3 L2231.1,966.6 L2233.3,967.0 L2235.5,967.8 L2237.8,966.7 L2240.0,968.0 L2242.2,967.0 L2244.4,967.1 L2246.6,967.2 L2248.8,966.0 L2251.0,967.1 L2253.2,966.5 L2255.4,966.1" fill="none" stroke="#c4c4c4" stroke-width="8.5" stroke-linejoin="round"/>
<path d="M2257.6,968.1 L2259.8,966.6 L2262.0,967.4 L2264.2,968.0 L2266.4,967.7 L2268.6,967.2 L2270.9,967.7 L2273.1,967.8 L2275.3,968.4 L2277.5,966.9 L2279.7,968.0 L2281.9,967.3 L2284.1,967.4 L2286.3,968.7 L2288.5,968.1 L2290.7,968.2 L2292.9,968.8 L2295.1,969.2 L2297.3,968.1 L2299.5,968.6 L2301.7,968.4 L2304.0,968.4 L2306.2,968.9 L2308.4,968.4 L2310.6,968.6 L2312.8,968.5 L2315.0,969.7 L2317.2,969.2 L2319.4,969.7 L2321.6,969.9 L2323.8,968.3 L2326.0,969.0 L2328.2,970.0 L2330.4,969.8 L2332.6,968.2 L2334.8,968.2 L2337.1,969.0 L2339.3,968.2 L2341.5,968.6 L2343.7,968.3 L2345.9,969.8 L2348.1,970.1 L2350.3,970.4 L2352.5,968.7" fill="none" stroke="#707070" stroke-width="12.5" stroke-linejoin="round"/>
<path d="M2257.6,968.1 L2259.8,966.6 L2262.0,967.4 L2264.2,968.0 L2266.4,967.7 L2268.6,967.2 L2270.9,967.7 L2273.1,967.8 L2275.3,968.4 L2277.5,966.9 L2279.7,968.0 L2281.9,967.3 L2284.1,967.4 L2286.3,968.7 L2288.5,968.1 L2290.7,968.2 L2292.9,968.8 L2295.1,969.2 L2297.3,968.1 L2299.5,968.6 L2301.7,968.4 L2304.0,968.4 L2306.2,968.9 L2308.4,968.4 L2310.6,968.6 L2312.8,968.5 L2315.0,969.7 L2317.2,969.2 L2319.4,969.7 L2321.6,969.9 L2323.8,968.3 L2326.0,969.0 L2328.2,970.0 L2330.4,969.8 L2332.6,968.2 L2334.8,968.2 L2337.1,969.0 L2339.3,968.2 L2341.5,968.6 L2343.7,968.3 L2345.9,969.8 L2348.1,970.1 L2350.3,970.4 L2352.5,968.7" fill="none" stroke="#c4c4c4" stroke-width="8.5" stroke-linejoin="round"/>
<g fill="none" stroke="#6a6a6a" stroke-width="1.4"><circle cx="1690.5" cy="954.1" r="5.2"/><circle cx="1694.9" cy="955.0" r="5.2"/><circle cx="1699.3" cy="954.8" r="5.2"/><circle cx="1703.7" cy="953.7" r="5.2"/><circle cx="1708.2" cy="953.8" r="5.2"/><circle cx="1712.6" cy="954.0" r="5.2"/><circle cx="1717.0" cy="954.9" r="5.2"/><circle cx="1721.4" cy="954.3" r="5.2"/><circle cx="1725.8" cy="955.6" r="5.2"/><circle cx="1730.2" cy="955.6" r="5.2"/><circle cx="1734.6" cy="956.6" r="5.2"/><circle cx="1739.0" cy="956.4" r="5.2"/><circle cx="1743.5" cy="954.7" r="5.2"/><circle cx="1747.9" cy="955.2" r="5.2"/><circle cx="1752.3" cy="954.9" r="5.2"/><circle cx="1756.7" cy="956.0" r="5.2"/><circle cx="1761.1" cy="955.8" r="5.2"/><circle cx="1765.5" cy="954.6" r="5.2"/><circle cx="1769.9" cy="956.0" r="5.2"/><circle cx="1774.4" cy="955.0" r="5.2"/><circle cx="1778.8" cy="955.2" r="5.2"/><circle cx="1783.2" cy="955.8" r="5.2"/><circle cx="1787.6" cy="954.3" r="5.2"/><circle cx="1792.0" cy="954.6" r="5.2"/><circle cx="1796.4" cy="954.8" r="5.2"/><circle cx="1800.8" cy="955.0" r="5.2"/><circle cx="1805.2" cy="953.2" r="5.2"/><circle cx="1809.7" cy="952.2" r="5.2"/><circle cx="1814.1" cy="951.5" r="5.2"/><circle cx="1818.5" cy="952.8" r="5.2"/><circle cx="1822.9" cy="952.7" r="5.2"/><circle cx="1827.3" cy="951.9" r="5.2"/><circle cx="1831.7" cy="951.4" r="5.2"/><circle cx="1836.1" cy="951.8" r="5.2"/><circle cx="1840.6" cy="950.9" r="5.2"/><circle cx="1845.0" cy="949.9" r="5.2"/><circle cx="1849.4" cy="951.5" r="5.2"/><circle cx="1853.8" cy="952.2" r="5.2"/><circle cx="1858.2" cy="951.5" r="5.2"/><circle cx="1862.6" cy="951.1" r="5.2"/><circle cx="1867.0" cy="952.0" r="5.2"/><circle cx="1871.4" cy="952.3" r="5.2"/><circle cx="1875.9" cy="953.1" r="5.2"/><circle cx="1880.3" cy="954.3" r="5.2"/><circle cx="1884.7" cy="954.2" r="5.2"/><circle cx="1889.1" cy="956.0" r="5.2"/><circle cx="1893.5" cy="957.2" r="5.2"/><circle cx="1897.9" cy="956.4" r="5.2"/><circle cx="1902.3" cy="957.1" r="5.2"/><circle cx="1906.8" cy="959.0" r="5.2"/><circle cx="1911.2" cy="957.6" r="5.2"/><circle cx="1915.6" cy="958.0" r="5.2"/><circle cx="1920.0" cy="959.2" r="5.2"/><circle cx="1924.4" cy="958.1" r="5.2"/><circle cx="1928.8" cy="959.2" r="5.2"/><circle cx="1933.2" cy="960.7" r="5.2"/><circle cx="1937.6" cy="959.7" r="5.2"/><circle cx="1942.1" cy="960.0" r="5.2"/><circle cx="1946.5" cy="960.2" r="5.2"/><circle cx="1950.9" cy="959.2" r="5.2"/><circle cx="1955.3" cy="956.4" r="5.2"/><circle cx="1959.7" cy="952.6" r="5.2"/><circle cx="1964.1" cy="947.5" r="5.2"/><circle cx="1968.5" cy="940.3" r="5.2"/><circle cx="1973.0" cy="929.7" r="5.2"/><circle cx="1977.4" cy="914.5" r="5.2"/><circle cx="1981.8" cy="897.1" r="5.2"/><circle cx="1986.2" cy="876.8" r="5.2"/><circle cx="1990.6" cy="857.5" r="5.2"/><circle cx="1995.0" cy="837.5" r="5.2"/><circle cx="1999.4" cy="822.7" r="5.2"/><circle cx="2003.8" cy="815.1" r="5.2"/><circle cx="2008.3" cy="813.1" r="5.2"/><circle cx="2012.7" cy="819.0" r="5.2"/><circle cx="2017.1" cy="833.2" r="5.2"/><circle cx="2021.5" cy="852.7" r="5.2"/><circle cx="2025.9" cy="871.5" r="5.2"/><circle cx="2030.3" cy="893.2" r="5.2"/><circle cx="2034.7" cy="911.6" r="5.2"/><circle cx="2039.2" cy="926.4" r="5.2"/><circle cx="2043.6" cy="937.9" r="5.2"/><circle cx="2048.0" cy="942.7" r="5.2"/><circle cx="2052.4" cy="944.2" r="5.2"/><circle cx="2056.8" cy="942.3" r="5.2"/><circle cx="2061.2" cy="934.2" r="5.2"/><circle cx="2065.6" cy="922.7" r="5.2"/><circle cx="2070.0" cy="905.2" r="5.2"/><circle cx="2074.5" cy="882.9" r="5.2"/><circle cx="2078.9" cy="856.0" r="5.2"/><circle cx="2083.3" cy="829.6" r="5.2"/><circle cx="2087.7" cy="803.5" r="5.2"/><circle cx="2092.1" cy="783.4" r="5.2"/><circle cx="2096.5" cy="771.8" r="5.2"/><circle cx="2100.9" cy="767.9" r="5.2"/><circle cx="2105.4" cy="774.0" r="5.2"/><circle cx="2109.8" cy="787.4" r="5.2"/><circle cx="2114.2" cy="809.3" r="5.2"/><circle cx="2118.6" cy="836.4" r="5.2"/><circle cx="2123.0" cy="863.9" r="5.2"/><circle cx="2127.4" cy="888.8" r="5.2"/><circle cx="2131.8" cy="909.3" r="5.2"/><circle cx="2136.2" cy="928.9" r="5.2"/><circle cx="2140.7" cy="941.7" r="5.2"/><circle cx="2145.1" cy="949.6" r="5.2"/><circle cx="2149.5" cy="956.1" r="5.2"/><circle cx="2153.9" cy="961.5" r="5.2"/><circle cx="2158.3" cy="962.4" r="5.2"/><circle cx="2162.7" cy="964.5" r="5.2"/><circle cx="2167.1" cy="963.8" r="5.2"/><circle cx="2171.6" cy="966.1" r="5.2"/><circle cx="2176.0" cy="964.5" r="5.2"/><circle cx="2180.4" cy="966.7" r="5.2"/><circle cx="2184.8" cy="965.3" r="5.2"/><circle cx="2189.2" cy="964.9" r="5.2"/><circle cx="2193.6" cy="967.0" r="5.2"/><circle cx="2198.0" cy="966.1" r="5.2"/><circle cx="2202.4" cy="965.9" r="5.2"/><circle cx="2206.9" cy="967.0" r="5.2"/><circle cx="2211.3" cy="965.7" r="5.2"/><circle cx="2215.7" cy="965.8" r="5.2"/><circle cx="2220.1" cy="965.9" r="5.2"/><circle cx="2224.5" cy="965.7" r="5.2"/><circle cx="2228.9" cy="966.3" r="5.2"/><circle cx="2233.3" cy="967.0" r="5.2"/><circle cx="2237.8" cy="966.7" r="5.2"/><circle cx="2242.2" cy="967.0" r="5.2"/><circle cx="2246.6" cy="967.2" r="5.2"/><circle cx="2251.0" cy="967.1" r="5.2"/><circle cx="2255.4" cy="966.1" r="5.2"/><circle cx="2259.8" cy="966.6" r="5.2"/><circle cx="2264.2" cy="968.0" r="5.2"/><circle cx="2268.6" cy="967.2" r="5.2"/><circle cx="2273.1" cy="967.8" r="5.2"/><circle cx="2277.5" cy="966.9" r="5.2"/><circle cx="2281.9" cy="967.3" r="5.2"/><circle cx="2286.3" cy="968.7" r="5.2"/><circle cx="2290.7" cy="968.2" r="5.2"/><circle cx="2295.1" cy="969.2" r="5.2"/><circle cx="2299.5" cy="968.6" r="5.2"/><circle cx="2304.0" cy="968.4" r="5.2"/><circle cx="2308.4" cy="968.4" r="5.2"/><circle cx="2312.8" cy="968.5" r="5.2"/><circle cx="2317.2" cy="969.2" r="5.2"/><circle cx="2321.6" cy="969.9" r="5.2"/><circle cx="2326.0" cy="969.0" r="5.2"/><circle cx="2330.4" cy="969.8" r="5.2"/><circle cx="2334.8" cy="968.2" r="5.2"/><circle cx="2339.3" cy="968.2" r="5.2"/><circle cx="2343.7" cy="968.3" r="5.2"/><circle cx="2348.1" cy="970.1" r="5.2"/><circle cx="2352.5" cy="968.7" r="5.2"/></g>
<path d="M1703.7,1173.4 L1705.9,1172.1 L1708.2,1172.4 L1710.4,1173.6 L1712.6,1173.3 L1714.8,1171.8 L1717.0,1172.4 L1719.2,1172.7 L1721.4,1172.3 L1723.6,1172.0 L1725.8,1172.4 L1728.0,1173.4 L1730.2,1171.8 L1732.4,1173.1 L1734.6,1172.9 L1736.8,1171.9 L1739.0,1172.7 L1741.3,1173.4 L1743.5,1173.2 L1745.7,1172.2" fill="none" stroke="#707070" stroke-width="12.5" stroke-linejoin="round"/>
<path d="M1703.7,1173.4 L1705.9,1172.1 L1708.2,1172.4 L1710.4,1173.6 L1712.6,1173.3 L1714.8,1171.8 L1717.0,1172.4 L1719.2,1172.7 L1721.4,1172.3 L1723.6,1172.0 L1725.8,1172.4 L1728.0,1173.4 L1730.2,1171.8 L1732.4,1173.1 L1734.6,1172.9 L1736.8,1171.9 L1739.0,1172.7 L1741.3,1173.4 L1743.5,1173.2 L1745.7,1172.2" fill="none" stroke="#c4c4c4" stroke-width="8.5" stroke-linejoin="round"/>
<path d="M1754.5,1172.4 L1756.7,1172.8 L1758.9,1172.3 L1761.1,1174.1 L1763.3,1172.9 L1765.5,1172.6 L1767.7,1173.3 L1769.9,1174.5 L1772.1,1174.2 L1774.4,1172.9 L1776.6,1172.6" fill="none" stroke="#707070" stroke-width="12.5" stroke-linejoin="round"/>
<path d="M1754.5,1172.4 L1756.7,1172.8 L1758.9,1172.3 L1761.1,1174.1 L1763.3,1172.9 L1765.5,1172.6 L1767.7,1173.3 L1769.9,1174.5 L1772.1,1174.2 L1774.4,1172.9 L1776.6,1172.6" fill="none" stroke="#c4c4c4" stroke-width="8.5" stroke-linejoin="round"/>
<path d="M1778.8,1174.4 L1781.0,1173.6 L1783.2,1173.8 L1785.4,1172.3 L1787.6,1172.2 L1789.8,1173.6 L1792.0,1172.9 L1794.2,1172.0" fill="none" stroke="#707070" stroke-width="12.5" stroke-linejoin="round"/>
<path d="M1778.8,1174.4 L1781.0,1173.6 L1783.2,1173.8 L1785.4,1172.3 L1787.6,1172.2 L1789.8,1173.6 L1792.0,1172.9 L1794.2,1172.0" fill="none" stroke="#c4c4c4" stroke-width="8.5" stroke-linejoin="round"/>
<path d="M1807.5,1171.3 L1809.7,1173.1 L1811.9,1171.9 L1814.1,1171.5 L1816.3,1171.8 L1818.5,1172.6 L1820.7,1170.8 L1822.9,1170.3 L1825.1,1171.1 L1827.3,1170.2 L1829.5,1169.7 L1831.7,1169.6 L1833.9,1169.2 L1836.1,1169.4 L1838.3,1169.5 L1840.6,1169.3 L1842.8,1170.3 L1845.0,1169.0 L1847.2,1169.4 L1849.4,1168.5 L1851.6,1168.8 L1853.8,1168.0 L1856.0,1168.5 L1858.2,1167.9 L1860.4,1169.6 L1862.6,1169.2 L1864.8,1168.3 L1867.0,1169.1 L1869.2,1170.3" fill="none" stroke="#707070" stroke-width="12.5" stroke-linejoin="round"/>
<path d="M1807.5,1171.3 L1809.7,1173.1 L1811.9,1171.9 L1814.1,1171.5 L1816.3,1171.8 L1818.5,1172.6 L1820.7,1170.8 L1822.9,1170.3 L1825.1,1171.1 L1827.3,1170.2 L1829.5,1169.7 L1831.7,1169.6 L1833.9,1169.2 L1836.1,1169.4 L1838.3,1169.5 L1840.6,1169.3 L1842.8,1170.3 L1845.0,1169.0 L1847.2,1169.4 L1849.4,1168.5 L1851.6,1168.8 L1853.8,1168.0 L1856.0,1168.5 L1858.2,1167.9 L1860.4,1169.6 L1862.6,1169.2 L1864.8,1168.3 L1867.0,1169.1 L1869.2,1170.3" fill="none" stroke="#c4c4c4" stroke-width="8.5" stroke-linejoin="round"/>
<path d="M1873.7,1170.2 L1875.9,1169.4 L1878.1,1169.7 L1880.3,1170.7 L1882.5,1169.8 L1884.7,1170.3 L1886.9,1170.9 L1889.1,1171.9 L1891.3,1170.6 L1893.5,1172.0 L1895.7,1172.0 L1897.9,1172.1 L1900.1,1171.8 L1902.3,1172.0 L1904.5,1171.5 L1906.8,1172.0 L1909.0,1172.2" fill="none" stroke="#707070" stroke-width="12.5" stroke-linejoin="round"/>
<path d="M1873.7,1170.2 L1875.9,1169.4 L1878.1,1169.7 L1880.3,1170.7 L1882.5,1169.8 L1884.7,1170.3 L1886.9,1170.9 L1889.1,1171.9 L1891.3,1170.6 L1893.5,1172.0 L1895.7,1172.0 L1897.9,1172.1 L1900.1,1171.8 L1902.3,1172.0 L1904.5,1171.5 L1906.8,1172.0 L1909.0,1172.2" fill="none" stroke="#c4c4c4" stroke-width="8.5" stroke-linejoin="round"/>
<path d="M1911.2,1174.0 L1913.4,1173.2 L1915.6,1173.2 L1917.8,1173.3" fill="none" stroke="#707070" stroke-width="12.5" stroke-linejoin="round"/>
<path d="M1911.2,1174.0 L1913.4,1173.2 L1915.6,1173.2 L1917.8,1173.3" fill="none" stroke="#c4c4c4" stroke-width="8.5" stroke-linejoin="round"/>
<path d="M1920.0,1175.4 L1922.2,1175.7 L1924.4,1175.5 L1926.6,1174.8 L1928.8,1174.9 L1931.0,1175.2 L1933.2,1175.9 L1935.4,1175.3 L1937.6,1176.2 L1939.9,1175.9" fill="none" stroke="#707070" stroke-width="12.5" stroke-linejoin="round"/>
<path d="M1920.0,1175.4 L1922.2,1175.7 L1924.4,1175.5 L1926.6,1174.8 L1928.8,1174.9 L1931.0,1175.2 L1933.2,1175.9 L1935.4,1175.3 L1937.6,1176.2 L1939.9,1175.9" fill="none" stroke="#c4c4c4" stroke-width="8.5" stroke-linejoin="round"/>
<path d="M1942.1,1177.7 L1944.3,1177.8 L1946.5,1176.9 L1948.7,1176.2 L1950.9,1177.8 L1953.1,1176.1 L1955.3,1176.0 L1957.5,1174.9 L1959.7,1175.3 L1961.9,1174.8 L1964.1,1174.0" fill="none" stroke="#707070" stroke-width="12.5" stroke-linejoin="round"/>
<path d="M1942.1,1177.7 L1944.3,1177.8 L1946.5,1176.9 L1948.7,1176.2 L1950.9,1177.8 L1953.1,1176.1 L1955.3,1176.0 L1957.5,1174.9 L1959.7,1175.3 L1961.9,1174.8 L1964.1,1174.0" fill="none" stroke="#c4c4c4" stroke-width="8.5" stroke-linejoin="round"/>
<path d="M2173.8,1178.9 L2176.0,1180.6 L2178.2,1180.4 L2180.4,1180.8 L2182.6,1181.3" fill="none" stroke="#707070" stroke-width="12.5" stroke-linejoin="round"/>
<path d="M2173.8,1178.9 L2176.0,1180.6 L2178.2,1180.4 L2180.4,1180.8 L2182.6,1181.3" fill="none" stroke="#c4c4c4" stroke-width="8.5" stroke-linejoin="round"/>
<path d="M2184.8,1183.5 L2187.0,1182.1 L2189.2,1183.3 L2191.4,1182.5 L2193.6,1183.6 L2195.8,1184.7" fill="none" stroke="#707070" stroke-width="12.5" stroke-linejoin="round"/>
<path d="M2184.8,1183.5 L2187.0,1182.1 L2189.2,1183.3 L2191.4,1182.5 L2193.6,1183.6 L2195.8,1184.7" fill="none" stroke="#c4c4c4" stroke-width="8.5" stroke-linejoin="round"/>
<path d="M2198.0,1182.9 L2200.2,1184.6 L2202.4,1183.9 L2204.7,1184.9 L2206.9,1184.6 L2209.1,1183.5 L2211.3,1185.1 L2213.5,1184.2 L2215.7,1183.2 L2217.9,1183.2 L2220.1,1184.4 L2222.3,1184.3 L2224.5,1184.0 L2226.7,1183.7 L2228.9,1184.2 L2231.1,1184.2 L2233.3,1185.5" fill="none" stroke="#707070" stroke-width="12.5" stroke-linejoin="round"/>
<path d="M2198.0,1182.9 L2200.2,1184.6 L2202.4,1183.9 L2204.7,1184.9 L2206.9,1184.6 L2209.1,1183.5 L2211.3,1185.1 L2213.5,1184.2 L2215.7,1183.2 L2217.9,1183.2 L2220.1,1184.4 L2222.3,1184.3 L2224.5,1184.0 L2226.7,1183.7 L2228.9,1184.2 L2231.1,1184.2 L2233.3,1185.5" fill="none" stroke="#c4c4c4" stroke-width="8.5" stroke-linejoin="round"/>
<path d="M2244.4,1186.0 L2246.6,1185.5 L2248.8,1186.0 L2251.0,1184.6 L2253.2,1184.9 L2255.4,1185.0 L2257.6,1186.5 L2259.8,1185.5 L2262.0,1185.0 L2264.2,1185.3 L2266.4,1184.9 L2268.6,1184.5 L2270.9,1184.6" fill="none" stroke="#707070" stroke-width="12.5" stroke-linejoin="round"/>
<path d="M2244.4,1186.0 L2246.6,1185.5 L2248.8,1186.0 L2251.0,1184.6 L2253.2,1184.9 L2255.4,1185.0 L2257.6,1186.5 L2259.8,1185.5 L2262.0,1185.0 L2264.2,1185.3 L2266.4,1184.9 L2268.6,1184.5 L2270.9,1184.6" fill="none" stroke="#c4c4c4" stroke-width="8.5" stroke-linejoin="round"/>
<path d="M2273.1,1186.4 L2275.3,1185.2 L2277.5,1186.8 L2279.7,1185.2 L2281.9,1185.3 L2284.1,1185.9 L2286.3,1185.2 L2288.5,1185.7 L2290.7,1187.1 L2292.9,1187.0 L2295.1,1186.9 L2297.3,1186.5 L2299.5,1187.3 L2301.7,1187.4 L2304.0,1186.5 L2306.2,1186.9 L2308.4,1185.4 L2310.6,1187.1 L2312.8,1186.5 L2315.0,1187.2 L2317.2,1187.0 L2319.4,1186.2 L2321.6,1185.7" fill="none" stroke="#707070" stroke-width="12.5" stroke-linejoin="round"/>
<path d="M2273.1,1186.4 L2275.3,1185.2 L2277.5,1186.8 L2279.7,1185.2 L2281.9,1185.3 L2284.1,1185.9 L2286.3,1185.2 L2288.5,1185.7 L2290.7,1187.1 L2292.9,1187.0 L2295.1,1186.9 L2297.3,1186.5 L2299.5,1187.3 L2301.7,1187.4 L2304.0,1186.5 L2306.2,1186.9 L2308.4,1185.4 L2310.6,1187.1 L2312.8,1186.5 L2315.0,1187.2 L2317.2,1187.0 L2319.4,1186.2 L2321.6,1185.7" fill="none" stroke="#c4c4c4" stroke-width="8.5" stroke-linejoin="round"/>
<path d="M2326.0,1186.0 L2328.2,1186.9 L2330.4,1186.6 L2332.6,1186.5 L2334.8,1187.7 L2337.1,1188.3 L2339.3,1186.6 L2341.5,1187.6 L2343.7,1186.8 L2345.9,1187.5 L2348.1,1187.1 L2350.3,1186.6 L2352.5,1186.7" fill="none" stroke="#707070" stroke-width="12.5" stroke-linejoin="round"/>
<path d="M2326.0,1186.0 L2328.2,1186.9 L2330.4,1186.6 L2332.6,1186.5 L2334.8,1187.7 L2337.1,1188.3 L2339.3,1186.6 L2341.5,1187.6 L2343.7,1186.8 L2345.9,1187.5 L2348.1,1187.1 L2350.3,1186.6 L2352.5,1186.7" fill="none" stroke="#c4c4c4" stroke-width="8.5" stroke-linejoin="round"/>
<g fill="none" stroke="#6a6a6a" stroke-width="1.4"><circle cx="1690.5" cy="1172.5" r="5.2"/><circle cx="1694.9" cy="1171.2" r="5.2"/><circle cx="1699.3" cy="1173.3" r="5.2"/><circle cx="1703.7" cy="1173.4" r="5.2"/><circle cx="1708.2" cy="1172.4" r="5.2"/><circle cx="1712.6" cy="1173.3" r="5.2"/><circle cx="1717.0" cy="1172.4" r="5.2"/><circle cx="1721.4" cy="1172.3" r="5.2"/><circle cx="1725.8" cy="1172.4" r="5.2"/><circle cx="1730.2" cy="1171.8" r="5.2"/><circle cx="1734.6" cy="1172.9" r="5.2"/><circle cx="1739.0" cy="1172.7" r="5.2"/><circle cx="1743.5" cy="1173.2" r="5.2"/><circle cx="1747.9" cy="1174.4" r="5.2"/><circle cx="1752.3" cy="1174.5" r="5.2"/><circle cx="1756.7" cy="1172.8" r="5.2"/><circle cx="1761.1" cy="1174.1" r="5.2"/><circle cx="1765.5" cy="1172.6" r="5.2"/><circle cx="1769.9" cy="1174.5" r="5.2"/><circle cx="1774.4" cy="1172.9" r="5.2"/><circle cx="1778.8" cy="1174.4" r="5.2"/><circle cx="1783.2" cy="1173.8" r="5.2"/><circle cx="1787.6" cy="1172.2" r="5.2"/><circle cx="1792.0" cy="1172.9" r="5.2"/><circle cx="1796.4" cy="1174.0" r="5.2"/><circle cx="1800.8" cy="1173.5" r="5.2"/><circle cx="1805.2" cy="1173.3" r="5.2"/><circle cx="1809.7" cy="1173.1" r="5.2"/><circle cx="1814.1" cy="1171.5" r="5.2"/><circle cx="1818.5" cy="1172.6" r="5.2"/><circle cx="1822.9" cy="1170.3" r="5.2"/><circle cx="1827.3" cy="1170.2" r="5.2"/><circle cx="1831.7" cy="1169.6" r="5.2"/><circle cx="1836.1" cy="1169.4" r="5.2"/><circle cx="1840.6" cy="1169.3" r="5.2"/><circle cx="1845.0" cy="1169.0" r="5.2"/><circle cx="1849.4" cy="1168.5" r="5.2"/><circle cx="1853.8" cy="1168.0" r="5.2"/><circle cx="1858.2" cy="1167.9" r="5.2"/><circle cx="1862.6" cy="1169.2" r="5.2"/><circle cx="1867.0" cy="1169.1" r="5.2"/><circle cx="1871.4" cy="1168.4" r="5.2"/><circle cx="1875.9" cy="1169.4" r="5.2"/><circle cx="1880.3" cy="1170.7" r="5.2"/><circle cx="1884.7" cy="1170.3" r="5.2"/><circle cx="1889.1" cy="1171.9" r="5.2"/><circle cx="1893.5" cy="1172.0" r="5.2"/><circle cx="1897.9" cy="1172.1" r="5.2"/><circle cx="1902.3" cy="1172.0" r="5.2"/><circle cx="1906.8" cy="1172.0" r="5.2"/><circle cx="1911.2" cy="1174.0" r="5.2"/><circle cx="1915.6" cy="1173.2" r="5.2"/><circle cx="1920.0" cy="1175.4" r="5.2"/><circle cx="1924.4" cy="1175.5" r="5.2"/><circle cx="1928.8" cy="1174.9" r="5.2"/><circle cx="1933.2" cy="1175.9" r="5.2"/><circle cx="1937.6" cy="1176.2" r="5.2"/><circle cx="1942.1" cy="1177.7" r="5.2"/><circle cx="1946.5" cy="1176.9" r="5.2"/><circle cx="1950.9" cy="1177.8" r="5.2"/><circle cx="1955.3" cy="1176.0" r="5.2"/><circle cx="1959.7" cy="1175.3" r="5.2"/><circle cx="1964.1" cy="1174.0" r="5.2"/><circle cx="1968.5" cy="1171.4" r="5.2"/><circle cx="1973.0" cy="1166.6" r="5.2"/><circle cx="1977.4" cy="1160.7" r="5.2"/><circle cx="1981.8" cy="1151.1" r="5.2"/><circle cx="1986.2" cy="1140.2" r="5.2"/><circle cx="1990.6" cy="1126.7" r="5.2"/><circle cx="1995.0" cy="1110.3" r="5.2"/><circle cx="1999.4" cy="1092.5" r="5.2"/><circle cx="2003.8" cy="1072.5" r="5.2"/><circle cx="2008.3" cy="1054.7" r="5.2"/><circle cx="2012.7" cy="1041.5" r="5.2"/><circle cx="2017.1" cy="1032.4" r="5.2"/><circle cx="2021.5" cy="1028.1" r="5.2"/><circle cx="2025.9" cy="1031.1" r="5.2"/><circle cx="2030.3" cy="1038.9" r="5.2"/><circle cx="2034.7" cy="1053.2" r="5.2"/><circle cx="2039.2" cy="1070.1" r="5.2"/><circle cx="2043.6" cy="1088.7" r="5.2"/><circle cx="2048.0" cy="1106.3" r="5.2"/><circle cx="2052.4" cy="1121.0" r="5.2"/><circle cx="2056.8" cy="1135.0" r="5.2"/><circle cx="2061.2" cy="1145.3" r="5.2"/><circle cx="2065.6" cy="1149.5" r="5.2"/><circle cx="2070.0" cy="1149.5" r="5.2"/><circle cx="2074.5" cy="1142.7" r="5.2"/><circle cx="2078.9" cy="1134.3" r="5.2"/><circle cx="2083.3" cy="1119.0" r="5.2"/><circle cx="2087.7" cy="1098.9" r="5.2"/><circle cx="2092.1" cy="1077.6" r="5.2"/><circle cx="2096.5" cy="1054.5" r="5.2"/><circle cx="2100.9" cy="1032.1" r="5.2"/><circle cx="2105.4" cy="1014.7" r="5.2"/><circle cx="2109.8" cy="999.3" r="5.2"/><circle cx="2114.2" cy="993.0" r="5.2"/><circle cx="2118.6" cy="993.7" r="5.2"/><circle cx="2123.0" cy="1000.9" r="5.2"/><circle cx="2127.4" cy="1016.6" r="5.2"/><circle cx="2131.8" cy="1037.0" r="5.2"/><circle cx="2136.2" cy="1059.3" r="5.2"/><circle cx="2140.7" cy="1083.6" r="5.2"/><circle cx="2145.1" cy="1107.0" r="5.2"/><circle cx="2149.5" cy="1125.8" r="5.2"/><circle cx="2153.9" cy="1142.6" r="5.2"/><circle cx="2158.3" cy="1154.6" r="5.2"/><circle cx="2162.7" cy="1164.4" r="5.2"/><circle cx="2167.1" cy="1173.0" r="5.2"/><circle cx="2171.6" cy="1176.4" r="5.2"/><circle cx="2176.0" cy="1180.6" r="5.2"/><circle cx="2180.4" cy="1180.8" r="5.2"/><circle cx="2184.8" cy="1183.5" r="5.2"/><circle cx="2189.2" cy="1183.3" r="5.2"/><circle cx="2193.6" cy="1183.6" r="5.2"/><circle cx="2198.0" cy="1182.9" r="5.2"/><circle cx="2202.4" cy="1183.9" r="5.2"/><circle cx="2206.9" cy="1184.6" r="5.2"/><circle cx="2211.3" cy="1185.1" r="5.2"/><circle cx="2215.7" cy="1183.2" r="5.2"/><circle cx="2220.1" cy="1184.4" r="5.2"/><circle cx="2224.5" cy="1184.0" r="5.2"/><circle cx="2228.9" cy="1184.2" r="5.2"/><circle cx="2233.3" cy="1185.5" r="5.2"/><circle cx="2237.8" cy="1185.4" r="5.2"/><circle cx="2242.2" cy="1184.0" r="5.2"/><circle cx="2246.6" cy="1185.5" r="5.2"/><circle cx="2251.0" cy="1184.6" r="5.2"/><circle cx="2255.4" cy="1185.0" r="5.2"/><circle cx="2259.8" cy="1185.5" r="5.2"/><circle cx="2264.2" cy="1185.3" r="5.2"/><circle cx="2268.6" cy="1184.5" r="5.2"/><circle cx="2273.1" cy="1186.4" r="5.2"/><circle cx="2277.5" cy="1186.8" r="5.2"/><circle cx="2281.9" cy="1185.3" r="5.2"/><circle cx="2286.3" cy="1185.2" r="5.2"/><circle cx="2290.7" cy="1187.1" r="5.2"/><circle cx="2295.1" cy="1186.9" r="5.2"/><circle cx="2299.5" cy="1187.3" r="5.2"/><circle cx="2304.0" cy="1186.5" r="5.2"/><circle cx="2308.4" cy="1185.4" r="5.2"/><circle cx="2312.8" cy="1186.5" r="5.2"/><circle cx="2317.2" cy="1187.0" r="5.2"/><circle cx="2321.6" cy="1185.7" r="5.2"/><circle cx="2326.0" cy="1186.0" r="5.2"/><circle cx="2330.4" cy="1186.6" r="5.2"/><circle cx="2334.8" cy="1187.7" r="5.2"/><circle cx="2339.3" cy="1186.6" r="5.2"/><circle cx="2343.7" cy="1186.8" r="5.2"/><circle cx="2348.1" cy="1187.1" r="5.2"/><circle cx="2352.5" cy="1186.7" r="5.2"/></g>
</g>
<path d="M2006.7,818 L2006.7,915 Q2008,950 2022,968 L2022,1024" fill="none" stroke="#333" stroke-width="2" stroke-dasharray="5,4"/>
<path d="M2100.5,776 L2100.5,922 Q2102,952 2115.5,972 L2115.5,994" fill="none" stroke="#333" stroke-width="2" stroke-dasharray="5,4"/>
<path d="M1954.0,960.5 L1956.0,960.5 L1958.0,960.6 L1960.0,960.6 L1962.0,960.7 L1964.0,960.7 L1966.0,960.7 L1968.0,960.8 L1970.0,960.8 L1972.0,960.9 L1974.0,960.9 L1976.0,961.0 L1978.0,961.0 L1980.0,961.1 L1982.0,961.1 L1984.0,961.2 L1986.0,961.2 L1988.0,961.2 L1990.0,961.3 L1992.0,961.3 L1994.0,961.4 L1996.0,961.4 L1998.0,961.5 L2000.0,961.5 L2002.0,961.6 L2004.0,961.6 L2006.0,961.6 L2008.0,961.7 L2010.0,961.7 L2012.0,961.8 L2014.0,961.8 L2016.0,961.9 L2018.0,961.9 L2020.0,962.0 L2022.0,962.0 L2024.0,962.1 L2026.0,962.1 L2028.0,962.1 L2030.0,962.2 L2032.0,962.2 L2034.0,962.3 L2036.0,962.3 L2038.0,962.4 L2040.0,962.4 L2042.0,962.5 L2044.0,962.5 L2046.0,962.6 L2048.0,962.6 L2050.0,962.6 L2052.0,962.7 L2054.0,962.7 L2056.0,962.8 L2058.0,962.8 L2060.0,962.9 L2062.0,962.9 L2064.0,963.0 L2066.0,963.0 L2068.0,963.1 L2070.0,963.1 L2072.0,963.1 L2074.0,963.2 L2076.0,963.2 L2078.0,963.3 L2080.0,963.3 L2082.0,963.4 L2084.0,963.4 L2086.0,963.5 L2088.0,963.5 L2090.0,963.6 L2092.0,963.6 L2094.0,963.6 L2096.0,963.7 L2098.0,963.7 L2100.0,963.8 L2102.0,963.8 L2104.0,963.9 L2106.0,963.9 L2108.0,964.0 L2110.0,964.0 L2112.0,964.1 L2114.0,964.1 L2116.0,964.1 L2118.0,964.2 L2120.0,964.2 L2122.0,964.3 L2124.0,964.3 L2126.0,964.4 L2128.0,964.4 L2130.0,964.5 L2132.0,964.5 L2134.0,964.5 L2136.0,964.6 L2138.0,964.6 L2140.0,964.7 L2142.0,964.7 L2144.0,964.8 L2146.0,964.8 L2148.0,964.9 L2150.0,964.9 L2152.0,965.0 L2154.0,965.0 L2156.0,965.0 L2158.0,965.1 L2160.0,965.1 L2162.0,965.2 L2164.0,965.2 L2166.0,965.3 L2168.0,965.3" fill="none" stroke="#ff00ff" stroke-width="3"/>
<path d="M2000.0,961.5 L2002.0,961.6 L2004.0,961.6 L2006.0,961.6 L2008.0,961.7 L2010.0,961.7 L2012.0,961.8 L2014.0,961.8 L2016.0,961.9 L2018.0,961.9 L2020.0,961.9 L2022.0,962.0 L2024.0,962.0 L2026.0,962.0 L2028.0,962.0 L2030.0,961.9 L2032.0,961.8 L2034.0,961.7 L2036.0,961.5 L2038.0,961.2 L2040.0,960.8 L2042.0,960.3 L2044.0,959.5 L2046.0,958.6 L2048.0,957.3 L2050.0,955.8 L2052.0,953.8 L2054.0,951.3 L2056.0,948.2 L2058.0,944.5 L2060.0,940.1 L2062.0,934.9 L2064.0,928.8 L2066.0,921.8 L2068.0,913.9 L2070.0,905.1" fill="none" stroke="#ff0000" stroke-width="3"/>
<path d="M2030.0,891.9 L2032.0,900.8 L2034.0,909.2 L2036.0,917.0 L2038.0,924.0 L2040.0,930.3 L2042.0,935.9 L2044.0,940.8 L2046.0,945.0 L2048.0,948.6 L2050.0,951.5 L2052.0,954.0 L2054.0,956.0 L2056.0,957.6 L2058.0,958.9 L2060.0,960.0 L2062.0,960.8 L2064.0,961.4 L2066.0,961.9 L2068.0,962.2 L2070.0,962.5 L2072.0,962.7 L2074.0,962.9 L2076.0,963.0 L2078.0,963.1 L2080.0,963.2" fill="none" stroke="#0000ff" stroke-width="3"/>
<path d="M1690.5,954.5 L1692.0,954.5 L1693.5,954.6 L1695.0,954.6 L1696.5,954.6 L1698.0,954.7 L1699.5,954.7 L1701.0,954.7 L1702.5,954.8 L1704.0,954.8 L1705.5,954.8 L1707.0,954.9 L1708.5,954.9 L1710.0,954.9 L1711.5,955.0 L1713.0,955.0 L1714.5,955.0 L1716.0,955.1 L1717.5,955.1 L1719.0,955.1 L1720.5,955.2 L1722.0,955.2 L1723.5,955.2 L1725.0,955.3 L1726.5,955.3 L1728.0,955.3 L1729.5,955.4 L1731.0,955.4 L1732.5,955.5 L1734.0,955.5 L1735.5,955.5 L1737.0,955.6 L1738.5,955.6 L1740.0,955.6 L1741.5,955.7 L1743.0,955.7 L1744.5,955.7 L1746.0,955.8 L1747.5,955.8 L1749.0,955.8 L1750.5,955.9 L1752.0,955.9 L1753.5,955.9 L1755.0,956.0 L1756.5,956.0 L1758.0,956.0 L1759.5,956.1 L1761.0,956.1 L1762.5,956.1 L1764.0,956.2 L1765.5,956.2 L1767.0,956.2 L1768.5,956.3 L1770.0,956.3 L1771.5,956.3 L1773.0,956.4 L1774.5,956.4 L1776.0,956.4 L1777.5,956.5 L1779.0,956.5 L1780.5,956.5 L1782.0,956.6 L1783.5,956.6 L1785.0,956.6 L1786.5,956.7 L1788.0,956.7 L1789.5,956.7 L1791.0,956.8 L1792.5,956.8 L1794.0,956.8 L1795.5,956.9 L1797.0,956.9 L1798.5,956.9 L1800.0,957.0 L1801.5,957.0 L1803.0,957.0 L1804.5,957.1 L1806.0,957.1 L1807.5,957.2 L1809.0,957.2 L1810.5,957.2 L1812.0,957.3 L1813.5,957.3 L1815.0,957.3 L1816.5,957.4 L1818.0,957.4 L1819.5,957.4 L1821.0,957.5 L1822.5,957.5 L1824.0,957.5 L1825.5,957.6 L1827.0,957.6 L1828.5,957.6 L1830.0,957.7 L1831.5,957.7 L1833.0,957.7 L1834.5,957.8 L1836.0,957.8 L1837.5,957.8 L1839.0,957.9 L1840.5,957.9 L1842.0,957.9 L1843.5,958.0 L1845.0,958.0 L1846.5,958.0 L1848.0,958.1 L1849.5,958.1 L1851.0,958.1 L1852.5,958.2 L1854.0,958.2 L1855.5,958.2 L1857.0,958.3 L1858.5,958.3 L1860.0,958.3 L1861.5,958.4 L1863.0,958.4 L1864.5,958.4 L1866.0,958.5 L1867.5,958.5 L1869.0,958.5 L1870.5,958.6 L1872.0,958.6 L1873.5,958.6 L1875.0,958.7 L1876.5,958.7 L1878.0,958.7 L1879.5,958.8 L1881.0,958.8 L1882.5,958.9 L1884.0,958.9 L1885.5,958.9 L1887.0,959.0 L1888.5,959.0 L1890.0,959.0 L1891.5,959.1 L1893.0,959.1 L1894.5,959.1 L1896.0,959.2 L1897.5,959.2 L1899.0,959.2 L1900.5,959.3 L1902.0,959.3 L1903.5,959.3 L1905.0,959.4 L1906.5,959.4 L1908.0,959.4 L1909.5,959.5 L1911.0,959.5 L1912.5,959.5 L1914.0,959.6 L1915.5,959.6 L1917.0,959.6 L1918.5,959.7 L1920.0,959.7 L1921.5,959.7 L1923.0,959.8 L1924.5,959.8 L1926.0,959.8 L1927.5,959.8 L1929.0,959.9 L1930.5,959.9 L1932.0,959.9 L1933.5,959.9 L1935.0,959.9 L1936.5,959.9 L1938.0,959.9 L1939.5,959.9 L1941.0,959.8 L1942.5,959.7 L1944.0,959.6 L1945.5,959.4 L1947.0,959.2 L1948.5,959.0 L1950.0,958.6 L1951.5,958.2 L1953.0,957.7 L1954.5,957.1 L1956.0,956.3 L1957.5,955.3 L1959.0,954.2 L1960.5,952.9 L1962.0,951.3 L1963.5,949.4 L1965.0,947.3 L1966.5,944.9 L1968.0,942.1 L1969.5,938.9 L1971.0,935.4 L1972.5,931.4 L1974.0,927.0 L1975.5,922.3 L1977.0,917.1 L1978.5,911.5 L1980.0,905.5 L1981.5,899.3 L1983.0,892.7 L1984.5,885.9 L1986.0,878.9 L1987.5,871.8 L1989.0,864.7 L1990.5,857.7 L1992.0,850.9 L1993.5,844.3 L1995.0,838.1 L1996.5,832.4 L1998.0,827.3 L1999.5,822.8 L2001.0,819.1 L2002.5,816.2 L2004.0,814.1 L2005.5,812.9 L2007.0,812.7 L2008.5,813.4 L2010.0,815.0 L2011.5,817.4 L2013.0,820.8 L2014.5,824.9 L2016.0,829.7 L2017.5,835.1 L2019.0,841.1 L2020.5,847.5 L2022.0,854.2 L2023.5,861.2 L2025.0,868.3 L2026.5,875.4 L2028.0,882.5 L2029.5,889.4 L2031.0,896.1 L2032.5,902.5 L2034.0,908.6 L2035.5,914.3 L2037.0,919.6 L2038.5,924.4 L2040.0,928.7 L2041.5,932.6 L2043.0,935.9 L2044.5,938.7 L2046.0,941.0 L2047.5,942.8 L2049.0,944.1 L2050.5,944.8 L2052.0,945.1 L2053.5,944.8 L2055.0,943.9 L2056.5,942.5 L2058.0,940.6 L2059.5,938.1 L2061.0,935.1 L2062.5,931.4 L2064.0,927.2 L2065.5,922.4 L2067.0,917.0 L2068.5,911.1 L2070.0,904.5 L2071.5,897.5 L2073.0,890.0 L2074.5,882.0 L2076.0,873.6 L2077.5,864.9 L2079.0,855.9 L2080.5,846.8 L2082.0,837.7 L2083.5,828.6 L2085.0,819.8 L2086.5,811.2 L2088.0,803.1 L2089.5,795.5 L2091.0,788.6 L2092.5,782.5 L2094.0,777.3 L2095.5,773.0 L2097.0,769.9 L2098.5,767.8 L2100.0,766.8 L2101.5,767.1 L2103.0,768.5 L2104.5,771.0 L2106.0,774.6 L2107.5,779.2 L2109.0,784.8 L2110.5,791.3 L2112.0,798.5 L2113.5,806.3 L2115.0,814.7 L2116.5,823.5 L2118.0,832.5 L2119.5,841.7 L2121.0,850.9 L2122.5,860.0 L2124.0,869.0 L2125.5,877.7 L2127.0,886.1 L2128.5,894.2 L2130.0,901.7 L2131.5,908.8 L2133.0,915.4 L2134.5,921.5 L2136.0,927.0 L2137.5,932.1 L2139.0,936.6 L2140.5,940.7 L2142.0,944.3 L2143.5,947.4 L2145.0,950.2 L2146.5,952.6 L2148.0,954.7 L2149.5,956.5 L2151.0,958.0 L2152.5,959.3 L2154.0,960.4 L2155.5,961.3 L2157.0,962.1 L2158.5,962.7 L2160.0,963.3 L2161.5,963.7 L2163.0,964.0 L2164.5,964.3 L2166.0,964.6 L2167.5,964.8 L2169.0,964.9 L2170.5,965.1 L2172.0,965.2 L2173.5,965.3 L2175.0,965.3 L2176.5,965.4 L2178.0,965.5 L2179.5,965.5 L2181.0,965.6 L2182.5,965.6 L2184.0,965.7 L2185.5,965.7 L2187.0,965.7 L2188.5,965.8 L2190.0,965.8 L2191.5,965.8 L2193.0,965.9 L2194.5,965.9 L2196.0,966.0 L2197.5,966.0 L2199.0,966.0 L2200.5,966.1 L2202.0,966.1 L2203.5,966.1 L2205.0,966.2 L2206.5,966.2 L2208.0,966.2 L2209.5,966.3 L2211.0,966.3 L2212.5,966.3 L2214.0,966.4 L2215.5,966.4 L2217.0,966.4 L2218.5,966.5 L2220.0,966.5 L2221.5,966.5 L2223.0,966.6 L2224.5,966.6 L2226.0,966.6 L2227.5,966.7 L2229.0,966.7 L2230.5,966.7 L2232.0,966.8 L2233.5,966.8 L2235.0,966.8 L2236.5,966.9 L2238.0,966.9 L2239.5,966.9 L2241.0,967.0 L2242.5,967.0 L2244.0,967.0 L2245.5,967.1 L2247.0,967.1 L2248.5,967.1 L2250.0,967.2 L2251.5,967.2 L2253.0,967.2 L2254.5,967.3 L2256.0,967.3 L2257.5,967.3 L2259.0,967.4 L2260.5,967.4 L2262.0,967.4 L2263.5,967.5 L2265.0,967.5 L2266.5,967.6 L2268.0,967.6 L2269.5,967.6 L2271.0,967.7 L2272.5,967.7 L2274.0,967.7 L2275.5,967.8 L2277.0,967.8 L2278.5,967.8 L2280.0,967.9 L2281.5,967.9 L2283.0,967.9 L2284.5,968.0 L2286.0,968.0 L2287.5,968.0 L2289.0,968.1 L2290.5,968.1 L2292.0,968.1 L2293.5,968.2 L2295.0,968.2 L2296.5,968.2 L2298.0,968.3 L2299.5,968.3 L2301.0,968.3 L2302.5,968.4 L2304.0,968.4 L2305.5,968.4 L2307.0,968.5 L2308.5,968.5 L2310.0,968.5 L2311.5,968.6 L2313.0,968.6 L2314.5,968.6 L2316.0,968.7 L2317.5,968.7 L2319.0,968.7 L2320.5,968.8 L2322.0,968.8 L2323.5,968.8 L2325.0,968.9 L2326.5,968.9 L2328.0,968.9 L2329.5,969.0 L2331.0,969.0 L2332.5,969.0 L2334.0,969.1 L2335.5,969.1 L2337.0,969.1 L2338.5,969.2 L2340.0,969.2 L2341.5,969.3 L2343.0,969.3 L2344.5,969.3 L2346.0,969.4 L2347.5,969.4 L2349.0,969.4 L2350.5,969.5 L2352.0,969.5" fill="none" stroke="#008000" stroke-width="3.6"/>
<path d="M1949.0,1178.1 L1951.0,1178.1 L1953.0,1178.1 L1955.0,1178.2 L1957.0,1178.2 L1959.0,1178.3 L1961.0,1178.3 L1963.0,1178.4 L1965.0,1178.4 L1967.0,1178.5 L1969.0,1178.5 L1971.0,1178.6 L1973.0,1178.6 L1975.0,1178.7 L1977.0,1178.7 L1979.0,1178.8 L1981.0,1178.8 L1983.0,1178.8 L1985.0,1178.9 L1987.0,1178.9 L1989.0,1179.0 L1991.0,1179.0 L1993.0,1179.1 L1995.0,1179.1 L1997.0,1179.2 L1999.0,1179.2 L2001.0,1179.3 L2003.0,1179.3 L2005.0,1179.4 L2007.0,1179.4 L2009.0,1179.5 L2011.0,1179.5 L2013.0,1179.6 L2015.0,1179.6 L2017.0,1179.6 L2019.0,1179.7 L2021.0,1179.7 L2023.0,1179.8 L2025.0,1179.8 L2027.0,1179.9 L2029.0,1179.9 L2031.0,1180.0 L2033.0,1180.0 L2035.0,1180.1 L2037.0,1180.1 L2039.0,1180.2 L2041.0,1180.2 L2043.0,1180.3 L2045.0,1180.3 L2047.0,1180.3 L2049.0,1180.4 L2051.0,1180.4 L2053.0,1180.5 L2055.0,1180.5 L2057.0,1180.6 L2059.0,1180.6 L2061.0,1180.7 L2063.0,1180.7 L2065.0,1180.8 L2067.0,1180.8 L2069.0,1180.9 L2071.0,1180.9 L2073.0,1181.0 L2075.0,1181.0 L2077.0,1181.0 L2079.0,1181.1 L2081.0,1181.1 L2083.0,1181.2 L2085.0,1181.2 L2087.0,1181.3 L2089.0,1181.3 L2091.0,1181.4 L2093.0,1181.4 L2095.0,1181.5 L2097.0,1181.5 L2099.0,1181.6 L2101.0,1181.6 L2103.0,1181.7 L2105.0,1181.7 L2107.0,1181.8 L2109.0,1181.8 L2111.0,1181.8 L2113.0,1181.9 L2115.0,1181.9 L2117.0,1182.0 L2119.0,1182.0 L2121.0,1182.1 L2123.0,1182.1 L2125.0,1182.2 L2127.0,1182.2 L2129.0,1182.3 L2131.0,1182.3 L2133.0,1182.4 L2135.0,1182.4 L2137.0,1182.5 L2139.0,1182.5 L2141.0,1182.5 L2143.0,1182.6 L2145.0,1182.6 L2147.0,1182.7 L2149.0,1182.7 L2151.0,1182.8 L2153.0,1182.8 L2155.0,1182.9 L2157.0,1182.9 L2159.0,1183.0 L2161.0,1183.0 L2163.0,1183.1 L2165.0,1183.1 L2167.0,1183.2 L2169.0,1183.2 L2171.0,1183.3 L2173.0,1183.3 L2175.0,1183.3 L2177.0,1183.4 L2179.0,1183.4 L2181.0,1183.5 L2183.0,1183.5 L2185.0,1183.6 L2187.0,1183.6 L2189.0,1183.7 L2191.0,1183.7" fill="none" stroke="#1ab4e8" stroke-width="3"/>
<path d="M2030.0,1179.9 L2032.0,1179.9 L2034.0,1179.9 L2036.0,1179.9 L2038.0,1179.9 L2040.0,1179.8 L2042.0,1179.7 L2044.0,1179.6 L2046.0,1179.4 L2048.0,1179.1 L2050.0,1178.7 L2052.0,1178.2 L2054.0,1177.5 L2056.0,1176.7 L2058.0,1175.6 L2060.0,1174.3 L2062.0,1172.6 L2064.0,1170.5 L2066.0,1168.1 L2068.0,1165.1 L2070.0,1161.6 L2072.0,1157.5 L2074.0,1152.8 L2076.0,1147.4 L2078.0,1141.2 L2080.0,1134.4" fill="none" stroke="#00c000" stroke-width="3"/>
<path d="M2050.0,1115.3 L2052.0,1123.0 L2054.0,1130.3 L2056.0,1137.0 L2058.0,1143.2 L2060.0,1148.8 L2062.0,1153.8 L2064.0,1158.2 L2066.0,1162.1 L2068.0,1165.4 L2070.0,1168.3 L2072.0,1170.8 L2074.0,1172.8 L2076.0,1174.5 L2078.0,1176.0 L2080.0,1177.1 L2082.0,1178.1 L2084.0,1178.8 L2086.0,1179.5 L2088.0,1179.9 L2090.0,1180.3 L2092.0,1180.6 L2094.0,1180.9" fill="none" stroke="#0000ff" stroke-width="3"/>
<path d="M1690.5,1172.0 L1692.0,1172.0 L1693.5,1172.1 L1695.0,1172.1 L1696.5,1172.1 L1698.0,1172.2 L1699.5,1172.2 L1701.0,1172.2 L1702.5,1172.3 L1704.0,1172.3 L1705.5,1172.4 L1707.0,1172.4 L1708.5,1172.4 L1710.0,1172.5 L1711.5,1172.5 L1713.0,1172.5 L1714.5,1172.6 L1716.0,1172.6 L1717.5,1172.6 L1719.0,1172.7 L1720.5,1172.7 L1722.0,1172.7 L1723.5,1172.8 L1725.0,1172.8 L1726.5,1172.8 L1728.0,1172.9 L1729.5,1172.9 L1731.0,1172.9 L1732.5,1173.0 L1734.0,1173.0 L1735.5,1173.1 L1737.0,1173.1 L1738.5,1173.1 L1740.0,1173.2 L1741.5,1173.2 L1743.0,1173.2 L1744.5,1173.3 L1746.0,1173.3 L1747.5,1173.3 L1749.0,1173.4 L1750.5,1173.4 L1752.0,1173.4 L1753.5,1173.5 L1755.0,1173.5 L1756.5,1173.5 L1758.0,1173.6 L1759.5,1173.6 L1761.0,1173.7 L1762.5,1173.7 L1764.0,1173.7 L1765.5,1173.8 L1767.0,1173.8 L1768.5,1173.8 L1770.0,1173.9 L1771.5,1173.9 L1773.0,1173.9 L1774.5,1174.0 L1776.0,1174.0 L1777.5,1174.0 L1779.0,1174.1 L1780.5,1174.1 L1782.0,1174.1 L1783.5,1174.2 L1785.0,1174.2 L1786.5,1174.2 L1788.0,1174.3 L1789.5,1174.3 L1791.0,1174.4 L1792.5,1174.4 L1794.0,1174.4 L1795.5,1174.5 L1797.0,1174.5 L1798.5,1174.5 L1800.0,1174.6 L1801.5,1174.6 L1803.0,1174.6 L1804.5,1174.7 L1806.0,1174.7 L1807.5,1174.7 L1809.0,1174.8 L1810.5,1174.8 L1812.0,1174.8 L1813.5,1174.9 L1815.0,1174.9 L1816.5,1175.0 L1818.0,1175.0 L1819.5,1175.0 L1821.0,1175.1 L1822.5,1175.1 L1824.0,1175.1 L1825.5,1175.2 L1827.0,1175.2 L1828.5,1175.2 L1830.0,1175.3 L1831.5,1175.3 L1833.0,1175.3 L1834.5,1175.4 L1836.0,1175.4 L1837.5,1175.4 L1839.0,1175.5 L1840.5,1175.5 L1842.0,1175.5 L1843.5,1175.6 L1845.0,1175.6 L1846.5,1175.7 L1848.0,1175.7 L1849.5,1175.7 L1851.0,1175.8 L1852.5,1175.8 L1854.0,1175.8 L1855.5,1175.9 L1857.0,1175.9 L1858.5,1175.9 L1860.0,1176.0 L1861.5,1176.0 L1863.0,1176.0 L1864.5,1176.1 L1866.0,1176.1 L1867.5,1176.1 L1869.0,1176.2 L1870.5,1176.2 L1872.0,1176.2 L1873.5,1176.3 L1875.0,1176.3 L1876.5,1176.4 L1878.0,1176.4 L1879.5,1176.4 L1881.0,1176.5 L1882.5,1176.5 L1884.0,1176.5 L1885.5,1176.6 L1887.0,1176.6 L1888.5,1176.6 L1890.0,1176.7 L1891.5,1176.7 L1893.0,1176.7 L1894.5,1176.8 L1896.0,1176.8 L1897.5,1176.8 L1899.0,1176.9 L1900.5,1176.9 L1902.0,1177.0 L1903.5,1177.0 L1905.0,1177.0 L1906.5,1177.1 L1908.0,1177.1 L1909.5,1177.1 L1911.0,1177.2 L1912.5,1177.2 L1914.0,1177.2 L1915.5,1177.3 L1917.0,1177.3 L1918.5,1177.3 L1920.0,1177.4 L1921.5,1177.4 L1923.0,1177.4 L1924.5,1177.5 L1926.0,1177.5 L1927.5,1177.5 L1929.0,1177.6 L1930.5,1177.6 L1932.0,1177.6 L1933.5,1177.7 L1935.0,1177.7 L1936.5,1177.7 L1938.0,1177.7 L1939.5,1177.7 L1941.0,1177.7 L1942.5,1177.7 L1944.0,1177.7 L1945.5,1177.7 L1947.0,1177.7 L1948.5,1177.6 L1950.0,1177.5 L1951.5,1177.4 L1953.0,1177.3 L1954.5,1177.1 L1956.0,1176.9 L1957.5,1176.6 L1959.0,1176.2 L1960.5,1175.8 L1962.0,1175.3 L1963.5,1174.6 L1965.0,1173.9 L1966.5,1173.0 L1968.0,1172.0 L1969.5,1170.8 L1971.0,1169.4 L1972.5,1167.9 L1974.0,1166.1 L1975.5,1164.0 L1977.0,1161.7 L1978.5,1159.1 L1980.0,1156.2 L1981.5,1153.0 L1983.0,1149.5 L1984.5,1145.7 L1986.0,1141.5 L1987.5,1137.0 L1989.0,1132.2 L1990.5,1127.1 L1992.0,1121.6 L1993.5,1116.0 L1995.0,1110.0 L1996.5,1103.9 L1998.0,1097.7 L1999.5,1091.3 L2001.0,1084.9 L2002.5,1078.6 L2004.0,1072.3 L2005.5,1066.1 L2007.0,1060.2 L2008.5,1054.6 L2010.0,1049.4 L2011.5,1044.6 L2013.0,1040.3 L2014.5,1036.6 L2016.0,1033.4 L2017.5,1030.9 L2019.0,1029.2 L2020.5,1028.1 L2022.0,1027.7 L2023.5,1028.1 L2025.0,1029.3 L2026.5,1031.1 L2028.0,1033.7 L2029.5,1036.9 L2031.0,1040.6 L2032.5,1045.0 L2034.0,1049.8 L2035.5,1055.1 L2037.0,1060.7 L2038.5,1066.6 L2040.0,1072.8 L2041.5,1079.0 L2043.0,1085.3 L2044.5,1091.6 L2046.0,1097.9 L2047.5,1103.9 L2049.0,1109.8 L2050.5,1115.5 L2052.0,1120.8 L2053.5,1125.8 L2055.0,1130.3 L2056.5,1134.5 L2058.0,1138.2 L2059.5,1141.4 L2061.0,1144.1 L2062.5,1146.3 L2064.0,1148.0 L2065.5,1149.1 L2067.0,1149.7 L2068.5,1149.6 L2070.0,1149.0 L2071.5,1147.9 L2073.0,1146.1 L2074.5,1143.8 L2076.0,1140.9 L2077.5,1137.4 L2079.0,1133.4 L2080.5,1128.8 L2082.0,1123.7 L2083.5,1118.0 L2085.0,1112.0 L2086.5,1105.5 L2088.0,1098.6 L2089.5,1091.3 L2091.0,1083.9 L2092.5,1076.2 L2094.0,1068.3 L2095.5,1060.4 L2097.0,1052.6 L2098.5,1044.9 L2100.0,1037.3 L2101.5,1030.1 L2103.0,1023.3 L2104.5,1016.9 L2106.0,1011.1 L2107.5,1006.0 L2109.0,1001.6 L2110.5,997.9 L2112.0,995.1 L2113.5,993.2 L2115.0,992.1 L2116.5,992.0 L2118.0,992.8 L2119.5,994.5 L2121.0,997.1 L2122.5,1000.6 L2124.0,1004.9 L2125.5,1009.9 L2127.0,1015.5 L2128.5,1021.8 L2130.0,1028.6 L2131.5,1035.8 L2133.0,1043.4 L2134.5,1051.2 L2136.0,1059.2 L2137.5,1067.2 L2139.0,1075.3 L2140.5,1083.3 L2142.0,1091.1 L2143.5,1098.8 L2145.0,1106.1 L2146.5,1113.2 L2148.0,1119.9 L2149.5,1126.3 L2151.0,1132.3 L2152.5,1137.8 L2154.0,1143.0 L2155.5,1147.7 L2157.0,1152.1 L2158.5,1156.0 L2160.0,1159.6 L2161.5,1162.8 L2163.0,1165.6 L2164.5,1168.2 L2166.0,1170.4 L2167.5,1172.4 L2169.0,1174.1 L2170.5,1175.6 L2172.0,1176.9 L2173.5,1178.0 L2175.0,1178.9 L2176.5,1179.8 L2178.0,1180.4 L2179.5,1181.0 L2181.0,1181.5 L2182.5,1181.9 L2184.0,1182.3 L2185.5,1182.6 L2187.0,1182.8 L2188.5,1183.0 L2190.0,1183.2 L2191.5,1183.3 L2193.0,1183.5 L2194.5,1183.6 L2196.0,1183.6 L2197.5,1183.7 L2199.0,1183.8 L2200.5,1183.9 L2202.0,1183.9 L2203.5,1184.0 L2205.0,1184.0 L2206.5,1184.1 L2208.0,1184.1 L2209.5,1184.1 L2211.0,1184.2 L2212.5,1184.2 L2214.0,1184.3 L2215.5,1184.3 L2217.0,1184.3 L2218.5,1184.4 L2220.0,1184.4 L2221.5,1184.4 L2223.0,1184.5 L2224.5,1184.5 L2226.0,1184.5 L2227.5,1184.6 L2229.0,1184.6 L2230.5,1184.6 L2232.0,1184.7 L2233.5,1184.7 L2235.0,1184.7 L2236.5,1184.8 L2238.0,1184.8 L2239.5,1184.9 L2241.0,1184.9 L2242.5,1184.9 L2244.0,1185.0 L2245.5,1185.0 L2247.0,1185.0 L2248.5,1185.1 L2250.0,1185.1 L2251.5,1185.1 L2253.0,1185.2 L2254.5,1185.2 L2256.0,1185.2 L2257.5,1185.3 L2259.0,1185.3 L2260.5,1185.3 L2262.0,1185.4 L2263.5,1185.4 L2265.0,1185.5 L2266.5,1185.5 L2268.0,1185.5 L2269.5,1185.6 L2271.0,1185.6 L2272.5,1185.6 L2274.0,1185.7 L2275.5,1185.7 L2277.0,1185.7 L2278.5,1185.8 L2280.0,1185.8 L2281.5,1185.8 L2283.0,1185.9 L2284.5,1185.9 L2286.0,1185.9 L2287.5,1186.0 L2289.0,1186.0 L2290.5,1186.0 L2292.0,1186.1 L2293.5,1186.1 L2295.0,1186.2 L2296.5,1186.2 L2298.0,1186.2 L2299.5,1186.3 L2301.0,1186.3 L2302.5,1186.3 L2304.0,1186.4 L2305.5,1186.4 L2307.0,1186.4 L2308.5,1186.5 L2310.0,1186.5 L2311.5,1186.5 L2313.0,1186.6 L2314.5,1186.6 L2316.0,1186.6 L2317.5,1186.7 L2319.0,1186.7 L2320.5,1186.8 L2322.0,1186.8 L2323.5,1186.8 L2325.0,1186.9 L2326.5,1186.9 L2328.0,1186.9 L2329.5,1187.0 L2331.0,1187.0 L2332.5,1187.0 L2334.0,1187.1 L2335.5,1187.1 L2337.0,1187.1 L2338.5,1187.2 L2340.0,1187.2 L2341.5,1187.2 L2343.0,1187.3 L2344.5,1187.3 L2346.0,1187.3 L2347.5,1187.4 L2349.0,1187.4 L2350.5,1187.5 L2352.0,1187.5" fill="none" stroke="#ff00ff" stroke-width="3.6"/>
<rect x="1690.5" y="715.5" width="662.0" height="499.8" fill="none" stroke="#222" stroke-width="3"/>
<line x1="1690.5" y1="1215.3" x2="1690.5" y2="1207.0" stroke="#000" stroke-width="3"/>
<line x1="1800.8" y1="1215.3" x2="1800.8" y2="1210.3" stroke="#000" stroke-width="3"/>
<line x1="1911.2" y1="1215.3" x2="1911.2" y2="1207.0" stroke="#000" stroke-width="3"/>
<line x1="2021.5" y1="1215.3" x2="2021.5" y2="1210.3" stroke="#000" stroke-width="3"/>
<line x1="2131.8" y1="1215.3" x2="2131.8" y2="1207.0" stroke="#000" stroke-width="3"/>
<line x1="2242.2" y1="1215.3" x2="2242.2" y2="1210.3" stroke="#000" stroke-width="3"/>
<line x1="2352.5" y1="1215.3" x2="2352.5" y2="1207.0" stroke="#000" stroke-width="3"/>
<text x="1690.5" y="1248.5" font-family="'Liberation Serif','Times New Roman',serif" font-size="30.0" font-weight="bold" fill="#000" text-anchor="middle" >45</text>
<text x="1911.2" y="1248.5" font-family="'Liberation Serif','Times New Roman',serif" font-size="30.0" font-weight="bold" fill="#000" text-anchor="middle" >40</text>
<text x="2131.8" y="1248.5" font-family="'Liberation Serif','Times New Roman',serif" font-size="30.0" font-weight="bold" fill="#000" text-anchor="middle" >35</text>
<text x="2352.5" y="1248.5" font-family="'Liberation Serif','Times New Roman',serif" font-size="30.0" font-weight="bold" fill="#000" text-anchor="middle" >30</text>
<text x="2007.0" y="1294.6" font-family="'Liberation Serif','Times New Roman',serif" font-size="48.0" font-weight="bold" fill="#000" text-anchor="middle" textLength="447" lengthAdjust="spacingAndGlyphs">Binding Energy (eV)</text>
<text transform="translate(1634.5,993) rotate(-90)" font-family="'Liberation Serif','Times New Roman',serif" font-size="50" font-weight="bold" text-anchor="middle" textLength="324" lengthAdjust="spacingAndGlyphs">Intensity (a.u.)</text>
<text x="1701.7" y="760.3" font-family="'Liberation Serif','Times New Roman',serif" font-size="38.5" font-weight="bold" fill="#000" text-anchor="start" textLength="219" lengthAdjust="spacingAndGlyphs">2Pt@WO<tspan dy="12" font-size="24">3</tspan><tspan dy="-12">/C</tspan></text>
<text x="2260.5" y="760.3" font-family="'Liberation Serif','Times New Roman',serif" font-size="38.5" font-weight="bold" fill="#000" text-anchor="start" textLength="83" lengthAdjust="spacingAndGlyphs">W 4f</text>
<text x="2081.0" y="753.3" font-family="'Liberation Serif','Times New Roman',serif" font-size="40.0" font-weight="bold" fill="#000" text-anchor="start" >4f<tspan dy="17" font-size="24">7/2</tspan></text>
<text x="1989.6" y="794.0" font-family="'Liberation Serif','Times New Roman',serif" font-size="40.0" font-weight="bold" fill="#000" text-anchor="start" >4f<tspan dy="18" font-size="24">5/2</tspan></text>
<text x="1710.8" y="1013.5" font-family="'Liberation Serif','Times New Roman',serif" font-size="37.5" font-weight="bold" fill="#000" text-anchor="start" textLength="122" lengthAdjust="spacingAndGlyphs">WO<tspan dy="12" font-size="24">3</tspan><tspan dy="-12">/C</tspan></text>
<text x="1578.0" y="771.0" font-family="'Liberation Sans',Arial,sans-serif" font-size="67.0" font-weight="bold" fill="#000" text-anchor="start" >(f)</text>
<defs><filter id="cblur" x="-0.05" y="-0.05" width="1.1" height="1.1"><feGaussianBlur stdDeviation="0.45"/></filter><clipPath id="fclip"><rect x="1690.5" y="715.5" width="662" height="500"/></clipPath></defs>
<g filter="url(#cblur)"><line x1="290.0" y1="749.8" x2="290.0" y2="890.4" stroke="#1e9fd0" stroke-width="2.8"/>
<line x1="290.0" y1="756.8" x2="290.0" y2="786.7" stroke="#ff1a1a" stroke-width="3.4" stroke-dasharray="7,3"/>
<line x1="290.0" y1="800.7" x2="290.0" y2="835.0" stroke="#ff1a1a" stroke-width="3.4" stroke-dasharray="7,3"/>
<line x1="290.0" y1="849.0" x2="290.0" y2="883.4" stroke="#ff1a1a" stroke-width="3.4" stroke-dasharray="7,3"/>
<line x1="303.5" y1="755.7" x2="303.5" y2="897.8" stroke="#1e9fd0" stroke-width="2.8"/>
<line x1="303.5" y1="762.7" x2="303.5" y2="794.0" stroke="#ff1a1a" stroke-width="3.4" stroke-dasharray="7,3"/>
<line x1="303.5" y1="808.0" x2="303.5" y2="841.7" stroke="#ff1a1a" stroke-width="3.4" stroke-dasharray="7,3"/>
<line x1="303.5" y1="855.7" x2="303.5" y2="890.8" stroke="#ff1a1a" stroke-width="3.4" stroke-dasharray="7,3"/>
<line x1="322.0" y1="749.8" x2="322.0" y2="890.4" stroke="#1e9fd0" stroke-width="2.8"/>
<line x1="322.0" y1="756.8" x2="322.0" y2="786.7" stroke="#ff1a1a" stroke-width="3.4" stroke-dasharray="7,3"/>
<line x1="322.0" y1="800.7" x2="322.0" y2="835.0" stroke="#ff1a1a" stroke-width="3.4" stroke-dasharray="7,3"/>
<line x1="322.0" y1="849.0" x2="322.0" y2="883.4" stroke="#ff1a1a" stroke-width="3.4" stroke-dasharray="7,3"/>
<line x1="329.5" y1="755.7" x2="329.5" y2="897.8" stroke="#1e9fd0" stroke-width="2.8"/>
<line x1="329.5" y1="762.7" x2="329.5" y2="794.0" stroke="#ff1a1a" stroke-width="3.4" stroke-dasharray="7,3"/>
<line x1="329.5" y1="808.0" x2="329.5" y2="841.7" stroke="#ff1a1a" stroke-width="3.4" stroke-dasharray="7,3"/>
<line x1="329.5" y1="855.7" x2="329.5" y2="890.8" stroke="#ff1a1a" stroke-width="3.4" stroke-dasharray="7,3"/>
<line x1="335.5" y1="749.8" x2="335.5" y2="890.4" stroke="#1e9fd0" stroke-width="2.8"/>
<line x1="335.5" y1="756.8" x2="335.5" y2="786.7" stroke="#ff1a1a" stroke-width="3.4" stroke-dasharray="7,3"/>
<line x1="335.5" y1="800.7" x2="335.5" y2="835.0" stroke="#ff1a1a" stroke-width="3.4" stroke-dasharray="7,3"/>
<line x1="335.5" y1="849.0" x2="335.5" y2="883.4" stroke="#ff1a1a" stroke-width="3.4" stroke-dasharray="7,3"/>
<line x1="343.0" y1="755.7" x2="343.0" y2="897.8" stroke="#1e9fd0" stroke-width="2.8"/>
<line x1="343.0" y1="762.7" x2="343.0" y2="794.0" stroke="#ff1a1a" stroke-width="3.4" stroke-dasharray="7,3"/>
<line x1="343.0" y1="808.0" x2="343.0" y2="841.7" stroke="#ff1a1a" stroke-width="3.4" stroke-dasharray="7,3"/>
<line x1="343.0" y1="855.7" x2="343.0" y2="890.8" stroke="#ff1a1a" stroke-width="3.4" stroke-dasharray="7,3"/>
<line x1="368.0" y1="749.8" x2="368.0" y2="890.4" stroke="#1e9fd0" stroke-width="2.8"/>
<line x1="368.0" y1="756.8" x2="368.0" y2="786.7" stroke="#ff1a1a" stroke-width="3.4" stroke-dasharray="7,3"/>
<line x1="368.0" y1="800.7" x2="368.0" y2="835.0" stroke="#ff1a1a" stroke-width="3.4" stroke-dasharray="7,3"/>
<line x1="368.0" y1="849.0" x2="368.0" y2="883.4" stroke="#ff1a1a" stroke-width="3.4" stroke-dasharray="7,3"/>
<line x1="381.0" y1="755.7" x2="381.0" y2="897.8" stroke="#1e9fd0" stroke-width="2.8"/>
<line x1="381.0" y1="762.7" x2="381.0" y2="794.0" stroke="#ff1a1a" stroke-width="3.4" stroke-dasharray="7,3"/>
<line x1="381.0" y1="808.0" x2="381.0" y2="841.7" stroke="#ff1a1a" stroke-width="3.4" stroke-dasharray="7,3"/>
<line x1="381.0" y1="855.7" x2="381.0" y2="890.8" stroke="#ff1a1a" stroke-width="3.4" stroke-dasharray="7,3"/>
<line x1="401.0" y1="749.8" x2="401.0" y2="890.4" stroke="#1e9fd0" stroke-width="2.8"/>
<line x1="401.0" y1="756.8" x2="401.0" y2="786.7" stroke="#ff1a1a" stroke-width="3.4" stroke-dasharray="7,3"/>
<line x1="401.0" y1="800.7" x2="401.0" y2="835.0" stroke="#ff1a1a" stroke-width="3.4" stroke-dasharray="7,3"/>
<line x1="401.0" y1="849.0" x2="401.0" y2="883.4" stroke="#ff1a1a" stroke-width="3.4" stroke-dasharray="7,3"/>
<line x1="407.0" y1="755.7" x2="407.0" y2="897.8" stroke="#1e9fd0" stroke-width="2.8"/>
<line x1="407.0" y1="762.7" x2="407.0" y2="794.0" stroke="#ff1a1a" stroke-width="3.4" stroke-dasharray="7,3"/>
<line x1="407.0" y1="808.0" x2="407.0" y2="841.7" stroke="#ff1a1a" stroke-width="3.4" stroke-dasharray="7,3"/>
<line x1="407.0" y1="855.7" x2="407.0" y2="890.8" stroke="#ff1a1a" stroke-width="3.4" stroke-dasharray="7,3"/>
<line x1="413.6" y1="749.8" x2="413.6" y2="890.4" stroke="#1e9fd0" stroke-width="2.8"/>
<line x1="413.6" y1="756.8" x2="413.6" y2="786.7" stroke="#ff1a1a" stroke-width="3.4" stroke-dasharray="7,3"/>
<line x1="413.6" y1="800.7" x2="413.6" y2="835.0" stroke="#ff1a1a" stroke-width="3.4" stroke-dasharray="7,3"/>
<line x1="413.6" y1="849.0" x2="413.6" y2="883.4" stroke="#ff1a1a" stroke-width="3.4" stroke-dasharray="7,3"/>
<line x1="420.0" y1="755.7" x2="420.0" y2="897.8" stroke="#1e9fd0" stroke-width="2.8"/>
<line x1="420.0" y1="762.7" x2="420.0" y2="794.0" stroke="#ff1a1a" stroke-width="3.4" stroke-dasharray="7,3"/>
<line x1="420.0" y1="808.0" x2="420.0" y2="841.7" stroke="#ff1a1a" stroke-width="3.4" stroke-dasharray="7,3"/>
<line x1="420.0" y1="855.7" x2="420.0" y2="890.8" stroke="#ff1a1a" stroke-width="3.4" stroke-dasharray="7,3"/>
<line x1="282.0" y1="749.8" x2="432.0" y2="752.8" stroke="#1e9fd0" stroke-width="2.8"/>
<line x1="292.0" y1="750.1" x2="299.4" y2="750.0" stroke="#ff1a1a" stroke-width="3.8" stroke-linecap="round"/>
<line x1="307.8" y1="751.5" x2="316.0" y2="749.3" stroke="#ff1a1a" stroke-width="3.8" stroke-linecap="round"/>
<line x1="324.8" y1="751.5" x2="334.6" y2="750.0" stroke="#ff1a1a" stroke-width="3.8" stroke-linecap="round"/>
<line x1="339.1" y1="748.8" x2="345.2" y2="753.2" stroke="#ff1a1a" stroke-width="3.8" stroke-linecap="round"/>
<line x1="355.9" y1="752.6" x2="363.4" y2="750.1" stroke="#ff1a1a" stroke-width="3.8" stroke-linecap="round"/>
<line x1="369.3" y1="752.0" x2="381.3" y2="751.3" stroke="#ff1a1a" stroke-width="3.8" stroke-linecap="round"/>
<line x1="389.1" y1="750.9" x2="400.1" y2="753.2" stroke="#ff1a1a" stroke-width="3.8" stroke-linecap="round"/>
<line x1="407.9" y1="750.0" x2="417.7" y2="754.9" stroke="#ff1a1a" stroke-width="3.8" stroke-linecap="round"/>
<line x1="422.9" y1="754.4" x2="432.0" y2="751.0" stroke="#ff1a1a" stroke-width="3.8" stroke-linecap="round"/>
<line x1="294.0" y1="755.7" x2="453.0" y2="758.9" stroke="#1e9fd0" stroke-width="2.8"/>
<line x1="304.0" y1="754.9" x2="312.8" y2="757.1" stroke="#ff1a1a" stroke-width="3.8" stroke-linecap="round"/>
<line x1="322.6" y1="756.3" x2="333.9" y2="756.5" stroke="#ff1a1a" stroke-width="3.8" stroke-linecap="round"/>
<line x1="343.6" y1="756.1" x2="355.1" y2="757.5" stroke="#ff1a1a" stroke-width="3.8" stroke-linecap="round"/>
<line x1="362.3" y1="756.3" x2="373.1" y2="758.0" stroke="#ff1a1a" stroke-width="3.8" stroke-linecap="round"/>
<line x1="380.6" y1="757.9" x2="392.2" y2="757.2" stroke="#ff1a1a" stroke-width="3.8" stroke-linecap="round"/>
<line x1="403.3" y1="758.3" x2="409.9" y2="757.6" stroke="#ff1a1a" stroke-width="3.8" stroke-linecap="round"/>
<line x1="414.9" y1="760.1" x2="422.2" y2="756.2" stroke="#ff1a1a" stroke-width="3.8" stroke-linecap="round"/>
<line x1="434.0" y1="759.4" x2="442.6" y2="757.8" stroke="#ff1a1a" stroke-width="3.8" stroke-linecap="round"/>
<line x1="282.0" y1="793.7" x2="432.0" y2="796.7" stroke="#1e9fd0" stroke-width="2.8"/>
<line x1="292.0" y1="791.7" x2="303.6" y2="796.3" stroke="#ff1a1a" stroke-width="3.8" stroke-linecap="round"/>
<line x1="314.4" y1="796.1" x2="326.4" y2="792.8" stroke="#ff1a1a" stroke-width="3.8" stroke-linecap="round"/>
<line x1="335.7" y1="797.2" x2="342.7" y2="792.5" stroke="#ff1a1a" stroke-width="3.8" stroke-linecap="round"/>
<line x1="353.6" y1="793.1" x2="365.4" y2="797.4" stroke="#ff1a1a" stroke-width="3.8" stroke-linecap="round"/>
<line x1="376.6" y1="797.1" x2="386.0" y2="794.3" stroke="#ff1a1a" stroke-width="3.8" stroke-linecap="round"/>
<line x1="395.8" y1="795.5" x2="403.0" y2="796.6" stroke="#ff1a1a" stroke-width="3.8" stroke-linecap="round"/>
<line x1="413.7" y1="794.6" x2="423.1" y2="798.3" stroke="#ff1a1a" stroke-width="3.8" stroke-linecap="round"/>
<line x1="294.0" y1="801.0" x2="453.0" y2="804.2" stroke="#1e9fd0" stroke-width="2.8"/>
<line x1="304.0" y1="801.8" x2="311.8" y2="800.8" stroke="#ff1a1a" stroke-width="3.8" stroke-linecap="round"/>
<line x1="321.9" y1="799.8" x2="333.2" y2="803.5" stroke="#ff1a1a" stroke-width="3.8" stroke-linecap="round"/>
<line x1="337.5" y1="799.6" x2="347.2" y2="804.4" stroke="#ff1a1a" stroke-width="3.8" stroke-linecap="round"/>
<line x1="351.6" y1="804.0" x2="361.9" y2="800.5" stroke="#ff1a1a" stroke-width="3.8" stroke-linecap="round"/>
<line x1="368.5" y1="801.6" x2="379.8" y2="803.6" stroke="#ff1a1a" stroke-width="3.8" stroke-linecap="round"/>
<line x1="391.6" y1="805.2" x2="400.7" y2="800.8" stroke="#ff1a1a" stroke-width="3.8" stroke-linecap="round"/>
<line x1="412.7" y1="805.4" x2="420.5" y2="801.5" stroke="#ff1a1a" stroke-width="3.8" stroke-linecap="round"/>
<line x1="425.1" y1="803.0" x2="434.7" y2="804.4" stroke="#ff1a1a" stroke-width="3.8" stroke-linecap="round"/>
<line x1="439.0" y1="803.7" x2="446.2" y2="804.2" stroke="#ff1a1a" stroke-width="3.8" stroke-linecap="round"/>
<line x1="282.0" y1="842.0" x2="432.0" y2="845.0" stroke="#1e9fd0" stroke-width="2.8"/>
<line x1="292.0" y1="842.6" x2="301.1" y2="842.0" stroke="#ff1a1a" stroke-width="3.8" stroke-linecap="round"/>
<line x1="310.3" y1="840.2" x2="319.8" y2="845.2" stroke="#ff1a1a" stroke-width="3.8" stroke-linecap="round"/>
<line x1="328.3" y1="843.5" x2="338.0" y2="842.5" stroke="#ff1a1a" stroke-width="3.8" stroke-linecap="round"/>
<line x1="349.6" y1="844.0" x2="358.6" y2="842.9" stroke="#ff1a1a" stroke-width="3.8" stroke-linecap="round"/>
<line x1="366.1" y1="841.5" x2="376.4" y2="846.1" stroke="#ff1a1a" stroke-width="3.8" stroke-linecap="round"/>
<line x1="382.3" y1="844.6" x2="390.1" y2="843.5" stroke="#ff1a1a" stroke-width="3.8" stroke-linecap="round"/>
<line x1="401.9" y1="844.2" x2="411.0" y2="844.7" stroke="#ff1a1a" stroke-width="3.8" stroke-linecap="round"/>
<line x1="419.4" y1="845.6" x2="425.5" y2="844.0" stroke="#ff1a1a" stroke-width="3.8" stroke-linecap="round"/>
<line x1="294.0" y1="848.7" x2="453.0" y2="851.9" stroke="#1e9fd0" stroke-width="2.8"/>
<line x1="304.0" y1="846.5" x2="312.1" y2="851.4" stroke="#ff1a1a" stroke-width="3.8" stroke-linecap="round"/>
<line x1="321.8" y1="849.6" x2="332.2" y2="849.1" stroke="#ff1a1a" stroke-width="3.8" stroke-linecap="round"/>
<line x1="336.4" y1="850.7" x2="342.7" y2="848.5" stroke="#ff1a1a" stroke-width="3.8" stroke-linecap="round"/>
<line x1="352.1" y1="848.9" x2="363.9" y2="851.0" stroke="#ff1a1a" stroke-width="3.8" stroke-linecap="round"/>
<line x1="369.9" y1="848.8" x2="378.7" y2="851.8" stroke="#ff1a1a" stroke-width="3.8" stroke-linecap="round"/>
<line x1="387.4" y1="852.1" x2="395.3" y2="849.2" stroke="#ff1a1a" stroke-width="3.8" stroke-linecap="round"/>
<line x1="402.2" y1="849.6" x2="410.1" y2="852.3" stroke="#ff1a1a" stroke-width="3.8" stroke-linecap="round"/>
<line x1="417.1" y1="849.6" x2="426.7" y2="852.9" stroke="#ff1a1a" stroke-width="3.8" stroke-linecap="round"/>
<line x1="433.1" y1="851.2" x2="441.3" y2="852.0" stroke="#ff1a1a" stroke-width="3.8" stroke-linecap="round"/>
<line x1="282.0" y1="890.4" x2="432.0" y2="893.4" stroke="#1e9fd0" stroke-width="2.8"/>
<line x1="292.0" y1="889.0" x2="302.2" y2="892.4" stroke="#ff1a1a" stroke-width="3.8" stroke-linecap="round"/>
<line x1="307.0" y1="889.8" x2="314.9" y2="892.2" stroke="#ff1a1a" stroke-width="3.8" stroke-linecap="round"/>
<line x1="321.6" y1="892.7" x2="332.6" y2="889.9" stroke="#ff1a1a" stroke-width="3.8" stroke-linecap="round"/>
<line x1="340.1" y1="892.3" x2="351.2" y2="891.1" stroke="#ff1a1a" stroke-width="3.8" stroke-linecap="round"/>
<line x1="356.6" y1="893.4" x2="364.6" y2="890.5" stroke="#ff1a1a" stroke-width="3.8" stroke-linecap="round"/>
<line x1="373.8" y1="891.5" x2="385.1" y2="893.2" stroke="#ff1a1a" stroke-width="3.8" stroke-linecap="round"/>
<line x1="392.7" y1="890.8" x2="400.1" y2="894.6" stroke="#ff1a1a" stroke-width="3.8" stroke-linecap="round"/>
<line x1="405.1" y1="891.8" x2="414.2" y2="894.1" stroke="#ff1a1a" stroke-width="3.8" stroke-linecap="round"/>
<line x1="419.8" y1="894.6" x2="430.6" y2="891.9" stroke="#ff1a1a" stroke-width="3.8" stroke-linecap="round"/>
<line x1="294.0" y1="897.8" x2="453.0" y2="901.0" stroke="#1e9fd0" stroke-width="2.8"/>
<line x1="304.0" y1="898.1" x2="311.6" y2="898.1" stroke="#ff1a1a" stroke-width="3.8" stroke-linecap="round"/>
<line x1="318.4" y1="897.2" x2="326.9" y2="899.5" stroke="#ff1a1a" stroke-width="3.8" stroke-linecap="round"/>
<line x1="334.3" y1="897.8" x2="342.7" y2="899.6" stroke="#ff1a1a" stroke-width="3.8" stroke-linecap="round"/>
<line x1="354.1" y1="897.6" x2="361.0" y2="900.5" stroke="#ff1a1a" stroke-width="3.8" stroke-linecap="round"/>
<line x1="365.1" y1="897.1" x2="376.7" y2="901.6" stroke="#ff1a1a" stroke-width="3.8" stroke-linecap="round"/>
<line x1="387.8" y1="900.1" x2="399.7" y2="899.5" stroke="#ff1a1a" stroke-width="3.8" stroke-linecap="round"/>
<line x1="407.1" y1="899.0" x2="418.8" y2="901.4" stroke="#ff1a1a" stroke-width="3.8" stroke-linecap="round"/>
<line x1="430.3" y1="902.1" x2="437.6" y2="899.1" stroke="#ff1a1a" stroke-width="3.8" stroke-linecap="round"/>
<line x1="447.6" y1="898.6" x2="453.0" y2="903.3" stroke="#ff1a1a" stroke-width="3.8" stroke-linecap="round"/></g>
<g filter="url(#cblur)"><line x1="55.4" y1="1023.5" x2="55.4" y2="1164.1" stroke="#1e9fd0" stroke-width="2.8"/>
<line x1="55.4" y1="1030.5" x2="55.4" y2="1060.4" stroke="#ff1a1a" stroke-width="3.4" stroke-dasharray="7,3"/>
<line x1="55.4" y1="1074.4" x2="55.4" y2="1108.7" stroke="#ff1a1a" stroke-width="3.4" stroke-dasharray="7,3"/>
<line x1="55.4" y1="1122.7" x2="55.4" y2="1157.1" stroke="#ff1a1a" stroke-width="3.4" stroke-dasharray="7,3"/>
<line x1="68.9" y1="1029.4" x2="68.9" y2="1171.5" stroke="#1e9fd0" stroke-width="2.8"/>
<line x1="68.9" y1="1036.4" x2="68.9" y2="1067.7" stroke="#ff1a1a" stroke-width="3.4" stroke-dasharray="7,3"/>
<line x1="68.9" y1="1081.7" x2="68.9" y2="1115.4" stroke="#ff1a1a" stroke-width="3.4" stroke-dasharray="7,3"/>
<line x1="68.9" y1="1129.4" x2="68.9" y2="1164.5" stroke="#ff1a1a" stroke-width="3.4" stroke-dasharray="7,3"/>
<line x1="87.4" y1="1023.5" x2="87.4" y2="1164.1" stroke="#1e9fd0" stroke-width="2.8"/>
<line x1="87.4" y1="1030.5" x2="87.4" y2="1060.4" stroke="#ff1a1a" stroke-width="3.4" stroke-dasharray="7,3"/>
<line x1="87.4" y1="1074.4" x2="87.4" y2="1108.7" stroke="#ff1a1a" stroke-width="3.4" stroke-dasharray="7,3"/>
<line x1="87.4" y1="1122.7" x2="87.4" y2="1157.1" stroke="#ff1a1a" stroke-width="3.4" stroke-dasharray="7,3"/>
<line x1="94.9" y1="1029.4" x2="94.9" y2="1171.5" stroke="#1e9fd0" stroke-width="2.8"/>
<line x1="94.9" y1="1036.4" x2="94.9" y2="1067.7" stroke="#ff1a1a" stroke-width="3.4" stroke-dasharray="7,3"/>
<line x1="94.9" y1="1081.7" x2="94.9" y2="1115.4" stroke="#ff1a1a" stroke-width="3.4" stroke-dasharray="7,3"/>
<line x1="94.9" y1="1129.4" x2="94.9" y2="1164.5" stroke="#ff1a1a" stroke-width="3.4" stroke-dasharray="7,3"/>
<line x1="100.9" y1="1023.5" x2="100.9" y2="1164.1" stroke="#1e9fd0" stroke-width="2.8"/>
<line x1="100.9" y1="1030.5" x2="100.9" y2="1060.4" stroke="#ff1a1a" stroke-width="3.4" stroke-dasharray="7,3"/>
<line x1="100.9" y1="1074.4" x2="100.9" y2="1108.7" stroke="#ff1a1a" stroke-width="3.4" stroke-dasharray="7,3"/>
<line x1="100.9" y1="1122.7" x2="100.9" y2="1157.1" stroke="#ff1a1a" stroke-width="3.4" stroke-dasharray="7,3"/>
<line x1="108.4" y1="1029.4" x2="108.4" y2="1171.5" stroke="#1e9fd0" stroke-width="2.8"/>
<line x1="108.4" y1="1036.4" x2="108.4" y2="1067.7" stroke="#ff1a1a" stroke-width="3.4" stroke-dasharray="7,3"/>
<line x1="108.4" y1="1081.7" x2="108.4" y2="1115.4" stroke="#ff1a1a" stroke-width="3.4" stroke-dasharray="7,3"/>
<line x1="108.4" y1="1129.4" x2="108.4" y2="1164.5" stroke="#ff1a1a" stroke-width="3.4" stroke-dasharray="7,3"/>
<line x1="133.4" y1="1023.5" x2="133.4" y2="1164.1" stroke="#1e9fd0" stroke-width="2.8"/>
<line x1="133.4" y1="1030.5" x2="133.4" y2="1060.4" stroke="#ff1a1a" stroke-width="3.4" stroke-dasharray="7,3"/>
<line x1="133.4" y1="1074.4" x2="133.4" y2="1108.7" stroke="#ff1a1a" stroke-width="3.4" stroke-dasharray="7,3"/>
<line x1="133.4" y1="1122.7" x2="133.4" y2="1157.1" stroke="#ff1a1a" stroke-width="3.4" stroke-dasharray="7,3"/>
<line x1="146.4" y1="1029.4" x2="146.4" y2="1171.5" stroke="#1e9fd0" stroke-width="2.8"/>
<line x1="146.4" y1="1036.4" x2="146.4" y2="1067.7" stroke="#ff1a1a" stroke-width="3.4" stroke-dasharray="7,3"/>
<line x1="146.4" y1="1081.7" x2="146.4" y2="1115.4" stroke="#ff1a1a" stroke-width="3.4" stroke-dasharray="7,3"/>
<line x1="146.4" y1="1129.4" x2="146.4" y2="1164.5" stroke="#ff1a1a" stroke-width="3.4" stroke-dasharray="7,3"/>
<line x1="166.4" y1="1023.5" x2="166.4" y2="1164.1" stroke="#1e9fd0" stroke-width="2.8"/>
<line x1="166.4" y1="1030.5" x2="166.4" y2="1060.4" stroke="#ff1a1a" stroke-width="3.4" stroke-dasharray="7,3"/>
<line x1="166.4" y1="1074.4" x2="166.4" y2="1108.7" stroke="#ff1a1a" stroke-width="3.4" stroke-dasharray="7,3"/>
<line x1="166.4" y1="1122.7" x2="166.4" y2="1157.1" stroke="#ff1a1a" stroke-width="3.4" stroke-dasharray="7,3"/>
<line x1="172.4" y1="1029.4" x2="172.4" y2="1171.5" stroke="#1e9fd0" stroke-width="2.8"/>
<line x1="172.4" y1="1036.4" x2="172.4" y2="1067.7" stroke="#ff1a1a" stroke-width="3.4" stroke-dasharray="7,3"/>
<line x1="172.4" y1="1081.7" x2="172.4" y2="1115.4" stroke="#ff1a1a" stroke-width="3.4" stroke-dasharray="7,3"/>
<line x1="172.4" y1="1129.4" x2="172.4" y2="1164.5" stroke="#ff1a1a" stroke-width="3.4" stroke-dasharray="7,3"/>
<line x1="179.0" y1="1023.5" x2="179.0" y2="1164.1" stroke="#1e9fd0" stroke-width="2.8"/>
<line x1="179.0" y1="1030.5" x2="179.0" y2="1060.4" stroke="#ff1a1a" stroke-width="3.4" stroke-dasharray="7,3"/>
<line x1="179.0" y1="1074.4" x2="179.0" y2="1108.7" stroke="#ff1a1a" stroke-width="3.4" stroke-dasharray="7,3"/>
<line x1="179.0" y1="1122.7" x2="179.0" y2="1157.1" stroke="#ff1a1a" stroke-width="3.4" stroke-dasharray="7,3"/>
<line x1="185.4" y1="1029.4" x2="185.4" y2="1171.5" stroke="#1e9fd0" stroke-width="2.8"/>
<line x1="185.4" y1="1036.4" x2="185.4" y2="1067.7" stroke="#ff1a1a" stroke-width="3.4" stroke-dasharray="7,3"/>
<line x1="185.4" y1="1081.7" x2="185.4" y2="1115.4" stroke="#ff1a1a" stroke-width="3.4" stroke-dasharray="7,3"/>
<line x1="185.4" y1="1129.4" x2="185.4" y2="1164.5" stroke="#ff1a1a" stroke-width="3.4" stroke-dasharray="7,3"/>
<line x1="47.4" y1="1023.5" x2="197.4" y2="1026.5" stroke="#1e9fd0" stroke-width="2.8"/>
<line x1="57.4" y1="1022.5" x2="68.8" y2="1025.2" stroke="#ff1a1a" stroke-width="3.8" stroke-linecap="round"/>
<line x1="78.4" y1="1025.9" x2="89.9" y2="1022.5" stroke="#ff1a1a" stroke-width="3.8" stroke-linecap="round"/>
<line x1="101.1" y1="1024.5" x2="112.5" y2="1024.9" stroke="#ff1a1a" stroke-width="3.8" stroke-linecap="round"/>
<line x1="121.1" y1="1026.4" x2="127.2" y2="1023.7" stroke="#ff1a1a" stroke-width="3.8" stroke-linecap="round"/>
<line x1="137.1" y1="1024.6" x2="144.2" y2="1026.2" stroke="#ff1a1a" stroke-width="3.8" stroke-linecap="round"/>
<line x1="150.6" y1="1024.1" x2="160.5" y2="1027.3" stroke="#ff1a1a" stroke-width="3.8" stroke-linecap="round"/>
<line x1="168.7" y1="1026.1" x2="177.2" y2="1025.9" stroke="#ff1a1a" stroke-width="3.8" stroke-linecap="round"/>
<line x1="188.7" y1="1027.9" x2="197.4" y2="1024.9" stroke="#ff1a1a" stroke-width="3.8" stroke-linecap="round"/>
<line x1="59.4" y1="1029.4" x2="218.4" y2="1032.6" stroke="#1e9fd0" stroke-width="2.8"/>
<line x1="69.4" y1="1027.7" x2="76.4" y2="1031.6" stroke="#ff1a1a" stroke-width="3.8" stroke-linecap="round"/>
<line x1="86.8" y1="1027.8" x2="98.3" y2="1032.3" stroke="#ff1a1a" stroke-width="3.8" stroke-linecap="round"/>
<line x1="108.7" y1="1032.8" x2="119.7" y2="1028.2" stroke="#ff1a1a" stroke-width="3.8" stroke-linecap="round"/>
<line x1="123.7" y1="1032.5" x2="133.5" y2="1029.1" stroke="#ff1a1a" stroke-width="3.8" stroke-linecap="round"/>
<line x1="144.4" y1="1029.0" x2="150.7" y2="1033.3" stroke="#ff1a1a" stroke-width="3.8" stroke-linecap="round"/>
<line x1="156.9" y1="1031.4" x2="164.5" y2="1031.5" stroke="#ff1a1a" stroke-width="3.8" stroke-linecap="round"/>
<line x1="172.7" y1="1030.7" x2="181.3" y2="1032.8" stroke="#ff1a1a" stroke-width="3.8" stroke-linecap="round"/>
<line x1="189.0" y1="1031.1" x2="199.7" y2="1033.1" stroke="#ff1a1a" stroke-width="3.8" stroke-linecap="round"/>
<line x1="203.7" y1="1031.5" x2="210.0" y2="1033.2" stroke="#ff1a1a" stroke-width="3.8" stroke-linecap="round"/>
<line x1="47.4" y1="1067.4" x2="197.4" y2="1070.4" stroke="#1e9fd0" stroke-width="2.8"/>
<line x1="57.4" y1="1067.0" x2="67.3" y2="1068.4" stroke="#ff1a1a" stroke-width="3.8" stroke-linecap="round"/>
<line x1="76.0" y1="1068.0" x2="84.1" y2="1068.2" stroke="#ff1a1a" stroke-width="3.8" stroke-linecap="round"/>
<line x1="89.7" y1="1069.3" x2="97.6" y2="1067.4" stroke="#ff1a1a" stroke-width="3.8" stroke-linecap="round"/>
<line x1="102.6" y1="1068.1" x2="112.0" y2="1069.1" stroke="#ff1a1a" stroke-width="3.8" stroke-linecap="round"/>
<line x1="121.7" y1="1069.9" x2="130.0" y2="1068.1" stroke="#ff1a1a" stroke-width="3.8" stroke-linecap="round"/>
<line x1="134.6" y1="1068.9" x2="141.7" y2="1069.5" stroke="#ff1a1a" stroke-width="3.8" stroke-linecap="round"/>
<line x1="148.7" y1="1068.2" x2="158.3" y2="1070.9" stroke="#ff1a1a" stroke-width="3.8" stroke-linecap="round"/>
<line x1="168.6" y1="1070.0" x2="176.8" y2="1069.8" stroke="#ff1a1a" stroke-width="3.8" stroke-linecap="round"/>
<line x1="187.2" y1="1071.2" x2="197.0" y2="1069.4" stroke="#ff1a1a" stroke-width="3.8" stroke-linecap="round"/>
<line x1="59.4" y1="1074.7" x2="218.4" y2="1077.9" stroke="#1e9fd0" stroke-width="2.8"/>
<line x1="69.4" y1="1076.1" x2="75.8" y2="1073.9" stroke="#ff1a1a" stroke-width="3.8" stroke-linecap="round"/>
<line x1="83.2" y1="1075.5" x2="91.8" y2="1075.0" stroke="#ff1a1a" stroke-width="3.8" stroke-linecap="round"/>
<line x1="102.8" y1="1073.6" x2="114.4" y2="1077.8" stroke="#ff1a1a" stroke-width="3.8" stroke-linecap="round"/>
<line x1="121.4" y1="1076.4" x2="132.8" y2="1075.7" stroke="#ff1a1a" stroke-width="3.8" stroke-linecap="round"/>
<line x1="143.1" y1="1073.9" x2="150.7" y2="1079.0" stroke="#ff1a1a" stroke-width="3.8" stroke-linecap="round"/>
<line x1="158.4" y1="1074.9" x2="165.2" y2="1078.6" stroke="#ff1a1a" stroke-width="3.8" stroke-linecap="round"/>
<line x1="175.7" y1="1078.4" x2="185.7" y2="1075.9" stroke="#ff1a1a" stroke-width="3.8" stroke-linecap="round"/>
<line x1="196.8" y1="1075.2" x2="207.5" y2="1079.9" stroke="#ff1a1a" stroke-width="3.8" stroke-linecap="round"/>
<line x1="47.4" y1="1115.7" x2="197.4" y2="1118.7" stroke="#1e9fd0" stroke-width="2.8"/>
<line x1="57.4" y1="1117.0" x2="64.0" y2="1115.0" stroke="#ff1a1a" stroke-width="3.8" stroke-linecap="round"/>
<line x1="68.7" y1="1114.2" x2="80.0" y2="1118.3" stroke="#ff1a1a" stroke-width="3.8" stroke-linecap="round"/>
<line x1="85.5" y1="1117.7" x2="91.6" y2="1115.3" stroke="#ff1a1a" stroke-width="3.8" stroke-linecap="round"/>
<line x1="102.3" y1="1119.0" x2="109.1" y2="1114.8" stroke="#ff1a1a" stroke-width="3.8" stroke-linecap="round"/>
<line x1="119.8" y1="1115.0" x2="129.9" y2="1119.5" stroke="#ff1a1a" stroke-width="3.8" stroke-linecap="round"/>
<line x1="140.5" y1="1116.7" x2="152.3" y2="1118.7" stroke="#ff1a1a" stroke-width="3.8" stroke-linecap="round"/>
<line x1="160.9" y1="1118.3" x2="171.7" y2="1117.9" stroke="#ff1a1a" stroke-width="3.8" stroke-linecap="round"/>
<line x1="176.0" y1="1119.9" x2="186.6" y2="1116.8" stroke="#ff1a1a" stroke-width="3.8" stroke-linecap="round"/>
<line x1="59.4" y1="1122.4" x2="218.4" y2="1125.6" stroke="#1e9fd0" stroke-width="2.8"/>
<line x1="69.4" y1="1123.5" x2="76.9" y2="1121.9" stroke="#ff1a1a" stroke-width="3.8" stroke-linecap="round"/>
<line x1="82.3" y1="1122.9" x2="89.8" y2="1122.9" stroke="#ff1a1a" stroke-width="3.8" stroke-linecap="round"/>
<line x1="98.7" y1="1123.1" x2="109.2" y2="1123.5" stroke="#ff1a1a" stroke-width="3.8" stroke-linecap="round"/>
<line x1="116.4" y1="1124.3" x2="124.6" y2="1123.0" stroke="#ff1a1a" stroke-width="3.8" stroke-linecap="round"/>
<line x1="131.8" y1="1125.8" x2="139.9" y2="1122.0" stroke="#ff1a1a" stroke-width="3.8" stroke-linecap="round"/>
<line x1="147.2" y1="1122.4" x2="153.7" y2="1126.0" stroke="#ff1a1a" stroke-width="3.8" stroke-linecap="round"/>
<line x1="161.7" y1="1122.4" x2="173.6" y2="1126.7" stroke="#ff1a1a" stroke-width="3.8" stroke-linecap="round"/>
<line x1="180.9" y1="1126.1" x2="191.3" y2="1123.8" stroke="#ff1a1a" stroke-width="3.8" stroke-linecap="round"/>
<line x1="196.6" y1="1127.2" x2="206.8" y2="1123.3" stroke="#ff1a1a" stroke-width="3.8" stroke-linecap="round"/>
<line x1="47.4" y1="1164.1" x2="197.4" y2="1167.1" stroke="#1e9fd0" stroke-width="2.8"/>
<line x1="57.4" y1="1161.9" x2="66.5" y2="1166.9" stroke="#ff1a1a" stroke-width="3.8" stroke-linecap="round"/>
<line x1="74.0" y1="1164.5" x2="84.4" y2="1164.9" stroke="#ff1a1a" stroke-width="3.8" stroke-linecap="round"/>
<line x1="89.9" y1="1164.4" x2="97.5" y2="1165.7" stroke="#ff1a1a" stroke-width="3.8" stroke-linecap="round"/>
<line x1="103.0" y1="1163.6" x2="112.6" y2="1167.0" stroke="#ff1a1a" stroke-width="3.8" stroke-linecap="round"/>
<line x1="119.1" y1="1164.8" x2="126.5" y2="1166.4" stroke="#ff1a1a" stroke-width="3.8" stroke-linecap="round"/>
<line x1="136.0" y1="1165.0" x2="147.7" y2="1167.0" stroke="#ff1a1a" stroke-width="3.8" stroke-linecap="round"/>
<line x1="154.1" y1="1167.6" x2="164.3" y2="1165.1" stroke="#ff1a1a" stroke-width="3.8" stroke-linecap="round"/>
<line x1="171.6" y1="1164.8" x2="182.8" y2="1168.6" stroke="#ff1a1a" stroke-width="3.8" stroke-linecap="round"/>
<line x1="191.4" y1="1169.4" x2="197.4" y2="1164.6" stroke="#ff1a1a" stroke-width="3.8" stroke-linecap="round"/>
<line x1="59.4" y1="1171.5" x2="218.4" y2="1174.7" stroke="#1e9fd0" stroke-width="2.8"/>
<line x1="69.4" y1="1172.6" x2="78.3" y2="1171.0" stroke="#ff1a1a" stroke-width="3.8" stroke-linecap="round"/>
<line x1="87.1" y1="1174.3" x2="95.9" y2="1169.9" stroke="#ff1a1a" stroke-width="3.8" stroke-linecap="round"/>
<line x1="106.6" y1="1174.2" x2="117.5" y2="1170.9" stroke="#ff1a1a" stroke-width="3.8" stroke-linecap="round"/>
<line x1="125.9" y1="1171.5" x2="134.8" y2="1174.3" stroke="#ff1a1a" stroke-width="3.8" stroke-linecap="round"/>
<line x1="144.6" y1="1171.7" x2="155.7" y2="1175.0" stroke="#ff1a1a" stroke-width="3.8" stroke-linecap="round"/>
<line x1="162.9" y1="1172.4" x2="173.3" y2="1175.0" stroke="#ff1a1a" stroke-width="3.8" stroke-linecap="round"/>
<line x1="185.0" y1="1172.4" x2="193.8" y2="1175.8" stroke="#ff1a1a" stroke-width="3.8" stroke-linecap="round"/>
<line x1="199.7" y1="1175.3" x2="207.1" y2="1173.4" stroke="#ff1a1a" stroke-width="3.8" stroke-linecap="round"/></g>
<g filter="url(#cblur)"><line x1="545.6" y1="1028.7" x2="545.6" y2="1169.3" stroke="#1e9fd0" stroke-width="2.8"/>
<line x1="545.6" y1="1035.7" x2="545.6" y2="1065.6" stroke="#ff1a1a" stroke-width="3.4" stroke-dasharray="7,3"/>
<line x1="545.6" y1="1079.6" x2="545.6" y2="1113.9" stroke="#ff1a1a" stroke-width="3.4" stroke-dasharray="7,3"/>
<line x1="545.6" y1="1127.9" x2="545.6" y2="1162.3" stroke="#ff1a1a" stroke-width="3.4" stroke-dasharray="7,3"/>
<line x1="559.1" y1="1034.6" x2="559.1" y2="1176.7" stroke="#1e9fd0" stroke-width="2.8"/>
<line x1="559.1" y1="1041.6" x2="559.1" y2="1072.9" stroke="#ff1a1a" stroke-width="3.4" stroke-dasharray="7,3"/>
<line x1="559.1" y1="1086.9" x2="559.1" y2="1120.6" stroke="#ff1a1a" stroke-width="3.4" stroke-dasharray="7,3"/>
<line x1="559.1" y1="1134.6" x2="559.1" y2="1169.7" stroke="#ff1a1a" stroke-width="3.4" stroke-dasharray="7,3"/>
<line x1="577.6" y1="1028.7" x2="577.6" y2="1169.3" stroke="#1e9fd0" stroke-width="2.8"/>
<line x1="577.6" y1="1035.7" x2="577.6" y2="1065.6" stroke="#ff1a1a" stroke-width="3.4" stroke-dasharray="7,3"/>
<line x1="577.6" y1="1079.6" x2="577.6" y2="1113.9" stroke="#ff1a1a" stroke-width="3.4" stroke-dasharray="7,3"/>
<line x1="577.6" y1="1127.9" x2="577.6" y2="1162.3" stroke="#ff1a1a" stroke-width="3.4" stroke-dasharray="7,3"/>
<line x1="585.1" y1="1034.6" x2="585.1" y2="1176.7" stroke="#1e9fd0" stroke-width="2.8"/>
<line x1="585.1" y1="1041.6" x2="585.1" y2="1072.9" stroke="#ff1a1a" stroke-width="3.4" stroke-dasharray="7,3"/>
<line x1="585.1" y1="1086.9" x2="585.1" y2="1120.6" stroke="#ff1a1a" stroke-width="3.4" stroke-dasharray="7,3"/>
<line x1="585.1" y1="1134.6" x2="585.1" y2="1169.7" stroke="#ff1a1a" stroke-width="3.4" stroke-dasharray="7,3"/>
<line x1="591.1" y1="1028.7" x2="591.1" y2="1169.3" stroke="#1e9fd0" stroke-width="2.8"/>
<line x1="591.1" y1="1035.7" x2="591.1" y2="1065.6" stroke="#ff1a1a" stroke-width="3.4" stroke-dasharray="7,3"/>
<line x1="591.1" y1="1079.6" x2="591.1" y2="1113.9" stroke="#ff1a1a" stroke-width="3.4" stroke-dasharray="7,3"/>
<line x1="591.1" y1="1127.9" x2="591.1" y2="1162.3" stroke="#ff1a1a" stroke-width="3.4" stroke-dasharray="7,3"/>
<line x1="598.6" y1="1034.6" x2="598.6" y2="1176.7" stroke="#1e9fd0" stroke-width="2.8"/>
<line x1="598.6" y1="1041.6" x2="598.6" y2="1072.9" stroke="#ff1a1a" stroke-width="3.4" stroke-dasharray="7,3"/>
<line x1="598.6" y1="1086.9" x2="598.6" y2="1120.6" stroke="#ff1a1a" stroke-width="3.4" stroke-dasharray="7,3"/>
<line x1="598.6" y1="1134.6" x2="598.6" y2="1169.7" stroke="#ff1a1a" stroke-width="3.4" stroke-dasharray="7,3"/>
<line x1="623.6" y1="1028.7" x2="623.6" y2="1169.3" stroke="#1e9fd0" stroke-width="2.8"/>
<line x1="623.6" y1="1035.7" x2="623.6" y2="1065.6" stroke="#ff1a1a" stroke-width="3.4" stroke-dasharray="7,3"/>
<line x1="623.6" y1="1079.6" x2="623.6" y2="1113.9" stroke="#ff1a1a" stroke-width="3.4" stroke-dasharray="7,3"/>
<line x1="623.6" y1="1127.9" x2="623.6" y2="1162.3" stroke="#ff1a1a" stroke-width="3.4" stroke-dasharray="7,3"/>
<line x1="636.6" y1="1034.6" x2="636.6" y2="1176.7" stroke="#1e9fd0" stroke-width="2.8"/>
<line x1="636.6" y1="1041.6" x2="636.6" y2="1072.9" stroke="#ff1a1a" stroke-width="3.4" stroke-dasharray="7,3"/>
<line x1="636.6" y1="1086.9" x2="636.6" y2="1120.6" stroke="#ff1a1a" stroke-width="3.4" stroke-dasharray="7,3"/>
<line x1="636.6" y1="1134.6" x2="636.6" y2="1169.7" stroke="#ff1a1a" stroke-width="3.4" stroke-dasharray="7,3"/>
<line x1="656.6" y1="1028.7" x2="656.6" y2="1169.3" stroke="#1e9fd0" stroke-width="2.8"/>
<line x1="656.6" y1="1035.7" x2="656.6" y2="1065.6" stroke="#ff1a1a" stroke-width="3.4" stroke-dasharray="7,3"/>
<line x1="656.6" y1="1079.6" x2="656.6" y2="1113.9" stroke="#ff1a1a" stroke-width="3.4" stroke-dasharray="7,3"/>
<line x1="656.6" y1="1127.9" x2="656.6" y2="1162.3" stroke="#ff1a1a" stroke-width="3.4" stroke-dasharray="7,3"/>
<line x1="662.6" y1="1034.6" x2="662.6" y2="1176.7" stroke="#1e9fd0" stroke-width="2.8"/>
<line x1="662.6" y1="1041.6" x2="662.6" y2="1072.9" stroke="#ff1a1a" stroke-width="3.4" stroke-dasharray="7,3"/>
<line x1="662.6" y1="1086.9" x2="662.6" y2="1120.6" stroke="#ff1a1a" stroke-width="3.4" stroke-dasharray="7,3"/>
<line x1="662.6" y1="1134.6" x2="662.6" y2="1169.7" stroke="#ff1a1a" stroke-width="3.4" stroke-dasharray="7,3"/>
<line x1="669.2" y1="1028.7" x2="669.2" y2="1169.3" stroke="#1e9fd0" stroke-width="2.8"/>
<line x1="669.2" y1="1035.7" x2="669.2" y2="1065.6" stroke="#ff1a1a" stroke-width="3.4" stroke-dasharray="7,3"/>
<line x1="669.2" y1="1079.6" x2="669.2" y2="1113.9" stroke="#ff1a1a" stroke-width="3.4" stroke-dasharray="7,3"/>
<line x1="669.2" y1="1127.9" x2="669.2" y2="1162.3" stroke="#ff1a1a" stroke-width="3.4" stroke-dasharray="7,3"/>
<line x1="675.6" y1="1034.6" x2="675.6" y2="1176.7" stroke="#1e9fd0" stroke-width="2.8"/>
<line x1="675.6" y1="1041.6" x2="675.6" y2="1072.9" stroke="#ff1a1a" stroke-width="3.4" stroke-dasharray="7,3"/>
<line x1="675.6" y1="1086.9" x2="675.6" y2="1120.6" stroke="#ff1a1a" stroke-width="3.4" stroke-dasharray="7,3"/>
<line x1="675.6" y1="1134.6" x2="675.6" y2="1169.7" stroke="#ff1a1a" stroke-width="3.4" stroke-dasharray="7,3"/>
<line x1="537.6" y1="1028.7" x2="687.6" y2="1031.7" stroke="#1e9fd0" stroke-width="2.8"/>
<line x1="547.6" y1="1027.5" x2="558.8" y2="1030.6" stroke="#ff1a1a" stroke-width="3.8" stroke-linecap="round"/>
<line x1="569.9" y1="1029.8" x2="577.5" y2="1029.1" stroke="#ff1a1a" stroke-width="3.8" stroke-linecap="round"/>
<line x1="588.4" y1="1032.0" x2="596.3" y2="1027.6" stroke="#ff1a1a" stroke-width="3.8" stroke-linecap="round"/>
<line x1="603.7" y1="1029.5" x2="614.0" y2="1030.8" stroke="#ff1a1a" stroke-width="3.8" stroke-linecap="round"/>
<line x1="618.7" y1="1030.5" x2="625.3" y2="1030.2" stroke="#ff1a1a" stroke-width="3.8" stroke-linecap="round"/>
<line x1="636.0" y1="1028.8" x2="643.7" y2="1032.7" stroke="#ff1a1a" stroke-width="3.8" stroke-linecap="round"/>
<line x1="650.6" y1="1029.8" x2="660.0" y2="1032.3" stroke="#ff1a1a" stroke-width="3.8" stroke-linecap="round"/>
<line x1="669.4" y1="1032.2" x2="675.5" y2="1030.6" stroke="#ff1a1a" stroke-width="3.8" stroke-linecap="round"/>
<line x1="682.2" y1="1029.7" x2="687.6" y2="1033.6" stroke="#ff1a1a" stroke-width="3.8" stroke-linecap="round"/>
<line x1="549.6" y1="1034.6" x2="708.6" y2="1037.8" stroke="#1e9fd0" stroke-width="2.8"/>
<line x1="559.6" y1="1032.9" x2="570.9" y2="1037.0" stroke="#ff1a1a" stroke-width="3.8" stroke-linecap="round"/>
<line x1="582.2" y1="1035.2" x2="588.8" y2="1035.4" stroke="#ff1a1a" stroke-width="3.8" stroke-linecap="round"/>
<line x1="600.3" y1="1034.9" x2="608.6" y2="1036.5" stroke="#ff1a1a" stroke-width="3.8" stroke-linecap="round"/>
<line x1="618.7" y1="1037.1" x2="629.3" y2="1035.1" stroke="#ff1a1a" stroke-width="3.8" stroke-linecap="round"/>
<line x1="635.6" y1="1037.2" x2="645.7" y2="1035.6" stroke="#ff1a1a" stroke-width="3.8" stroke-linecap="round"/>
<line x1="654.9" y1="1037.0" x2="665.8" y2="1036.6" stroke="#ff1a1a" stroke-width="3.8" stroke-linecap="round"/>
<line x1="671.9" y1="1035.5" x2="682.4" y2="1038.8" stroke="#ff1a1a" stroke-width="3.8" stroke-linecap="round"/>
<line x1="694.1" y1="1038.2" x2="704.1" y2="1037.0" stroke="#ff1a1a" stroke-width="3.8" stroke-linecap="round"/>
<line x1="537.6" y1="1072.6" x2="687.6" y2="1075.6" stroke="#1e9fd0" stroke-width="2.8"/>
<line x1="547.6" y1="1073.0" x2="557.4" y2="1072.8" stroke="#ff1a1a" stroke-width="3.8" stroke-linecap="round"/>
<line x1="562.8" y1="1074.3" x2="574.2" y2="1072.1" stroke="#ff1a1a" stroke-width="3.8" stroke-linecap="round"/>
<line x1="583.4" y1="1072.8" x2="590.1" y2="1074.4" stroke="#ff1a1a" stroke-width="3.8" stroke-linecap="round"/>
<line x1="601.6" y1="1072.7" x2="608.4" y2="1075.2" stroke="#ff1a1a" stroke-width="3.8" stroke-linecap="round"/>
<line x1="615.1" y1="1073.6" x2="625.4" y2="1074.9" stroke="#ff1a1a" stroke-width="3.8" stroke-linecap="round"/>
<line x1="634.2" y1="1076.4" x2="643.5" y2="1072.9" stroke="#ff1a1a" stroke-width="3.8" stroke-linecap="round"/>
<line x1="652.7" y1="1072.6" x2="661.5" y2="1077.4" stroke="#ff1a1a" stroke-width="3.8" stroke-linecap="round"/>
<line x1="668.0" y1="1075.2" x2="675.0" y2="1075.3" stroke="#ff1a1a" stroke-width="3.8" stroke-linecap="round"/>
<line x1="679.6" y1="1074.2" x2="687.6" y2="1076.9" stroke="#ff1a1a" stroke-width="3.8" stroke-linecap="round"/>
<line x1="549.6" y1="1079.9" x2="708.6" y2="1083.1" stroke="#1e9fd0" stroke-width="2.8"/>
<line x1="559.6" y1="1081.7" x2="570.2" y2="1078.7" stroke="#ff1a1a" stroke-width="3.8" stroke-linecap="round"/>
<line x1="577.0" y1="1081.7" x2="585.0" y2="1079.4" stroke="#ff1a1a" stroke-width="3.8" stroke-linecap="round"/>
<line x1="592.3" y1="1081.2" x2="601.5" y2="1080.5" stroke="#ff1a1a" stroke-width="3.8" stroke-linecap="round"/>
<line x1="611.7" y1="1079.4" x2="619.8" y2="1083.1" stroke="#ff1a1a" stroke-width="3.8" stroke-linecap="round"/>
<line x1="630.6" y1="1081.0" x2="637.3" y2="1082.2" stroke="#ff1a1a" stroke-width="3.8" stroke-linecap="round"/>
<line x1="643.4" y1="1080.2" x2="650.0" y2="1083.4" stroke="#ff1a1a" stroke-width="3.8" stroke-linecap="round"/>
<line x1="654.9" y1="1082.1" x2="665.6" y2="1082.1" stroke="#ff1a1a" stroke-width="3.8" stroke-linecap="round"/>
<line x1="675.4" y1="1082.8" x2="682.5" y2="1082.2" stroke="#ff1a1a" stroke-width="3.8" stroke-linecap="round"/>
<line x1="688.0" y1="1081.2" x2="696.5" y2="1084.3" stroke="#ff1a1a" stroke-width="3.8" stroke-linecap="round"/>
<line x1="537.6" y1="1120.9" x2="687.6" y2="1123.9" stroke="#1e9fd0" stroke-width="2.8"/>
<line x1="547.6" y1="1122.2" x2="555.1" y2="1120.1" stroke="#ff1a1a" stroke-width="3.8" stroke-linecap="round"/>
<line x1="565.4" y1="1119.0" x2="571.5" y2="1124.1" stroke="#ff1a1a" stroke-width="3.8" stroke-linecap="round"/>
<line x1="582.0" y1="1123.1" x2="593.3" y2="1120.7" stroke="#ff1a1a" stroke-width="3.8" stroke-linecap="round"/>
<line x1="604.9" y1="1123.1" x2="613.2" y2="1121.6" stroke="#ff1a1a" stroke-width="3.8" stroke-linecap="round"/>
<line x1="621.6" y1="1122.5" x2="631.1" y2="1122.8" stroke="#ff1a1a" stroke-width="3.8" stroke-linecap="round"/>
<line x1="640.2" y1="1123.1" x2="652.1" y2="1123.1" stroke="#ff1a1a" stroke-width="3.8" stroke-linecap="round"/>
<line x1="661.5" y1="1123.2" x2="669.3" y2="1123.7" stroke="#ff1a1a" stroke-width="3.8" stroke-linecap="round"/>
<line x1="680.2" y1="1122.2" x2="687.6" y2="1125.4" stroke="#ff1a1a" stroke-width="3.8" stroke-linecap="round"/>
<line x1="549.6" y1="1127.6" x2="708.6" y2="1130.8" stroke="#1e9fd0" stroke-width="2.8"/>
<line x1="559.6" y1="1129.7" x2="568.8" y2="1126.1" stroke="#ff1a1a" stroke-width="3.8" stroke-linecap="round"/>
<line x1="573.1" y1="1129.0" x2="582.1" y2="1127.3" stroke="#ff1a1a" stroke-width="3.8" stroke-linecap="round"/>
<line x1="591.2" y1="1126.6" x2="599.9" y2="1130.4" stroke="#ff1a1a" stroke-width="3.8" stroke-linecap="round"/>
<line x1="608.4" y1="1130.6" x2="620.2" y2="1127.2" stroke="#ff1a1a" stroke-width="3.8" stroke-linecap="round"/>
<line x1="631.3" y1="1129.7" x2="638.1" y2="1128.9" stroke="#ff1a1a" stroke-width="3.8" stroke-linecap="round"/>
<line x1="648.5" y1="1131.7" x2="658.2" y2="1127.6" stroke="#ff1a1a" stroke-width="3.8" stroke-linecap="round"/>
<line x1="662.6" y1="1130.9" x2="670.8" y2="1128.9" stroke="#ff1a1a" stroke-width="3.8" stroke-linecap="round"/>
<line x1="676.7" y1="1131.3" x2="683.1" y2="1129.1" stroke="#ff1a1a" stroke-width="3.8" stroke-linecap="round"/>
<line x1="691.4" y1="1129.7" x2="703.0" y2="1131.5" stroke="#ff1a1a" stroke-width="3.8" stroke-linecap="round"/>
<line x1="537.6" y1="1169.3" x2="687.6" y2="1172.3" stroke="#1e9fd0" stroke-width="2.8"/>
<line x1="547.6" y1="1170.8" x2="558.4" y2="1168.4" stroke="#ff1a1a" stroke-width="3.8" stroke-linecap="round"/>
<line x1="569.9" y1="1169.5" x2="581.1" y2="1170.7" stroke="#ff1a1a" stroke-width="3.8" stroke-linecap="round"/>
<line x1="588.6" y1="1168.7" x2="599.1" y2="1172.1" stroke="#ff1a1a" stroke-width="3.8" stroke-linecap="round"/>
<line x1="607.0" y1="1172.7" x2="613.6" y2="1168.8" stroke="#ff1a1a" stroke-width="3.8" stroke-linecap="round"/>
<line x1="618.0" y1="1172.0" x2="624.4" y2="1169.9" stroke="#ff1a1a" stroke-width="3.8" stroke-linecap="round"/>
<line x1="630.0" y1="1170.5" x2="637.0" y2="1172.0" stroke="#ff1a1a" stroke-width="3.8" stroke-linecap="round"/>
<line x1="645.0" y1="1170.8" x2="655.2" y2="1172.3" stroke="#ff1a1a" stroke-width="3.8" stroke-linecap="round"/>
<line x1="663.5" y1="1172.0" x2="672.0" y2="1171.8" stroke="#ff1a1a" stroke-width="3.8" stroke-linecap="round"/>
<line x1="681.2" y1="1172.7" x2="687.6" y2="1171.8" stroke="#ff1a1a" stroke-width="3.8" stroke-linecap="round"/>
<line x1="549.6" y1="1176.7" x2="708.6" y2="1179.9" stroke="#1e9fd0" stroke-width="2.8"/>
<line x1="559.6" y1="1176.4" x2="566.9" y2="1177.6" stroke="#ff1a1a" stroke-width="3.8" stroke-linecap="round"/>
<line x1="571.0" y1="1174.8" x2="578.2" y2="1179.6" stroke="#ff1a1a" stroke-width="3.8" stroke-linecap="round"/>
<line x1="588.5" y1="1179.8" x2="595.3" y2="1175.3" stroke="#ff1a1a" stroke-width="3.8" stroke-linecap="round"/>
<line x1="603.0" y1="1176.4" x2="610.2" y2="1179.3" stroke="#ff1a1a" stroke-width="3.8" stroke-linecap="round"/>
<line x1="615.9" y1="1176.0" x2="622.9" y2="1180.2" stroke="#ff1a1a" stroke-width="3.8" stroke-linecap="round"/>
<line x1="630.1" y1="1178.2" x2="637.1" y2="1178.6" stroke="#ff1a1a" stroke-width="3.8" stroke-linecap="round"/>
<line x1="641.4" y1="1176.9" x2="648.0" y2="1180.3" stroke="#ff1a1a" stroke-width="3.8" stroke-linecap="round"/>
<line x1="653.4" y1="1179.4" x2="662.3" y2="1178.3" stroke="#ff1a1a" stroke-width="3.8" stroke-linecap="round"/>
<line x1="666.8" y1="1178.3" x2="672.9" y2="1179.9" stroke="#ff1a1a" stroke-width="3.8" stroke-linecap="round"/>
<line x1="680.5" y1="1177.4" x2="688.9" y2="1181.4" stroke="#ff1a1a" stroke-width="3.8" stroke-linecap="round"/>
<line x1="698.6" y1="1177.4" x2="704.9" y2="1182.0" stroke="#ff1a1a" stroke-width="3.8" stroke-linecap="round"/></g>
<circle cx="340.6" cy="728.0" r="3.2" fill="#ff00ff"/>
<circle cx="111.0" cy="1006.0" r="3.2" fill="#ff00ff"/>
<circle cx="602.0" cy="1006.0" r="3.2" fill="#ff00ff"/>
<path d="M81,997.7 C100,968 130,938 160,915 C195,893 230,878 269.4,875" fill="none" stroke="#5a5a5a" stroke-width="3.6" stroke-linecap="round" stroke-linejoin="round" />
<path d="M249.8,864 L269.4,875 L249.8,886.7" fill="none" stroke="#5a5a5a" stroke-width="3.6" stroke-linecap="round" stroke-linejoin="round" />
<path d="M116,944.5 C150,918 180,890 201.4,857" fill="none" stroke="#5a5a5a" stroke-width="3.6" stroke-linecap="round" stroke-linejoin="round" />
<path d="M185,872.5 L201.4,856 L206,879.7" fill="none" stroke="#5a5a5a" stroke-width="3.6" stroke-linecap="round" stroke-linejoin="round" />
<path d="M476,880.8 C520,892 560,910 594,932.3 C620,950 645,978 660.2,1010" fill="none" stroke="#5a5a5a" stroke-width="3.6" stroke-linecap="round" stroke-linejoin="round" />
<path d="M641.5,995.3 L660.2,1010 L661.6,985.9" fill="none" stroke="#5a5a5a" stroke-width="3.6" stroke-linecap="round" stroke-linejoin="round" />
<path d="M540.4,1183.9 C470,1250 290,1280 167,1183" fill="none" stroke="#5a5a5a" stroke-width="3.6" stroke-linecap="round" stroke-linejoin="round" />
<path d="M191,1188 L167,1183 L174.7,1205" fill="none" stroke="#5a5a5a" stroke-width="3.6" stroke-linecap="round" stroke-linejoin="round" />
<path d="M399.7,1257.2 C375,1249 345,1245 318,1248 C305,1250 295,1254 286,1258.5" fill="none" stroke="#5a5a5a" stroke-width="3.6" stroke-linecap="round" stroke-linejoin="round" />
<path d="M295,1239.3 L284.5,1259 L305,1256.5 Z" fill="#5a5a5a"/>
<text x="198.3" y="839.0" font-family="'Liberation Serif','Times New Roman',serif" font-size="36.0" font-weight="bold" fill="#000" text-anchor="start" >H<tspan dy="7" font-size="22">2</tspan></text>
<text x="153.0" y="955.0" font-family="'Liberation Serif','Times New Roman',serif" font-size="35.0" font-weight="bold" fill="#000" text-anchor="start" textLength="91" lengthAdjust="spacingAndGlyphs">Step 3</text>
<text transform="translate(482.8,953) rotate(5)" font-family="'Liberation Serif','Times New Roman',serif" font-size="35" font-weight="bold" textLength="88" lengthAdjust="spacingAndGlyphs">Step 1</text>
<text x="588.6" y="929.6" font-family="'Liberation Serif','Times New Roman',serif" font-size="37.0" font-weight="bold" fill="#000" text-anchor="start" textLength="94" lengthAdjust="spacingAndGlyphs">+ H<tspan dy="7" font-size="22">2</tspan><tspan dy="-7">O</tspan></text>
<text x="318.8" y="1223.0" font-family="'Liberation Serif','Times New Roman',serif" font-size="37.0" font-weight="bold" fill="#000" text-anchor="start" textLength="90" lengthAdjust="spacingAndGlyphs">Step 2</text>
<text x="208.8" y="1297.2" font-family="'Liberation Serif','Times New Roman',serif" font-size="37.0" font-weight="bold" fill="#000" text-anchor="start" >+ OH<tspan dy="-17" font-size="20">-</tspan></text>
<text x="386.0" y="1291.3" font-family="'Liberation Serif','Times New Roman',serif" font-size="37.0" font-weight="bold" fill="#000" text-anchor="start" >+e<tspan dy="-16" font-size="20">-</tspan></text>
<text x="41.0" y="770.5" font-family="'Liberation Sans',Arial,sans-serif" font-size="67.0" font-weight="bold" fill="#000" text-anchor="start" >(d)</text>
</svg></body></html>
